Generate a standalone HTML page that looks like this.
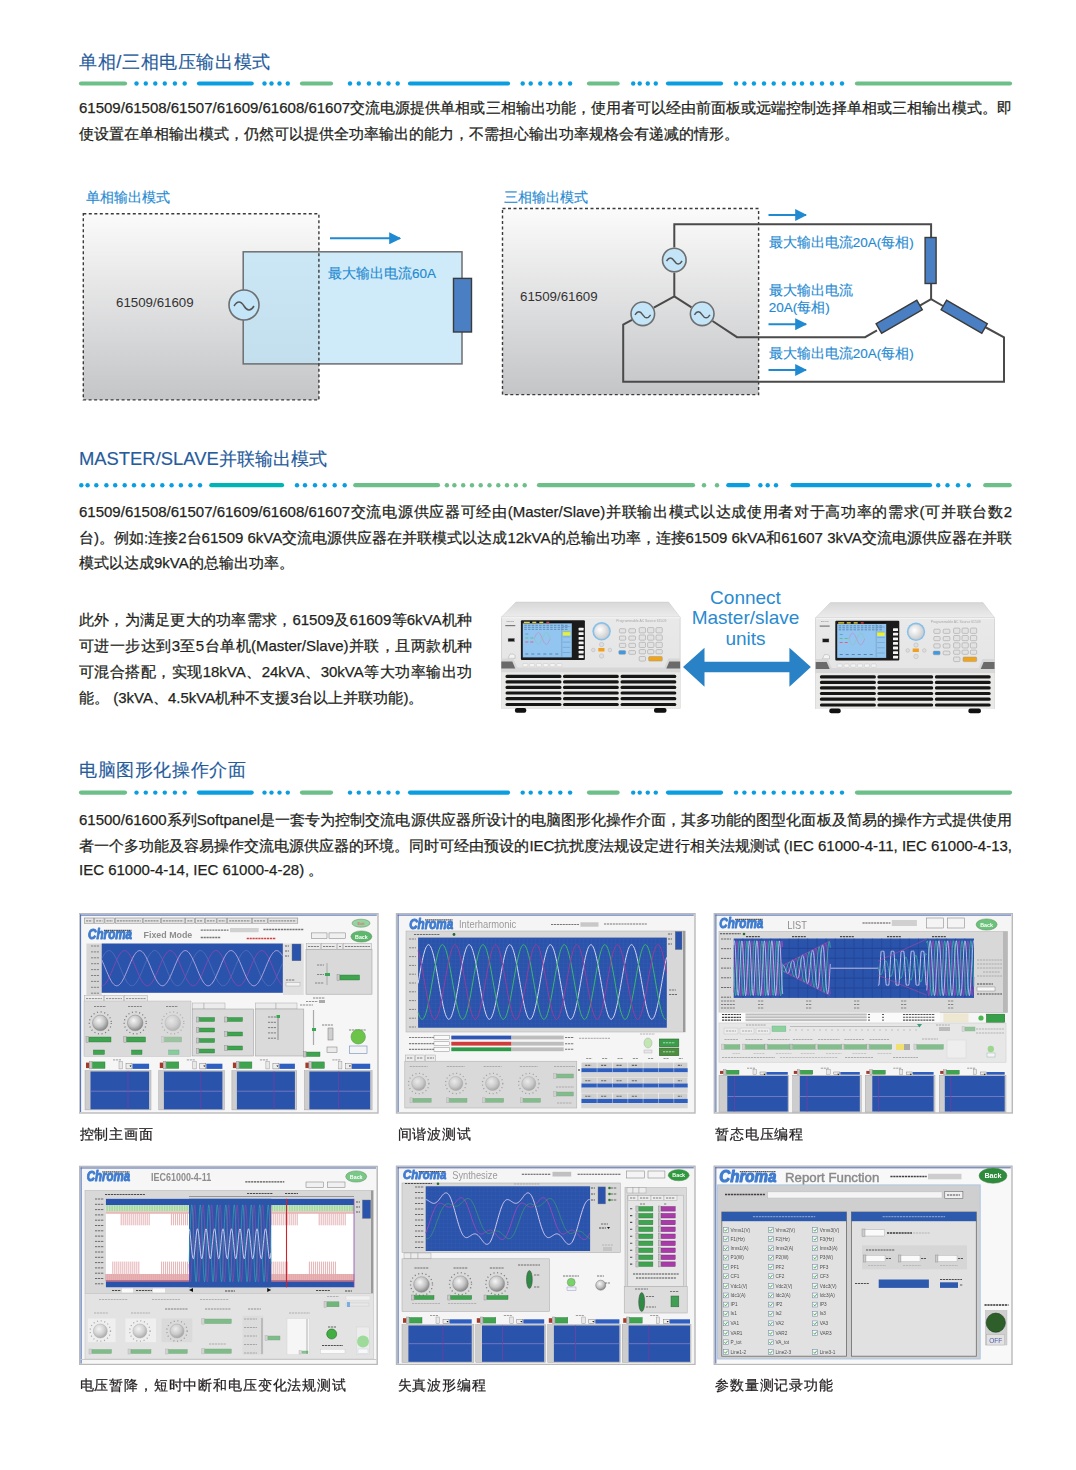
<!DOCTYPE html>
<html><head><meta charset="utf-8">
<style>
*{margin:0;padding:0;box-sizing:border-box}
html,body{width:1076px;height:1470px;background:#fff;overflow:hidden}
body{position:relative;font-family:"Liberation Sans",sans-serif;color:#231f20;font-weight:500}
.a{position:absolute;white-space:nowrap}
.h{font-size:18.4px;letter-spacing:0.6px;color:#265b9c;line-height:24px;-webkit-text-stroke:0.15px #265b9c}
.p{font-size:15px;line-height:26px;-webkit-text-stroke:0.25px #231f20;left:79px;width:933px;text-align:justify;text-align-last:justify}
.pl{text-align-last:left}
.lb{font-size:13.5px;color:#1f8ad2;line-height:16px;-webkit-text-stroke:0.15px #1f8ad2}
.cap{font-size:14px;letter-spacing:0.85px;line-height:20px;color:#231f20;-webkit-text-stroke:0.25px #231f20}
svg.full{position:absolute;left:0;top:0}
</style></head><body>
<svg class="full" width="1076" height="1470" viewBox="0 0 1076 1470">
<defs>
<linearGradient id="gg" x1="0" y1="0" x2="0" y2="1"><stop offset="0" stop-color="#fbfbfb"/><stop offset="1" stop-color="#c4c5c7"/></linearGradient>
<marker id="ah" viewBox="0 0 10 10" refX="9" refY="5" markerWidth="6" markerHeight="6" orient="auto"><path d="M0,0 L10,5 L0,10 z" fill="#1f8ad2"/></marker>
</defs>
<!--L1-->
<line x1="81.0" y1="83.5" x2="125.0" y2="83.5" stroke="#6cbf88" stroke-width="4.2" stroke-linecap="round"/>
<circle cx="136.5" cy="83.5" r="2.2" fill="#0a9ee0"/>
<circle cx="145.8" cy="83.5" r="2.2" fill="#0a9ee0"/>
<circle cx="155.3" cy="83.5" r="2.2" fill="#0a9ee0"/>
<circle cx="164.8" cy="83.5" r="2.2" fill="#0a9ee0"/>
<circle cx="174.9" cy="83.5" r="2.2" fill="#0a9ee0"/>
<circle cx="184.7" cy="83.5" r="2.2" fill="#0a9ee0"/>
<line x1="199.0" y1="83.5" x2="251.7" y2="83.5" stroke="#0a9ee0" stroke-width="4.2" stroke-linecap="round"/>
<circle cx="264.5" cy="83.5" r="2.2" fill="#0a9ee0"/>
<circle cx="271.5" cy="83.5" r="2.2" fill="#0a9ee0"/>
<circle cx="279.5" cy="83.5" r="2.2" fill="#0a9ee0"/>
<circle cx="287.8" cy="83.5" r="2.2" fill="#0a9ee0"/>
<line x1="302.0" y1="83.5" x2="331.0" y2="83.5" stroke="#6cbf88" stroke-width="4.2" stroke-linecap="round"/>
<circle cx="350.0" cy="83.5" r="2.2" fill="#0a9ee0"/>
<circle cx="358.8" cy="83.5" r="2.2" fill="#0a9ee0"/>
<circle cx="368.9" cy="83.5" r="2.2" fill="#0a9ee0"/>
<circle cx="378.9" cy="83.5" r="2.2" fill="#0a9ee0"/>
<circle cx="388.5" cy="83.5" r="2.2" fill="#0a9ee0"/>
<circle cx="397.7" cy="83.5" r="2.2" fill="#0a9ee0"/>
<line x1="410.0" y1="83.5" x2="508.0" y2="83.5" stroke="#0a9ee0" stroke-width="4.2" stroke-linecap="round"/>
<circle cx="522.7" cy="83.5" r="2.2" fill="#0a9ee0"/>
<circle cx="530.7" cy="83.5" r="2.2" fill="#0a9ee0"/>
<circle cx="540.3" cy="83.5" r="2.2" fill="#0a9ee0"/>
<circle cx="550.3" cy="83.5" r="2.2" fill="#0a9ee0"/>
<circle cx="560.3" cy="83.5" r="2.2" fill="#0a9ee0"/>
<circle cx="570.1" cy="83.5" r="2.2" fill="#0a9ee0"/>
<line x1="589.0" y1="83.5" x2="617.6" y2="83.5" stroke="#6cbf88" stroke-width="4.2" stroke-linecap="round"/>
<circle cx="633.2" cy="83.5" r="2.2" fill="#0a9ee0"/>
<circle cx="639.7" cy="83.5" r="2.2" fill="#0a9ee0"/>
<circle cx="647.8" cy="83.5" r="2.2" fill="#0a9ee0"/>
<circle cx="655.8" cy="83.5" r="2.2" fill="#0a9ee0"/>
<line x1="668.0" y1="83.5" x2="721.0" y2="83.5" stroke="#0a9ee0" stroke-width="4.2" stroke-linecap="round"/>
<circle cx="736.0" cy="83.5" r="2.2" fill="#0a9ee0"/>
<circle cx="744.4" cy="83.5" r="2.2" fill="#0a9ee0"/>
<circle cx="753.9" cy="83.5" r="2.2" fill="#0a9ee0"/>
<circle cx="764.0" cy="83.5" r="2.2" fill="#0a9ee0"/>
<circle cx="773.7" cy="83.5" r="2.2" fill="#0a9ee0"/>
<circle cx="783.8" cy="83.5" r="2.2" fill="#0a9ee0"/>
<circle cx="794.0" cy="83.5" r="2.2" fill="#0a9ee0"/>
<circle cx="802.0" cy="83.5" r="2.2" fill="#0a9ee0"/>
<circle cx="812.0" cy="83.5" r="2.2" fill="#0a9ee0"/>
<circle cx="822.0" cy="83.5" r="2.2" fill="#0a9ee0"/>
<circle cx="832.0" cy="83.5" r="2.2" fill="#0a9ee0"/>
<circle cx="842.0" cy="83.5" r="2.2" fill="#0a9ee0"/>
<line x1="857.0" y1="83.5" x2="1010.0" y2="83.5" stroke="#6cbf88" stroke-width="4.2" stroke-linecap="round"/>
<!--L2-->
<circle cx="81.3" cy="485.2" r="2.2" fill="#0a9ee0"/>
<circle cx="87.6" cy="485.2" r="2.2" fill="#0a9ee0"/>
<circle cx="96.3" cy="485.2" r="2.2" fill="#0a9ee0"/>
<circle cx="106.4" cy="485.2" r="2.2" fill="#0a9ee0"/>
<circle cx="115.2" cy="485.2" r="2.2" fill="#0a9ee0"/>
<circle cx="124.7" cy="485.2" r="2.2" fill="#0a9ee0"/>
<circle cx="134.0" cy="485.2" r="2.2" fill="#0a9ee0"/>
<circle cx="143.3" cy="485.2" r="2.2" fill="#0a9ee0"/>
<circle cx="152.8" cy="485.2" r="2.2" fill="#0a9ee0"/>
<circle cx="162.3" cy="485.2" r="2.2" fill="#0a9ee0"/>
<circle cx="171.6" cy="485.2" r="2.2" fill="#0a9ee0"/>
<circle cx="180.9" cy="485.2" r="2.2" fill="#0a9ee0"/>
<circle cx="190.5" cy="485.2" r="2.2" fill="#0a9ee0"/>
<circle cx="200.0" cy="485.2" r="2.2" fill="#0a9ee0"/>
<line x1="211.3" y1="485.2" x2="282.0" y2="485.2" stroke="#00b3b5" stroke-width="4.2" stroke-linecap="round"/>
<circle cx="297.0" cy="485.2" r="2.2" fill="#0a9ee0"/>
<circle cx="305.0" cy="485.2" r="2.2" fill="#0a9ee0"/>
<circle cx="315.0" cy="485.2" r="2.2" fill="#0a9ee0"/>
<circle cx="324.7" cy="485.2" r="2.2" fill="#0a9ee0"/>
<circle cx="334.7" cy="485.2" r="2.2" fill="#0a9ee0"/>
<circle cx="344.7" cy="485.2" r="2.2" fill="#0a9ee0"/>
<line x1="355.3" y1="485.2" x2="438.0" y2="485.2" stroke="#6cbf88" stroke-width="4.2" stroke-linecap="round"/>
<circle cx="446.9" cy="485.2" r="2.2" fill="#6cbf88"/>
<circle cx="454.4" cy="485.2" r="2.2" fill="#6cbf88"/>
<circle cx="463.2" cy="485.2" r="2.2" fill="#6cbf88"/>
<circle cx="472.0" cy="485.2" r="2.2" fill="#6cbf88"/>
<circle cx="480.7" cy="485.2" r="2.2" fill="#6cbf88"/>
<circle cx="489.5" cy="485.2" r="2.2" fill="#6cbf88"/>
<circle cx="498.3" cy="485.2" r="2.2" fill="#6cbf88"/>
<circle cx="507.0" cy="485.2" r="2.2" fill="#6cbf88"/>
<circle cx="515.9" cy="485.2" r="2.2" fill="#6cbf88"/>
<circle cx="524.7" cy="485.2" r="2.2" fill="#6cbf88"/>
<line x1="539.0" y1="485.2" x2="693.0" y2="485.2" stroke="#6cbf88" stroke-width="4.2" stroke-linecap="round"/>
<circle cx="704.0" cy="485.2" r="2.2" fill="#6cbf88"/>
<circle cx="717.0" cy="485.2" r="2.2" fill="#6cbf88"/>
<line x1="728.3" y1="485.2" x2="748.0" y2="485.2" stroke="#0a9ee0" stroke-width="4.2" stroke-linecap="round"/>
<circle cx="760.4" cy="485.2" r="2.2" fill="#0a9ee0"/>
<circle cx="767.7" cy="485.2" r="2.2" fill="#0a9ee0"/>
<circle cx="776.0" cy="485.2" r="2.2" fill="#0a9ee0"/>
<line x1="792.6" y1="485.2" x2="930.0" y2="485.2" stroke="#0a9ee0" stroke-width="4.2" stroke-linecap="round"/>
<circle cx="938.2" cy="485.2" r="2.2" fill="#0a9ee0"/>
<circle cx="947.5" cy="485.2" r="2.2" fill="#0a9ee0"/>
<circle cx="958.0" cy="485.2" r="2.2" fill="#0a9ee0"/>
<circle cx="968.8" cy="485.2" r="2.2" fill="#0a9ee0"/>
<line x1="985.3" y1="485.2" x2="1009.7" y2="485.2" stroke="#6cbf88" stroke-width="4.2" stroke-linecap="round"/>
<!--L3-->
<line x1="81.0" y1="792.6" x2="125.0" y2="792.6" stroke="#6cbf88" stroke-width="4.2" stroke-linecap="round"/>
<circle cx="136.5" cy="792.6" r="2.2" fill="#0a9ee0"/>
<circle cx="145.8" cy="792.6" r="2.2" fill="#0a9ee0"/>
<circle cx="155.3" cy="792.6" r="2.2" fill="#0a9ee0"/>
<circle cx="164.8" cy="792.6" r="2.2" fill="#0a9ee0"/>
<circle cx="174.9" cy="792.6" r="2.2" fill="#0a9ee0"/>
<circle cx="184.7" cy="792.6" r="2.2" fill="#0a9ee0"/>
<line x1="199.0" y1="792.6" x2="251.7" y2="792.6" stroke="#0a9ee0" stroke-width="4.2" stroke-linecap="round"/>
<circle cx="264.5" cy="792.6" r="2.2" fill="#0a9ee0"/>
<circle cx="271.5" cy="792.6" r="2.2" fill="#0a9ee0"/>
<circle cx="279.5" cy="792.6" r="2.2" fill="#0a9ee0"/>
<circle cx="287.8" cy="792.6" r="2.2" fill="#0a9ee0"/>
<line x1="302.0" y1="792.6" x2="331.0" y2="792.6" stroke="#6cbf88" stroke-width="4.2" stroke-linecap="round"/>
<circle cx="350.0" cy="792.6" r="2.2" fill="#0a9ee0"/>
<circle cx="358.8" cy="792.6" r="2.2" fill="#0a9ee0"/>
<circle cx="368.9" cy="792.6" r="2.2" fill="#0a9ee0"/>
<circle cx="378.9" cy="792.6" r="2.2" fill="#0a9ee0"/>
<circle cx="388.5" cy="792.6" r="2.2" fill="#0a9ee0"/>
<circle cx="397.7" cy="792.6" r="2.2" fill="#0a9ee0"/>
<line x1="410.0" y1="792.6" x2="508.0" y2="792.6" stroke="#0a9ee0" stroke-width="4.2" stroke-linecap="round"/>
<circle cx="522.7" cy="792.6" r="2.2" fill="#0a9ee0"/>
<circle cx="530.7" cy="792.6" r="2.2" fill="#0a9ee0"/>
<circle cx="540.3" cy="792.6" r="2.2" fill="#0a9ee0"/>
<circle cx="550.3" cy="792.6" r="2.2" fill="#0a9ee0"/>
<circle cx="560.3" cy="792.6" r="2.2" fill="#0a9ee0"/>
<circle cx="570.1" cy="792.6" r="2.2" fill="#0a9ee0"/>
<line x1="589.0" y1="792.6" x2="617.6" y2="792.6" stroke="#6cbf88" stroke-width="4.2" stroke-linecap="round"/>
<circle cx="633.2" cy="792.6" r="2.2" fill="#0a9ee0"/>
<circle cx="639.7" cy="792.6" r="2.2" fill="#0a9ee0"/>
<circle cx="647.8" cy="792.6" r="2.2" fill="#0a9ee0"/>
<circle cx="655.8" cy="792.6" r="2.2" fill="#0a9ee0"/>
<line x1="668.0" y1="792.6" x2="721.0" y2="792.6" stroke="#0a9ee0" stroke-width="4.2" stroke-linecap="round"/>
<circle cx="736.0" cy="792.6" r="2.2" fill="#0a9ee0"/>
<circle cx="744.4" cy="792.6" r="2.2" fill="#0a9ee0"/>
<circle cx="753.9" cy="792.6" r="2.2" fill="#0a9ee0"/>
<circle cx="764.0" cy="792.6" r="2.2" fill="#0a9ee0"/>
<circle cx="773.7" cy="792.6" r="2.2" fill="#0a9ee0"/>
<circle cx="783.8" cy="792.6" r="2.2" fill="#0a9ee0"/>
<circle cx="794.0" cy="792.6" r="2.2" fill="#0a9ee0"/>
<circle cx="802.0" cy="792.6" r="2.2" fill="#0a9ee0"/>
<circle cx="812.0" cy="792.6" r="2.2" fill="#0a9ee0"/>
<circle cx="822.0" cy="792.6" r="2.2" fill="#0a9ee0"/>
<circle cx="832.0" cy="792.6" r="2.2" fill="#0a9ee0"/>
<circle cx="842.0" cy="792.6" r="2.2" fill="#0a9ee0"/>
<line x1="857.0" y1="792.6" x2="1010.0" y2="792.6" stroke="#6cbf88" stroke-width="4.2" stroke-linecap="round"/>
<!-- diagram 1 -->
<rect x="83.3" y="213.8" width="235.6" height="186.1" fill="url(#gg)"/>
<rect x="243.2" y="251.8" width="218.8" height="112.1" fill="#bfe3f6" fill-opacity="0.75" stroke="#6d6e70" stroke-width="1.5"/>
<rect x="83.3" y="213.8" width="235.6" height="186.1" fill="none" stroke="#3a3a3a" stroke-width="1.4" stroke-dasharray="3 2.5"/>
<rect x="453.5" y="278.4" width="18" height="53.6" fill="#4a80c3" stroke="#3b3b3b" stroke-width="1.4"/>
<circle cx="244" cy="305" r="15" fill="#c3e5f7" stroke="#6d6e70" stroke-width="1.6"/>
<path d="M234,306 q5,-8 10,0 q5,8 10,0" fill="none" stroke="#555" stroke-width="1.5"/>
<line x1="330" y1="238.3" x2="400" y2="238.3" stroke="#1f8ad2" stroke-width="2" marker-end="url(#ah)"/>
<!-- diagram 2 -->
<rect x="502.5" y="208.5" width="256.1" height="186.1" fill="url(#gg)"/>
<rect x="502.5" y="208.5" width="256.1" height="186.1" fill="none" stroke="#3a3a3a" stroke-width="1.4" stroke-dasharray="3 2.5"/>
<g fill="none" stroke="#4a4a4a" stroke-width="2">
<path d="M674.3,247.4 V224.3 H931.1 V237.5"/>
<path d="M931.1,283.4 V299.1"/>
<path d="M674.3,272.6 V296.3 L653.8,307.6"/>
<path d="M674.3,296.3 L691.5,307.3"/>
<path d="M632,319.8 L623.2,324.6 V381.8 H1004 V337.3 L985,327"/>
<path d="M712.5,321 L737,337.2 H865.1 L877,330.4"/>
<path d="M931.1,299.1 L918.5,306.4"/>
<path d="M931.1,299.1 L943,306"/>
</g>
<rect x="925.1" y="237.5" width="11" height="46" fill="#4a80c3" stroke="#3b3b3b" stroke-width="1.4"/>
<rect x="-23.5" y="-5.5" width="47" height="11" fill="#4a80c3" stroke="#3b3b3b" stroke-width="1.4" transform="translate(899.2,316.7) rotate(-30)"/>
<rect x="-23.5" y="-5.5" width="47" height="11" fill="#4a80c3" stroke="#3b3b3b" stroke-width="1.4" transform="translate(964.2,316.7) rotate(30)"/>
<g fill="#c3e5f7" stroke="#6d6e70" stroke-width="1.6">
<circle cx="674.3" cy="260" r="11.8"/><circle cx="642.8" cy="313.8" r="11.8"/><circle cx="702.2" cy="313.8" r="11.8"/>
</g>
<g fill="none" stroke="#555" stroke-width="1.4">
<path d="M666.5,261 q3.9,-6 7.8,0 q3.9,6 7.8,0"/>
<path d="M635,314.8 q3.9,-6 7.8,0 q3.9,6 7.8,0"/>
<path d="M694.4,314.8 q3.9,-6 7.8,0 q3.9,6 7.8,0"/>
</g>
<g stroke="#1f8ad2" stroke-width="2" marker-end="url(#ah)">
<line x1="768.5" y1="215" x2="806" y2="215"/>
<line x1="768.5" y1="324.2" x2="806" y2="324.2"/>
<line x1="768.5" y1="370" x2="806" y2="370"/>
</g>
<!-- connect arrow -->
<path d="M683,667 L704.5,647.7 V661.8 H789.4 V647.7 L810.9,667 L789.4,686.8 V672.2 H704.5 V686.8 Z" fill="#2a82c6"/>
</svg>

<div class="a h" style="left:79px;top:49.5px">单相/三相电压输出模式</div>
<div class="a p" style="top:95px">61509/61508/61507/61609/61608/61607交流电源提供单相或三相输出功能，使用者可以经由前面板或远端控制选择单相或三相输出模式。即</div>
<div class="a p pl" style="top:120.5px">使设置在单相输出模式，仍然可以提供全功率输出的能力，不需担心输出功率规格会有递减的情形。</div>

<div class="a lb" style="left:86px;top:190px">单相输出模式</div>
<div class="a lb" style="left:328px;top:265.5px">最大输出电流60A</div>
<div class="a" style="left:116px;top:295px;font-size:13.3px;color:#333;line-height:16px">61509/61609</div>
<div class="a lb" style="left:504px;top:190px">三相输出模式</div>
<div class="a" style="left:520px;top:289px;font-size:13.3px;color:#333;line-height:16px">61509/61609</div>
<div class="a lb" style="left:768.8px;top:235px">最大输出电流20A(每相)</div>
<div class="a lb" style="left:768.8px;top:283px">最大输出电流</div>
<div class="a lb" style="left:768.8px;top:299.5px">20A(每相)</div>
<div class="a lb" style="left:768.8px;top:346px">最大输出电流20A(每相)</div>

<div class="a h" style="left:79px;top:447px;letter-spacing:0">MASTER/SLAVE并联输出模式</div>
<div class="a p" style="top:499px">61509/61508/61507/61609/61608/61607交流电源供应器可经由(Master/Slave)并联输出模式以达成使用者对于高功率的需求(可并联台数2</div>
<div class="a p" style="top:524.5px">台)。例如:连接2台61509 6kVA交流电源供应器在并联模式以达成12kVA的总输出功率，连接61509 6kVA和61607 3kVA交流电源供应器在并联</div>
<div class="a p pl" style="top:550px">模式以达成9kVA的总输出功率。</div>

<div class="a p" style="top:607px;width:393px">此外，为满足更大的功率需求，61509及61609等6kVA机种</div>
<div class="a p" style="top:633px;width:393px">可进一步达到3至5台单机(Master/Slave)并联，且两款机种</div>
<div class="a p" style="top:659px;width:393px">可混合搭配，实现18kVA、24kVA、30kVA等大功率输出功</div>
<div class="a p pl" style="top:685px;width:393px">能。 (3kVA、4.5kVA机种不支援3台以上并联功能)。</div>

<div class="a" style="left:665px;top:587.5px;width:161px;text-align:center;font-size:19px;line-height:20.8px;color:#2a8ad0;white-space:normal">Connect<br>Master/slave<br>units</div>

<div class="a h" style="left:79px;top:758px">电脑图形化操作介面</div>
<div class="a p" style="top:807px">61500/61600系列Softpanel是一套专为控制交流电源供应器所设计的电脑图形化操作介面，其多功能的图型化面板及简易的操作方式提供使用</div>
<div class="a p" style="top:832.5px">者一个多功能及容易操作交流电源供应器的环境。同时可经由预设的IEC抗扰度法规设定进行相关法规测试 (IEC 61000-4-11, IEC 61000-4-13,</div>
<div class="a p pl" style="top:856.5px">IEC 61000-4-14, IEC 61000-4-28) 。</div>

<svg class="full" width="1076" height="1470" viewBox="0 0 1076 1470" font-family="Liberation Sans">
<defs><radialGradient id="knob" cx="0.4" cy="0.35" r="0.7"><stop offset="0" stop-color="#f6f6f6"/><stop offset="0.55" stop-color="#c4c4c4"/><stop offset="1" stop-color="#7d7d7d"/></radialGradient><pattern id="grid" width="4" height="4" patternUnits="userSpaceOnUse"><path d="M4,0 V4 M0,4 H4" stroke="#3f68b8" stroke-width="0.35" fill="none"/></pattern></defs><filter id="soft" x="0" y="0" width="1" height="1"><feGaussianBlur stdDeviation="0.3"/></filter><g filter="url(#soft)">
<rect x="79.0" y="913.5" width="299.0" height="199.5" fill="#f6f6f6" stroke="#b9b9b9" stroke-width="1.4"/>
<line x1="80.0" y1="915.1" x2="376.8" y2="915.1" stroke="#4667b3" stroke-width="1"/>
<line x1="80.6" y1="914.5" x2="80.6" y2="1112.0" stroke="#4667b3" stroke-width="1"/>
<rect x="84.5" y="918.0" width="9.3" height="5.2" fill="#e6e6e6" stroke="#7a7a7a" stroke-width="0.5"/>
<line x1="86.1" y1="920.8" x2="92.2" y2="920.8" stroke="#333" stroke-width="1.2" opacity="0.5" stroke-dasharray="2.2 0.7"/>
<rect x="94.6" y="918.0" width="9.5" height="5.2" fill="#e6e6e6" stroke="#7a7a7a" stroke-width="0.5"/>
<line x1="96.2" y1="920.8" x2="102.5" y2="920.8" stroke="#333" stroke-width="1.2" opacity="0.5" stroke-dasharray="2.2 0.7"/>
<rect x="104.9" y="918.0" width="9.5" height="5.2" fill="#e6e6e6" stroke="#7a7a7a" stroke-width="0.5"/>
<line x1="106.5" y1="920.8" x2="112.8" y2="920.8" stroke="#333" stroke-width="1.2" opacity="0.5" stroke-dasharray="2.2 0.7"/>
<rect x="115.2" y="918.0" width="27.1" height="5.2" fill="#e6e6e6" stroke="#7a7a7a" stroke-width="0.5"/>
<line x1="116.8" y1="920.8" x2="140.7" y2="920.8" stroke="#333" stroke-width="1.2" opacity="0.5" stroke-dasharray="2.2 0.7"/>
<rect x="143.1" y="918.0" width="17.3" height="5.2" fill="#e6e6e6" stroke="#7a7a7a" stroke-width="0.5"/>
<line x1="144.7" y1="920.8" x2="158.8" y2="920.8" stroke="#333" stroke-width="1.2" opacity="0.5" stroke-dasharray="2.2 0.7"/>
<rect x="161.2" y="918.0" width="23.7" height="5.2" fill="#e6e6e6" stroke="#7a7a7a" stroke-width="0.5"/>
<line x1="162.8" y1="920.8" x2="183.3" y2="920.8" stroke="#333" stroke-width="1.2" opacity="0.5" stroke-dasharray="2.2 0.7"/>
<rect x="185.7" y="918.0" width="9.0" height="5.2" fill="#e6e6e6" stroke="#7a7a7a" stroke-width="0.5"/>
<line x1="187.3" y1="920.8" x2="193.1" y2="920.8" stroke="#333" stroke-width="1.2" opacity="0.5" stroke-dasharray="2.2 0.7"/>
<rect x="195.5" y="918.0" width="8.9" height="5.2" fill="#e6e6e6" stroke="#7a7a7a" stroke-width="0.5"/>
<line x1="197.1" y1="920.8" x2="202.8" y2="920.8" stroke="#333" stroke-width="1.2" opacity="0.5" stroke-dasharray="2.2 0.7"/>
<rect x="205.2" y="918.0" width="11.0" height="5.2" fill="#e6e6e6" stroke="#7a7a7a" stroke-width="0.5"/>
<line x1="206.8" y1="920.8" x2="214.6" y2="920.8" stroke="#333" stroke-width="1.2" opacity="0.5" stroke-dasharray="2.2 0.7"/>
<rect x="217.0" y="918.0" width="9.8" height="5.2" fill="#e6e6e6" stroke="#7a7a7a" stroke-width="0.5"/>
<line x1="218.6" y1="920.8" x2="225.2" y2="920.8" stroke="#333" stroke-width="1.2" opacity="0.5" stroke-dasharray="2.2 0.7"/>
<rect x="227.6" y="918.0" width="24.2" height="5.2" fill="#e6e6e6" stroke="#7a7a7a" stroke-width="0.5"/>
<line x1="229.2" y1="920.8" x2="250.2" y2="920.8" stroke="#333" stroke-width="1.2" opacity="0.5" stroke-dasharray="2.2 0.7"/>
<rect x="252.6" y="918.0" width="14.6" height="5.2" fill="#e6e6e6" stroke="#7a7a7a" stroke-width="0.5"/>
<line x1="254.2" y1="920.8" x2="265.6" y2="920.8" stroke="#333" stroke-width="1.2" opacity="0.5" stroke-dasharray="2.2 0.7"/>
<rect x="268.0" y="918.0" width="29.8" height="5.2" fill="#e6e6e6" stroke="#7a7a7a" stroke-width="0.5"/>
<line x1="269.6" y1="920.8" x2="296.2" y2="920.8" stroke="#333" stroke-width="1.2" opacity="0.5" stroke-dasharray="2.2 0.7"/>
<text x="88.1" y="938.9" font-size="13.8" fill="#3f7bcf" text-anchor="start" font-weight="bold" font-style="italic" textLength="44.0" lengthAdjust="spacingAndGlyphs" stroke="#3f7bcf" stroke-width="0.95" stroke-linejoin="round" font-family="Liberation Sans">Chroma</text>
<line x1="103.9" y1="930.4" x2="131.5" y2="930.4" stroke="#222" stroke-width="1.17" opacity="0.75" stroke-dasharray="1.5 0.4"/>
<text x="143.5" y="938.2" font-size="9.6" fill="#8d8d8d" text-anchor="start" font-weight="bold" font-style="normal" textLength="48.8" lengthAdjust="spacingAndGlyphs">Fixed Mode</text>
<line x1="200.7" y1="930.2" x2="228.5" y2="930.2" stroke="#222" stroke-width="1.3" opacity="0.6" stroke-dasharray="2.2 0.7"/>
<rect x="230.0" y="928.0" width="28.7" height="4.2" fill="#d0d0d0"/>
<line x1="263.4" y1="929.5" x2="303.8" y2="929.5" stroke="#222" stroke-width="1.3" opacity="0.6" stroke-dasharray="2.2 0.7"/>
<line x1="200.7" y1="937.5" x2="220.2" y2="937.5" stroke="#222" stroke-width="1.3" opacity="0.6" stroke-dasharray="2.2 0.7"/>
<line x1="246.7" y1="938.5" x2="276.0" y2="938.5" stroke="#d02020" stroke-width="1.6" opacity="0.85" stroke-dasharray="2.2 0.7"/>
<rect x="311.6" y="932.9" width="15.4" height="5.6" fill="#f0f0f0" stroke="#7a7a7a" stroke-width="0.5"/>
<rect x="329.0" y="932.9" width="16.6" height="5.6" fill="#f0f0f0" stroke="#7a7a7a" stroke-width="0.5"/>
<ellipse cx="361.0" cy="923.2" rx="9.0" ry="4.0" fill="#95d3a0" stroke="#5a8a5a" stroke-width="0.5"/>
<text x="361.0" y="924.6" font-size="3.8" fill="#e07070" text-anchor="middle" font-weight="bold" font-style="normal">Exit</text>
<ellipse cx="361.4" cy="936.5" rx="10.5" ry="5.6" fill="#5db76c" stroke="#5a8a5a" stroke-width="0.5"/>
<text x="361.4" y="938.5" font-size="5.3" fill="#fff" text-anchor="middle" font-weight="bold" font-style="normal">Back</text>
<rect x="86.4" y="943.5" width="15.3" height="51.5" fill="#d6d6d6"/>
<line x1="91.0" y1="946.0" x2="99.0" y2="946.0" stroke="#333" stroke-width="1" opacity="0.5" stroke-dasharray="2.2 0.7"/>
<line x1="91.0" y1="951.9" x2="99.0" y2="951.9" stroke="#333" stroke-width="1" opacity="0.5" stroke-dasharray="2.2 0.7"/>
<line x1="91.0" y1="957.8" x2="99.0" y2="957.8" stroke="#333" stroke-width="1" opacity="0.5" stroke-dasharray="2.2 0.7"/>
<line x1="91.0" y1="963.7" x2="99.0" y2="963.7" stroke="#333" stroke-width="1" opacity="0.5" stroke-dasharray="2.2 0.7"/>
<line x1="91.0" y1="969.6" x2="99.0" y2="969.6" stroke="#333" stroke-width="1" opacity="0.5" stroke-dasharray="2.2 0.7"/>
<line x1="91.0" y1="975.5" x2="99.0" y2="975.5" stroke="#333" stroke-width="1" opacity="0.5" stroke-dasharray="2.2 0.7"/>
<line x1="91.0" y1="981.4" x2="99.0" y2="981.4" stroke="#333" stroke-width="1" opacity="0.5" stroke-dasharray="2.2 0.7"/>
<line x1="91.0" y1="987.3" x2="99.0" y2="987.3" stroke="#333" stroke-width="1" opacity="0.5" stroke-dasharray="2.2 0.7"/>
<line x1="91.0" y1="993.2" x2="99.0" y2="993.2" stroke="#333" stroke-width="1" opacity="0.5" stroke-dasharray="2.2 0.7"/>
<rect x="101.7" y="943.5" width="181.2" height="49.3" fill="#2b52ab"/>
<polyline points="101.7,958.7 102.4,957.4 103.1,956.1 103.8,954.9 104.5,953.9 105.2,952.9 105.9,952.2 106.6,951.5 107.3,951.1 108.0,950.8 108.7,950.6 109.4,950.6 110.1,950.8 110.8,951.1 111.5,951.6 112.2,952.3 112.9,953.1 113.6,954.0 114.3,955.1 115.0,956.3 115.7,957.6 116.4,958.9 117.1,960.4 117.8,962.0 118.5,963.6 119.2,965.2 119.9,966.9 120.6,968.6 121.3,970.3 122.0,972.0 122.7,973.6 123.4,975.2 124.1,976.7 124.8,978.2 125.5,979.5 126.2,980.8 126.9,981.9 127.6,982.9 128.3,983.7 129.0,984.5 129.7,985.0 130.4,985.5 131.1,985.7 131.8,985.8 132.5,985.7 133.2,985.5 133.9,985.1 134.6,984.6 135.3,983.9 136.0,983.0 136.7,982.0 137.4,980.9 138.1,979.7 138.8,978.4 139.5,976.9 140.2,975.4 140.9,973.8 141.6,972.2 142.3,970.6 143.0,968.9 143.7,967.2 144.4,965.5 145.1,963.8 145.8,962.2 146.5,960.6 147.2,959.2 147.9,957.7 148.6,956.4 149.3,955.2 150.0,954.1 150.7,953.2 151.4,952.4 152.1,951.7 152.8,951.2 153.5,950.8 154.2,950.6 154.9,950.6 155.6,950.7 156.3,951.0 157.0,951.5 157.7,952.1 158.4,952.8 159.1,953.7 159.8,954.8 160.5,955.9 161.2,957.2 161.9,958.5 162.6,960.0 163.3,961.5 164.0,963.1 164.7,964.8 165.4,966.4 166.1,968.1 166.8,969.8 167.5,971.5 168.2,973.2 168.9,974.8 169.6,976.3 170.3,977.8 171.0,979.1 171.7,980.4 172.4,981.6 173.1,982.6 173.8,983.5 174.5,984.3 175.2,984.9 175.9,985.3 176.6,985.7 177.3,985.8 178.0,985.8 178.7,985.6 179.4,985.2 180.1,984.7 180.8,984.1 181.5,983.3 182.2,982.3 182.9,981.2 183.6,980.1 184.3,978.7 185.0,977.3 185.7,975.9 186.4,974.3 187.1,972.7 187.8,971.0 188.5,969.3 189.2,967.7 189.9,966.0 190.6,964.3 191.3,962.7 192.0,961.1 192.7,959.6 193.4,958.1 194.1,956.8 194.8,955.6 195.5,954.4 196.2,953.5 196.9,952.6 197.6,951.9 198.3,951.3 199.0,950.9 199.7,950.7 200.4,950.6 201.1,950.7 201.8,950.9 202.5,951.3 203.2,951.9 203.9,952.6 204.6,953.5 205.3,954.4 206.0,955.6 206.7,956.8 207.4,958.1 208.1,959.6 208.8,961.1 209.5,962.7 210.2,964.3 210.9,966.0 211.6,967.7 212.3,969.3 213.0,971.0 213.7,972.7 214.4,974.3 215.1,975.9 215.8,977.3 216.5,978.7 217.2,980.1 217.9,981.2 218.6,982.3 219.3,983.3 220.0,984.1 220.7,984.7 221.4,985.2 222.1,985.6 222.8,985.8 223.5,985.8 224.2,985.7 224.9,985.3 225.6,984.9 226.3,984.3 227.0,983.5 227.7,982.6 228.4,981.6 229.1,980.4 229.8,979.1 230.5,977.8 231.2,976.3 231.9,974.8 232.6,973.2 233.3,971.5 234.0,969.8 234.7,968.1 235.4,966.4 236.1,964.8 236.8,963.1 237.5,961.5 238.2,960.0 238.9,958.5 239.6,957.2 240.3,955.9 241.0,954.8 241.7,953.7 242.4,952.8 243.1,952.1 243.8,951.5 244.5,951.0 245.2,950.7 245.9,950.6 246.6,950.6 247.3,950.8 248.0,951.2 248.7,951.7 249.4,952.4 250.1,953.2 250.8,954.1 251.5,955.2 252.2,956.4 252.9,957.7 253.6,959.2 254.3,960.6 255.0,962.2 255.7,963.8 256.4,965.5 257.1,967.2 257.8,968.9 258.5,970.6 259.2,972.2 259.9,973.8 260.6,975.4 261.3,976.9 262.0,978.4 262.7,979.7 263.4,980.9 264.1,982.0 264.8,983.0 265.5,983.9 266.2,984.6 266.9,985.1 267.6,985.5 268.3,985.7 269.0,985.8 269.7,985.7 270.4,985.5 271.1,985.0 271.8,984.5 272.5,983.7 273.2,982.9 273.9,981.9 274.6,980.8 275.3,979.5 276.0,978.2 276.7,976.7 277.4,975.2 278.1,973.6 278.8,972.0 279.5,970.3 280.2,968.6 280.9,966.9 281.6,965.2 282.3,963.6" fill="none" stroke="#8294c8" stroke-width="0.7" opacity="0.55"/>
<polyline points="101.7,985.8 102.4,985.7 103.1,985.5 103.8,985.1 104.5,984.6 105.2,983.9 105.9,983.0 106.6,982.0 107.3,980.9 108.0,979.7 108.7,978.4 109.4,976.9 110.1,975.4 110.8,973.8 111.5,972.2 112.2,970.6 112.9,968.9 113.6,967.2 114.3,965.5 115.0,963.8 115.7,962.2 116.4,960.6 117.1,959.2 117.8,957.7 118.5,956.4 119.2,955.2 119.9,954.1 120.6,953.2 121.3,952.4 122.0,951.7 122.7,951.2 123.4,950.8 124.1,950.6 124.8,950.6 125.5,950.7 126.2,951.0 126.9,951.5 127.6,952.1 128.3,952.8 129.0,953.7 129.7,954.8 130.4,955.9 131.1,957.2 131.8,958.5 132.5,960.0 133.2,961.5 133.9,963.1 134.6,964.8 135.3,966.4 136.0,968.1 136.7,969.8 137.4,971.5 138.1,973.2 138.8,974.8 139.5,976.3 140.2,977.8 140.9,979.1 141.6,980.4 142.3,981.6 143.0,982.6 143.7,983.5 144.4,984.3 145.1,984.9 145.8,985.3 146.5,985.7 147.2,985.8 147.9,985.8 148.6,985.6 149.3,985.2 150.0,984.7 150.7,984.1 151.4,983.3 152.1,982.3 152.8,981.2 153.5,980.1 154.2,978.7 154.9,977.3 155.6,975.9 156.3,974.3 157.0,972.7 157.7,971.0 158.4,969.3 159.1,967.7 159.8,966.0 160.5,964.3 161.2,962.7 161.9,961.1 162.6,959.6 163.3,958.1 164.0,956.8 164.7,955.6 165.4,954.4 166.1,953.5 166.8,952.6 167.5,951.9 168.2,951.3 168.9,950.9 169.6,950.7 170.3,950.6 171.0,950.7 171.7,950.9 172.4,951.3 173.1,951.9 173.8,952.6 174.5,953.5 175.2,954.4 175.9,955.6 176.6,956.8 177.3,958.1 178.0,959.6 178.7,961.1 179.4,962.7 180.1,964.3 180.8,966.0 181.5,967.7 182.2,969.3 182.9,971.0 183.6,972.7 184.3,974.3 185.0,975.9 185.7,977.3 186.4,978.7 187.1,980.1 187.8,981.2 188.5,982.3 189.2,983.3 189.9,984.1 190.6,984.7 191.3,985.2 192.0,985.6 192.7,985.8 193.4,985.8 194.1,985.7 194.8,985.3 195.5,984.9 196.2,984.3 196.9,983.5 197.6,982.6 198.3,981.6 199.0,980.4 199.7,979.1 200.4,977.8 201.1,976.3 201.8,974.8 202.5,973.2 203.2,971.5 203.9,969.8 204.6,968.1 205.3,966.4 206.0,964.8 206.7,963.1 207.4,961.5 208.1,960.0 208.8,958.5 209.5,957.2 210.2,955.9 210.9,954.8 211.6,953.7 212.3,952.8 213.0,952.1 213.7,951.5 214.4,951.0 215.1,950.7 215.8,950.6 216.5,950.6 217.2,950.8 217.9,951.2 218.6,951.7 219.3,952.4 220.0,953.2 220.7,954.1 221.4,955.2 222.1,956.4 222.8,957.7 223.5,959.2 224.2,960.6 224.9,962.2 225.6,963.8 226.3,965.5 227.0,967.2 227.7,968.9 228.4,970.6 229.1,972.2 229.8,973.8 230.5,975.4 231.2,976.9 231.9,978.4 232.6,979.7 233.3,980.9 234.0,982.0 234.7,983.0 235.4,983.9 236.1,984.6 236.8,985.1 237.5,985.5 238.2,985.7 238.9,985.8 239.6,985.7 240.3,985.5 241.0,985.0 241.7,984.5 242.4,983.7 243.1,982.9 243.8,981.9 244.5,980.8 245.2,979.5 245.9,978.2 246.6,976.7 247.3,975.2 248.0,973.6 248.7,972.0 249.4,970.3 250.1,968.6 250.8,966.9 251.5,965.2 252.2,963.6 252.9,962.0 253.6,960.4 254.3,958.9 255.0,957.6 255.7,956.3 256.4,955.1 257.1,954.0 257.8,953.1 258.5,952.3 259.2,951.6 259.9,951.1 260.6,950.8 261.3,950.6 262.0,950.6 262.7,950.8 263.4,951.1 264.1,951.5 264.8,952.2 265.5,952.9 266.2,953.9 266.9,954.9 267.6,956.1 268.3,957.4 269.0,958.7 269.7,960.2 270.4,961.8 271.1,963.4 271.8,965.0 272.5,966.7 273.2,968.4 273.9,970.1 274.6,971.7 275.3,973.4 276.0,975.0 276.7,976.5 277.4,978.0 278.1,979.3 278.8,980.6 279.5,981.7 280.2,982.7 280.9,983.6 281.6,984.4 282.3,985.0" fill="none" stroke="#8a48b0" stroke-width="0.9" opacity="1"/>
<polyline points="101.7,959.8 102.4,961.3 103.1,962.9 103.8,964.5 104.5,966.2 105.2,967.9 105.9,969.6 106.6,971.3 107.3,972.9 108.0,974.5 108.7,976.1 109.4,977.6 110.1,978.9 110.8,980.2 111.5,981.4 112.2,982.5 112.9,983.4 113.6,984.2 114.3,984.8 115.0,985.3 115.7,985.6 116.4,985.8 117.1,985.8 117.8,985.6 118.5,985.3 119.2,984.8 119.9,984.2 120.6,983.4 121.3,982.5 122.0,981.4 122.7,980.2 123.4,978.9 124.1,977.6 124.8,976.1 125.5,974.5 126.2,972.9 126.9,971.3 127.6,969.6 128.3,967.9 129.0,966.2 129.7,964.5 130.4,962.9 131.1,961.3 131.8,959.8 132.5,958.3 133.2,957.0 133.9,955.7 134.6,954.6 135.3,953.6 136.0,952.7 136.7,952.0 137.4,951.4 138.1,951.0 138.8,950.7 139.5,950.6 140.2,950.7 140.9,950.9 141.6,951.3 142.3,951.8 143.0,952.5 143.7,953.3 144.4,954.3 145.1,955.4 145.8,956.6 146.5,957.9 147.2,959.4 147.9,960.9 148.6,962.4 149.3,964.1 150.0,965.7 150.7,967.4 151.4,969.1 152.1,970.8 152.8,972.5 153.5,974.1 154.2,975.6 154.9,977.1 155.6,978.6 156.3,979.9 157.0,981.1 157.7,982.2 158.4,983.1 159.1,984.0 159.8,984.6 160.5,985.2 161.2,985.5 161.9,985.7 162.6,985.8 163.3,985.7 164.0,985.4 164.7,985.0 165.4,984.4 166.1,983.6 166.8,982.7 167.5,981.7 168.2,980.6 168.9,979.3 169.6,978.0 170.3,976.5 171.0,975.0 171.7,973.4 172.4,971.7 173.1,970.1 173.8,968.4 174.5,966.7 175.2,965.0 175.9,963.4 176.6,961.8 177.3,960.2 178.0,958.7 178.7,957.4 179.4,956.1 180.1,954.9 180.8,953.9 181.5,952.9 182.2,952.2 182.9,951.5 183.6,951.1 184.3,950.8 185.0,950.6 185.7,950.6 186.4,950.8 187.1,951.1 187.8,951.6 188.5,952.3 189.2,953.1 189.9,954.0 190.6,955.1 191.3,956.3 192.0,957.6 192.7,958.9 193.4,960.4 194.1,962.0 194.8,963.6 195.5,965.2 196.2,966.9 196.9,968.6 197.6,970.3 198.3,972.0 199.0,973.6 199.7,975.2 200.4,976.7 201.1,978.2 201.8,979.5 202.5,980.8 203.2,981.9 203.9,982.9 204.6,983.7 205.3,984.5 206.0,985.0 206.7,985.5 207.4,985.7 208.1,985.8 208.8,985.7 209.5,985.5 210.2,985.1 210.9,984.6 211.6,983.9 212.3,983.0 213.0,982.0 213.7,980.9 214.4,979.7 215.1,978.4 215.8,976.9 216.5,975.4 217.2,973.8 217.9,972.2 218.6,970.6 219.3,968.9 220.0,967.2 220.7,965.5 221.4,963.8 222.1,962.2 222.8,960.6 223.5,959.2 224.2,957.7 224.9,956.4 225.6,955.2 226.3,954.1 227.0,953.2 227.7,952.4 228.4,951.7 229.1,951.2 229.8,950.8 230.5,950.6 231.2,950.6 231.9,950.7 232.6,951.0 233.3,951.5 234.0,952.1 234.7,952.8 235.4,953.7 236.1,954.8 236.8,955.9 237.5,957.2 238.2,958.5 238.9,960.0 239.6,961.5 240.3,963.1 241.0,964.8 241.7,966.4 242.4,968.1 243.1,969.8 243.8,971.5 244.5,973.2 245.2,974.8 245.9,976.3 246.6,977.8 247.3,979.1 248.0,980.4 248.7,981.6 249.4,982.6 250.1,983.5 250.8,984.3 251.5,984.9 252.2,985.3 252.9,985.7 253.6,985.8 254.3,985.8 255.0,985.6 255.7,985.2 256.4,984.7 257.1,984.1 257.8,983.3 258.5,982.3 259.2,981.2 259.9,980.1 260.6,978.7 261.3,977.3 262.0,975.9 262.7,974.3 263.4,972.7 264.1,971.0 264.8,969.3 265.5,967.7 266.2,966.0 266.9,964.3 267.6,962.7 268.3,961.1 269.0,959.6 269.7,958.1 270.4,956.8 271.1,955.6 271.8,954.4 272.5,953.5 273.2,952.6 273.9,951.9 274.6,951.3 275.3,950.9 276.0,950.7 276.7,950.6 277.4,950.7 278.1,950.9 278.8,951.3 279.5,951.9 280.2,952.6 280.9,953.5 281.6,954.4 282.3,955.6" fill="none" stroke="#bcaee2" stroke-width="0.9" opacity="1"/>
<rect x="282.9" y="943.5" width="20.9" height="51.5" fill="#e0e0e0"/>
<rect x="292.0" y="944.0" width="9.0" height="16.8" fill="#2b52ab" stroke="#777" stroke-width="0.4"/>
<line x1="285.0" y1="946.0" x2="289.0" y2="946.0" stroke="#333" stroke-width="1.2" opacity="0.7" stroke-dasharray="2.2 0.7"/>
<line x1="285.0" y1="951.0" x2="289.0" y2="951.0" stroke="#333" stroke-width="1.2" opacity="0.7" stroke-dasharray="2.2 0.7"/>
<line x1="285.0" y1="956.0" x2="289.0" y2="956.0" stroke="#333" stroke-width="1.2" opacity="0.7" stroke-dasharray="2.2 0.7"/>
<line x1="286.0" y1="980.0" x2="295.0" y2="980.0" stroke="#333" stroke-width="1.2" opacity="0.6" stroke-dasharray="2.2 0.7"/>
<rect x="286.0" y="982.5" width="14.0" height="3.5" fill="#f2f2f2" stroke="#999" stroke-width="0.4"/>
<rect x="306.3" y="943.2" width="14.4" height="6.4" fill="#e9e9e9" stroke="#9a9a9a" stroke-width="0.4"/>
<line x1="308.0" y1="946.5" x2="319.0" y2="946.5" stroke="#333" stroke-width="1.1" opacity="0.6" stroke-dasharray="2.2 0.7"/>
<rect x="321.3" y="943.2" width="15.4" height="6.4" fill="#e9e9e9" stroke="#9a9a9a" stroke-width="0.4"/>
<line x1="323.0" y1="946.5" x2="335.0" y2="946.5" stroke="#333" stroke-width="1.1" opacity="0.6" stroke-dasharray="2.2 0.7"/>
<rect x="337.3" y="943.2" width="5.4" height="6.4" fill="#e9e9e9" stroke="#9a9a9a" stroke-width="0.4"/>
<line x1="339.0" y1="946.5" x2="341.0" y2="946.5" stroke="#333" stroke-width="1.1" opacity="0.6" stroke-dasharray="2.2 0.7"/>
<rect x="343.3" y="943.2" width="28.4" height="6.4" fill="#e9e9e9" stroke="#9a9a9a" stroke-width="0.4"/>
<line x1="345.0" y1="946.5" x2="370.0" y2="946.5" stroke="#333" stroke-width="1.1" opacity="0.6" stroke-dasharray="2.2 0.7"/>
<rect x="306.0" y="949.6" width="66.0" height="44.6" fill="#d9d9d9" stroke="#9a9a9a" stroke-width="0.5"/>
<line x1="327" y1="963" x2="327" y2="985" stroke="#aaa" stroke-width="1"/>
<rect x="325.0" y="973.0" width="5.0" height="3.0" fill="#3aa655"/>
<line x1="317.0" y1="974.5" x2="324.0" y2="974.5" stroke="#333" stroke-width="1" opacity="0.5" stroke-dasharray="2.2 0.7"/>
<line x1="317.0" y1="965.0" x2="324.0" y2="965.0" stroke="#333" stroke-width="1" opacity="0.5" stroke-dasharray="2.2 0.7"/>
<line x1="315.0" y1="983.0" x2="324.0" y2="983.0" stroke="#333" stroke-width="1" opacity="0.5" stroke-dasharray="2.2 0.7"/>
<g opacity="1">
<rect x="337.0" y="974.5" width="2.5" height="6.0" fill="#c8c8c8" stroke="#888" stroke-width="0.4"/>
<rect x="340.0" y="975.0" width="19.6" height="5.0" fill="#3fa34f" stroke="#2d7a3a" stroke-width="0.4"/>
</g>
<rect x="84.3" y="995.6" width="19.4" height="5.6" fill="#ececec" stroke="#9a9a9a" stroke-width="0.4"/>
<line x1="86.0" y1="998.6" x2="102.0" y2="998.6" stroke="#333" stroke-width="1" opacity="0.5" stroke-dasharray="2.2 0.7"/>
<rect x="104.3" y="995.6" width="19.4" height="5.6" fill="#ececec" stroke="#9a9a9a" stroke-width="0.4"/>
<line x1="106.0" y1="998.6" x2="122.0" y2="998.6" stroke="#333" stroke-width="1" opacity="0.5" stroke-dasharray="2.2 0.7"/>
<rect x="124.3" y="995.6" width="23.4" height="5.6" fill="#ececec" stroke="#9a9a9a" stroke-width="0.4"/>
<line x1="126.0" y1="998.6" x2="146.0" y2="998.6" stroke="#333" stroke-width="1" opacity="0.5" stroke-dasharray="2.2 0.7"/>
<rect x="84.0" y="1001.0" width="107.0" height="55.3" fill="#dadada" stroke="#b0b0b0" stroke-width="0.4"/>
<g opacity="1"><circle cx="100.3" cy="1022.9" r="11.0" fill="none" stroke="#333" stroke-width="1.3" stroke-dasharray="1.1 2.6" opacity="0.55"/><circle cx="100.3" cy="1022.9" r="7.8" fill="url(#knob)" stroke="#8a8a8a" stroke-width="0.5"/></g>
<g opacity="1"><circle cx="135.2" cy="1022.9" r="11.0" fill="none" stroke="#333" stroke-width="1.3" stroke-dasharray="1.1 2.6" opacity="0.55"/><circle cx="135.2" cy="1022.9" r="7.8" fill="url(#knob)" stroke="#8a8a8a" stroke-width="0.5"/></g>
<g opacity="0.45"><circle cx="172.8" cy="1022.9" r="11.0" fill="none" stroke="#333" stroke-width="1.3" stroke-dasharray="1.1 2.6" opacity="0.55"/><circle cx="172.8" cy="1022.9" r="7.8" fill="url(#knob)" stroke="#8a8a8a" stroke-width="0.5"/></g>
<line x1="94.0" y1="1006.5" x2="106.0" y2="1006.5" stroke="#333" stroke-width="1" opacity="0.5" stroke-dasharray="2.2 0.7"/>
<line x1="128.0" y1="1006.5" x2="142.0" y2="1006.5" stroke="#333" stroke-width="1" opacity="0.5" stroke-dasharray="2.2 0.7"/>
<line x1="166.0" y1="1006.5" x2="178.0" y2="1006.5" stroke="#333" stroke-width="1" opacity="0.5" stroke-dasharray="2.2 0.7"/>
<g opacity="1">
<rect x="86.0" y="1036.5" width="2.5" height="6.0" fill="#c8c8c8" stroke="#888" stroke-width="0.4"/>
<rect x="89.0" y="1037.0" width="22.0" height="5.0" fill="#3fa34f" stroke="#2d7a3a" stroke-width="0.4"/>
</g>
<g opacity="1">
<rect x="123.8" y="1036.5" width="2.5" height="6.0" fill="#c8c8c8" stroke="#888" stroke-width="0.4"/>
<rect x="126.8" y="1037.0" width="18.7" height="5.0" fill="#3fa34f" stroke="#2d7a3a" stroke-width="0.4"/>
</g>
<g opacity="0.4">
<rect x="161.4" y="1036.5" width="2.5" height="6.0" fill="#c8c8c8" stroke="#888" stroke-width="0.4"/>
<rect x="164.4" y="1037.0" width="17.3" height="5.0" fill="#3fa34f" stroke="#2d7a3a" stroke-width="0.4"/>
</g>
<rect x="93.3" y="1050.0" width="11.2" height="4.5" fill="#3fa34f" stroke="#2d7a3a" stroke-width="0.4"/>
<rect x="131.5" y="1050.0" width="10.5" height="4.5" fill="#3fa34f" stroke="#2d7a3a" stroke-width="0.4"/>
<rect x="168.6" y="1050.0" width="10.4" height="4.5" fill="#88cc99" stroke="#6a9" stroke-width="0.4"/>
<rect x="192.5" y="1003.0" width="11.5" height="6.0" fill="#ececec" stroke="#9a9a9a" stroke-width="0.4"/>
<rect x="204.0" y="1003.0" width="21.0" height="6.0" fill="#ececec" stroke="#9a9a9a" stroke-width="0.4"/>
<rect x="192.3" y="1009.0" width="61.3" height="47.0" fill="#dadada" stroke="#9a9a9a" stroke-width="0.5"/>
<g opacity="1">
<rect x="196.3" y="1017.0" width="2.5" height="5.0" fill="#c8c8c8" stroke="#888" stroke-width="0.4"/>
<rect x="199.3" y="1017.5" width="15.3" height="4.0" fill="#3fa34f" stroke="#2d7a3a" stroke-width="0.4"/>
</g>
<g opacity="1">
<rect x="196.3" y="1027.5" width="2.5" height="5.0" fill="#c8c8c8" stroke="#888" stroke-width="0.4"/>
<rect x="199.3" y="1028.0" width="15.3" height="4.0" fill="#3fa34f" stroke="#2d7a3a" stroke-width="0.4"/>
</g>
<g opacity="1">
<rect x="196.3" y="1038.0" width="2.5" height="5.0" fill="#c8c8c8" stroke="#888" stroke-width="0.4"/>
<rect x="199.3" y="1038.5" width="15.3" height="4.0" fill="#3fa34f" stroke="#2d7a3a" stroke-width="0.4"/>
</g>
<g opacity="1">
<rect x="196.3" y="1048.5" width="2.5" height="5.0" fill="#c8c8c8" stroke="#888" stroke-width="0.4"/>
<rect x="199.3" y="1049.0" width="15.3" height="4.0" fill="#3fa34f" stroke="#2d7a3a" stroke-width="0.4"/>
</g>
<g opacity="1">
<rect x="224.7" y="1017.0" width="2.5" height="5.0" fill="#c8c8c8" stroke="#888" stroke-width="0.4"/>
<rect x="227.7" y="1017.5" width="14.8" height="4.0" fill="#3fa34f" stroke="#2d7a3a" stroke-width="0.4"/>
</g>
<g opacity="1">
<rect x="224.7" y="1031.5" width="2.5" height="5.0" fill="#c8c8c8" stroke="#888" stroke-width="0.4"/>
<rect x="227.7" y="1032.0" width="14.8" height="4.0" fill="#3fa34f" stroke="#2d7a3a" stroke-width="0.4"/>
</g>
<g opacity="1">
<rect x="224.7" y="1045.5" width="2.5" height="5.0" fill="#c8c8c8" stroke="#888" stroke-width="0.4"/>
<rect x="227.7" y="1046.0" width="14.8" height="4.0" fill="#3fa34f" stroke="#2d7a3a" stroke-width="0.4"/>
</g>
<rect x="255.6" y="1003.0" width="20.4" height="6.0" fill="#ececec" stroke="#9a9a9a" stroke-width="0.4"/>
<rect x="276.0" y="1003.0" width="21.0" height="6.0" fill="#ececec" stroke="#9a9a9a" stroke-width="0.4"/>
<rect x="255.6" y="1009.0" width="48.2" height="47.0" fill="#dadada" stroke="#9a9a9a" stroke-width="0.5"/>
<line x1="278" y1="1016" x2="278" y2="1040" stroke="#999" stroke-width="1.2"/>
<rect x="276.5" y="1015.0" width="3.5" height="3.0" fill="#3aa655"/>
<line x1="268.0" y1="1017.0" x2="276.0" y2="1017.0" stroke="#333" stroke-width="1" opacity="0.55" stroke-dasharray="2.2 0.7"/>
<line x1="268.0" y1="1022.3" x2="276.0" y2="1022.3" stroke="#333" stroke-width="1" opacity="0.55" stroke-dasharray="2.2 0.7"/>
<line x1="268.0" y1="1027.6" x2="276.0" y2="1027.6" stroke="#333" stroke-width="1" opacity="0.55" stroke-dasharray="2.2 0.7"/>
<line x1="268.0" y1="1032.9" x2="276.0" y2="1032.9" stroke="#333" stroke-width="1" opacity="0.55" stroke-dasharray="2.2 0.7"/>
<line x1="268.0" y1="1038.2" x2="276.0" y2="1038.2" stroke="#333" stroke-width="1" opacity="0.55" stroke-dasharray="2.2 0.7"/>
<line x1="313.0" y1="998.0" x2="325.0" y2="998.0" stroke="#222" stroke-width="1.1" opacity="0.55" stroke-dasharray="2.2 0.7"/>
<line x1="306.0" y1="1001.5" x2="318.0" y2="1001.5" stroke="#333" stroke-width="1" opacity="0.5" stroke-dasharray="2.2 0.7"/>
<rect x="319.0" y="1000.0" width="6.0" height="3.0" fill="#aaa"/>
<line x1="300.0" y1="1005.0" x2="313.0" y2="1005.0" stroke="#222" stroke-width="1" opacity="0.5" stroke-dasharray="2.2 0.7"/>
<line x1="313.5" y1="1010" x2="313.5" y2="1045" stroke="#aaa" stroke-width="1.2"/>
<rect x="312.0" y="1028.0" width="4.0" height="3.0" fill="#3aa655"/>
<g opacity="1">
<rect x="303.5" y="1051.5" width="2.5" height="5.5" fill="#c8c8c8" stroke="#888" stroke-width="0.4"/>
<rect x="306.5" y="1052.0" width="13.5" height="4.5" fill="#3fa34f" stroke="#2d7a3a" stroke-width="0.4"/>
</g>
<rect x="328.0" y="1028.0" width="5.0" height="12.0" fill="#d0d0d0" stroke="#777" stroke-width="0.5"/>
<line x1="322.0" y1="1025.0" x2="333.0" y2="1025.0" stroke="#222" stroke-width="1.1" opacity="0.55" stroke-dasharray="2.2 0.7"/>
<rect x="327.0" y="1047.0" width="10.0" height="5.5" fill="#eaeaea" stroke="#7a7a7a" stroke-width="0.5"/>
<line x1="349.0" y1="1030.0" x2="366.0" y2="1030.0" stroke="#222" stroke-width="1.1" opacity="0.55" stroke-dasharray="2.2 0.7"/>
<circle cx="358.2" cy="1036.8" r="7.2" fill="#6cc44a" stroke="#5a9a4a" stroke-width="0.6"/>
<rect x="349.5" y="1046.0" width="17.5" height="7.5" fill="#f4f4f4" stroke="#6a8ac0" stroke-width="0.6"/>
<rect x="85.0" y="1070.7" width="66.0" height="39.2" fill="#cdcdcd" stroke="#9a9a9a" stroke-width="0.4"/>
<rect x="90.5" y="1071.5" width="58.6" height="37.8" fill="#2b52ab"/>
<line x1="90.5" y1="1091.2" x2="149.1" y2="1091.2" stroke="#8e86c8" stroke-width="0.7"/>
<line x1="128.0" y1="1071.5" x2="128.0" y2="1109.3" stroke="#7a3fa0" stroke-width="0.7"/>
<rect x="86.0" y="1062.6" width="3.5" height="5.5" fill="#a23a2a"/>
<g opacity="1">
<rect x="89.5" y="1061.4" width="2.5" height="7.5" fill="#c8c8c8" stroke="#888" stroke-width="0.4"/>
<rect x="92.5" y="1061.9" width="12.5" height="6.5" fill="#3fa34f" stroke="#2d7a3a" stroke-width="0.4"/>
</g>
<rect x="119.0" y="1061.4" width="3.5" height="7.5" fill="#e8e8e8" stroke="#888" stroke-width="0.4"/>
<rect x="126.0" y="1063.7" width="6.0" height="5.2" fill="#eeeeee" stroke="#666" stroke-width="0.4"/>
<path d="M129.5,1065.4 l2,0 l-1,1.5z" fill="#111"/>
<rect x="132.5" y="1063.7" width="16.6" height="5.2" fill="#2f5ec0"/>
<line x1="113.0" y1="1059.9" x2="121.0" y2="1059.9" stroke="#333" stroke-width="0.9" opacity="0.5" stroke-dasharray="2.2 0.7"/>
<rect x="158.8" y="1070.7" width="65.6" height="39.2" fill="#cdcdcd" stroke="#9a9a9a" stroke-width="0.4"/>
<rect x="163.9" y="1071.5" width="58.5" height="37.8" fill="#2b52ab"/>
<line x1="163.9" y1="1091.2" x2="222.4" y2="1091.2" stroke="#8e86c8" stroke-width="0.7"/>
<line x1="200.8" y1="1071.5" x2="200.8" y2="1109.3" stroke="#7a3fa0" stroke-width="0.7"/>
<rect x="159.8" y="1062.6" width="3.5" height="5.5" fill="#a23a2a"/>
<g opacity="1">
<rect x="163.3" y="1061.4" width="2.5" height="7.5" fill="#c8c8c8" stroke="#888" stroke-width="0.4"/>
<rect x="166.3" y="1061.9" width="12.5" height="6.5" fill="#3fa34f" stroke="#2d7a3a" stroke-width="0.4"/>
</g>
<rect x="192.8" y="1061.4" width="3.5" height="7.5" fill="#e8e8e8" stroke="#888" stroke-width="0.4"/>
<rect x="199.8" y="1063.7" width="6.0" height="5.2" fill="#eeeeee" stroke="#666" stroke-width="0.4"/>
<path d="M203.3,1065.4 l2,0 l-1,1.5z" fill="#111"/>
<rect x="206.3" y="1063.7" width="16.1" height="5.2" fill="#2f5ec0"/>
<line x1="186.8" y1="1059.9" x2="194.8" y2="1059.9" stroke="#333" stroke-width="0.9" opacity="0.5" stroke-dasharray="2.2 0.7"/>
<rect x="231.9" y="1070.7" width="64.9" height="39.2" fill="#cdcdcd" stroke="#9a9a9a" stroke-width="0.4"/>
<rect x="236.9" y="1071.5" width="58.0" height="37.8" fill="#2b52ab"/>
<line x1="236.9" y1="1091.2" x2="294.9" y2="1091.2" stroke="#8e86c8" stroke-width="0.7"/>
<line x1="274.0" y1="1071.5" x2="274.0" y2="1109.3" stroke="#7a3fa0" stroke-width="0.7"/>
<rect x="232.9" y="1062.6" width="3.5" height="5.5" fill="#a23a2a"/>
<g opacity="1">
<rect x="236.4" y="1061.4" width="2.5" height="7.5" fill="#c8c8c8" stroke="#888" stroke-width="0.4"/>
<rect x="239.4" y="1061.9" width="12.5" height="6.5" fill="#3fa34f" stroke="#2d7a3a" stroke-width="0.4"/>
</g>
<rect x="265.9" y="1061.4" width="3.5" height="7.5" fill="#e8e8e8" stroke="#888" stroke-width="0.4"/>
<rect x="272.9" y="1063.7" width="6.0" height="5.2" fill="#eeeeee" stroke="#666" stroke-width="0.4"/>
<path d="M276.4,1065.4 l2,0 l-1,1.5z" fill="#111"/>
<rect x="279.4" y="1063.7" width="15.5" height="5.2" fill="#2f5ec0"/>
<line x1="259.9" y1="1059.9" x2="267.9" y2="1059.9" stroke="#333" stroke-width="0.9" opacity="0.5" stroke-dasharray="2.2 0.7"/>
<rect x="304.4" y="1070.7" width="67.7" height="39.2" fill="#cdcdcd" stroke="#9a9a9a" stroke-width="0.4"/>
<rect x="309.4" y="1071.5" width="60.8" height="37.8" fill="#2b52ab"/>
<line x1="309.4" y1="1091.2" x2="370.2" y2="1091.2" stroke="#8e86c8" stroke-width="0.7"/>
<line x1="338.6" y1="1071.5" x2="338.6" y2="1109.3" stroke="#7a3fa0" stroke-width="0.7"/>
<rect x="305.4" y="1062.6" width="3.5" height="5.5" fill="#a23a2a"/>
<g opacity="1">
<rect x="308.9" y="1061.4" width="2.5" height="7.5" fill="#c8c8c8" stroke="#888" stroke-width="0.4"/>
<rect x="311.9" y="1061.9" width="12.5" height="6.5" fill="#3fa34f" stroke="#2d7a3a" stroke-width="0.4"/>
</g>
<rect x="338.4" y="1061.4" width="3.5" height="7.5" fill="#e8e8e8" stroke="#888" stroke-width="0.4"/>
<rect x="345.4" y="1063.7" width="6.0" height="5.2" fill="#eeeeee" stroke="#666" stroke-width="0.4"/>
<path d="M348.9,1065.4 l2,0 l-1,1.5z" fill="#111"/>
<rect x="351.9" y="1063.7" width="18.3" height="5.2" fill="#2f5ec0"/>
<line x1="332.4" y1="1059.9" x2="340.4" y2="1059.9" stroke="#333" stroke-width="0.9" opacity="0.5" stroke-dasharray="2.2 0.7"/>
<rect x="396.5" y="913.5" width="298.5" height="199.5" fill="#f5f5f5" stroke="#b9b9b9" stroke-width="1.4"/>
<line x1="397.5" y1="915.1" x2="693.8" y2="915.1" stroke="#4667b3" stroke-width="1"/>
<line x1="398.1" y1="914.5" x2="398.1" y2="1112.0" stroke="#4667b3" stroke-width="1"/>
<text x="409.2" y="928.9" font-size="14.7" fill="#3f7bcf" text-anchor="start" font-weight="bold" font-style="italic" textLength="44.0" lengthAdjust="spacingAndGlyphs" stroke="#3f7bcf" stroke-width="1.02" stroke-linejoin="round" font-family="Liberation Sans">Chroma</text>
<line x1="425.0" y1="919.8" x2="452.6" y2="919.8" stroke="#222" stroke-width="1.24" opacity="0.75" stroke-dasharray="1.5 0.4"/>
<text x="459.0" y="928.4" font-size="11.5" fill="#9a9a9a" text-anchor="start" font-weight="normal" font-style="normal" textLength="57.3" lengthAdjust="spacingAndGlyphs">Interharmonic</text>
<line x1="551.0" y1="924.5" x2="579.0" y2="924.5" stroke="#222" stroke-width="1.2" opacity="0.6" stroke-dasharray="2.2 0.7"/>
<rect x="580.4" y="922.3" width="18.1" height="4.4" fill="#c8c8c8"/>
<line x1="604.0" y1="924.0" x2="647.0" y2="924.0" stroke="#222" stroke-width="1.2" opacity="0.6" stroke-dasharray="2.2 0.7"/>
<rect x="406.0" y="931.0" width="279.5" height="101.0" fill="#d8d8d8" stroke="#b0b0b0" stroke-width="0.5"/>
<line x1="684" y1="931" x2="684" y2="1032" stroke="#9a9a9a" stroke-width="2"/>
<line x1="414.0" y1="934.5" x2="440.0" y2="934.5" stroke="#222" stroke-width="1.2" opacity="0.6" stroke-dasharray="2.2 0.7"/>
<circle cx="454" cy="934.5" r="1.4" fill="#2a6a2a"/>
<line x1="409.0" y1="939.0" x2="416.0" y2="939.0" stroke="#333" stroke-width="1" opacity="0.5" stroke-dasharray="2.2 0.7"/>
<line x1="409.0" y1="947.8" x2="416.0" y2="947.8" stroke="#333" stroke-width="1" opacity="0.5" stroke-dasharray="2.2 0.7"/>
<line x1="409.0" y1="956.6" x2="416.0" y2="956.6" stroke="#333" stroke-width="1" opacity="0.5" stroke-dasharray="2.2 0.7"/>
<line x1="409.0" y1="965.4" x2="416.0" y2="965.4" stroke="#333" stroke-width="1" opacity="0.5" stroke-dasharray="2.2 0.7"/>
<line x1="409.0" y1="974.2" x2="416.0" y2="974.2" stroke="#333" stroke-width="1" opacity="0.5" stroke-dasharray="2.2 0.7"/>
<line x1="409.0" y1="983.0" x2="416.0" y2="983.0" stroke="#333" stroke-width="1" opacity="0.5" stroke-dasharray="2.2 0.7"/>
<line x1="409.0" y1="991.8" x2="416.0" y2="991.8" stroke="#333" stroke-width="1" opacity="0.5" stroke-dasharray="2.2 0.7"/>
<line x1="409.0" y1="1000.6" x2="416.0" y2="1000.6" stroke="#333" stroke-width="1" opacity="0.5" stroke-dasharray="2.2 0.7"/>
<line x1="409.0" y1="1009.4" x2="416.0" y2="1009.4" stroke="#333" stroke-width="1" opacity="0.5" stroke-dasharray="2.2 0.7"/>
<line x1="409.0" y1="1018.2" x2="416.0" y2="1018.2" stroke="#333" stroke-width="1" opacity="0.5" stroke-dasharray="2.2 0.7"/>
<line x1="409.0" y1="1027.0" x2="416.0" y2="1027.0" stroke="#333" stroke-width="1" opacity="0.5" stroke-dasharray="2.2 0.7"/>
<rect x="418.1" y="937.6" width="248.7" height="90.1" fill="#2b52ab"/>
<rect x="418.1" y="937.6" width="248.7" height="90.1" fill="url(#grid)"/>
<polyline points="418.1,983.4 418.8,979.4 419.5,975.4 420.2,971.5 420.9,967.7 421.6,964.0 422.3,960.6 423.0,957.4 423.7,954.5 424.4,952.0 425.1,949.7 425.8,947.9 426.5,946.5 427.2,945.5 427.9,944.9 428.6,944.7 429.3,945.0 430.0,945.7 430.7,946.8 431.4,948.4 432.1,950.3 432.8,952.7 433.5,955.3 434.2,958.3 434.9,961.5 435.6,965.0 436.3,968.7 437.0,972.6 437.7,976.5 438.4,980.6 439.1,984.6 439.8,988.6 440.5,992.5 441.2,996.3 441.9,1000.0 442.6,1003.4 443.3,1006.6 444.0,1009.5 444.7,1012.0 445.4,1014.3 446.1,1016.1 446.8,1017.5 447.5,1018.5 448.2,1019.1 448.9,1019.3 449.6,1019.0 450.3,1018.3 451.0,1017.2 451.7,1015.6 452.4,1013.7 453.1,1011.3 453.8,1008.7 454.5,1005.7 455.2,1002.5 455.9,999.0 456.6,995.3 457.3,991.4 458.0,987.5 458.7,983.4 459.4,979.4 460.1,975.4 460.8,971.5 461.5,967.7 462.2,964.0 462.9,960.6 463.6,957.4 464.3,954.5 465.0,952.0 465.7,949.7 466.4,947.9 467.1,946.5 467.8,945.5 468.5,944.9 469.2,944.7 469.9,945.0 470.6,945.7 471.3,946.8 472.0,948.4 472.7,950.3 473.4,952.7 474.1,955.3 474.8,958.3 475.5,961.5 476.2,965.0 476.9,968.7 477.6,972.6 478.3,976.5 479.0,980.6 479.7,984.6 480.4,988.6 481.1,992.5 481.8,996.3 482.5,1000.0 483.2,1003.4 483.9,1006.6 484.6,1009.5 485.3,1012.0 486.0,1014.3 486.7,1016.1 487.4,1017.5 488.1,1018.5 488.8,1019.1 489.5,1019.3 490.2,1019.0 490.9,1018.3 491.6,1017.2 492.3,1015.6 493.0,1013.7 493.7,1011.3 494.4,1008.7 495.1,1005.7 495.8,1002.5 496.5,999.0 497.2,995.3 497.9,991.4 498.6,987.5 499.3,983.4 500.0,979.4 500.7,975.4 501.4,971.5 502.1,967.7 502.8,964.0 503.5,960.6 504.2,957.4 504.9,954.5 505.6,952.0 506.3,949.7 507.0,947.9 507.7,946.5 508.4,945.5 509.1,944.9 509.8,944.7 510.5,945.0 511.2,945.7 511.9,946.8 512.6,948.4 513.3,950.3 514.0,952.7 514.7,955.3 515.4,958.3 516.1,961.5 516.8,965.0 517.5,968.7 518.2,972.6 518.9,976.5 519.6,980.6 520.3,984.6 521.0,988.6 521.7,992.5 522.4,996.3 523.1,1000.0 523.8,1003.4 524.5,1006.6 525.2,1009.5 525.9,1012.0 526.6,1014.3 527.3,1016.1 528.0,1017.5 528.7,1018.5 529.4,1019.1 530.1,1019.3 530.8,1019.0 531.5,1018.3 532.2,1017.2 532.9,1015.6 533.6,1013.7 534.3,1011.3 535.0,1008.7 535.7,1005.7 536.4,1002.5 537.1,999.0 537.8,995.3 538.5,991.4 539.2,987.5 539.9,983.4 540.6,979.4 541.3,975.4 542.0,971.5 542.7,967.7 543.4,964.0 544.1,960.6 544.8,957.4 545.5,954.5 546.2,952.0 546.9,949.7 547.6,947.9 548.3,946.5 549.0,945.5 549.7,944.9 550.4,944.7 551.1,945.0 551.8,945.7 552.5,946.8 553.2,948.4 553.9,950.3 554.6,952.7 555.3,955.3 556.0,958.3 556.7,961.5 557.4,965.0 558.1,968.7 558.8,972.6 559.5,976.5 560.2,980.6 560.9,984.6 561.6,988.6 562.3,992.5 563.0,996.3 563.7,1000.0 564.4,1003.4 565.1,1006.6 565.8,1009.5 566.5,1012.0 567.2,1014.3 567.9,1016.1 568.6,1017.5 569.3,1018.5 570.0,1019.1 570.7,1019.3 571.4,1019.0 572.1,1018.3 572.8,1017.2 573.5,1015.6 574.2,1013.7 574.9,1011.3 575.6,1008.7 576.3,1005.7 577.0,1002.5 577.7,999.0 578.4,995.3 579.1,991.4 579.8,987.5 580.5,983.4 581.2,979.4 581.9,975.4 582.6,971.5 583.3,967.7 584.0,964.0 584.7,960.6 585.4,957.4 586.1,954.5 586.8,952.0 587.5,949.7 588.2,947.9 588.9,946.5 589.6,945.5 590.3,944.9 591.0,944.7 591.7,945.0 592.4,945.7 593.1,946.8 593.8,948.4 594.5,950.3 595.2,952.7 595.9,955.3 596.6,958.3 597.3,961.5 598.0,965.0 598.7,968.7 599.4,972.6 600.1,976.5 600.8,980.6 601.5,984.6 602.2,988.6 602.9,992.5 603.6,996.3 604.3,1000.0 605.0,1003.4 605.7,1006.6 606.4,1009.5 607.1,1012.0 607.8,1014.3 608.5,1016.1 609.2,1017.5 609.9,1018.5 610.6,1019.1 611.3,1019.3 612.0,1019.0 612.7,1018.3 613.4,1017.2 614.1,1015.6 614.8,1013.7 615.5,1011.3 616.2,1008.7 616.9,1005.7 617.6,1002.5 618.3,999.0 619.0,995.3 619.7,991.4 620.4,987.5 621.1,983.4 621.8,979.4 622.5,975.4 623.2,971.5 623.9,967.7 624.6,964.0 625.3,960.6 626.0,957.4 626.7,954.5 627.4,952.0 628.1,949.7 628.8,947.9 629.5,946.5 630.2,945.5 630.9,944.9 631.6,944.7 632.3,945.0 633.0,945.7 633.7,946.8 634.4,948.4 635.1,950.3 635.8,952.7 636.5,955.3 637.2,958.3 637.9,961.5 638.6,965.0 639.3,968.7 640.0,972.6 640.7,976.5 641.4,980.6 642.1,984.6 642.8,988.6 643.5,992.5 644.2,996.3 644.9,1000.0 645.6,1003.4 646.3,1006.6 647.0,1009.5 647.7,1012.0 648.4,1014.3 649.1,1016.1 649.8,1017.5 650.5,1018.5 651.2,1019.1 651.9,1019.3 652.6,1019.0 653.3,1018.3 654.0,1017.2 654.7,1015.6 655.4,1013.7 656.1,1011.3 656.8,1008.7 657.5,1005.7 658.2,1002.5 658.9,999.0 659.6,995.3 660.3,991.4 661.0,987.5 661.7,983.4 662.4,979.4 663.1,975.4 663.8,971.5 664.5,967.7 665.2,964.0 665.9,960.6 666.6,957.4" fill="none" stroke="#d8d8f0" stroke-width="1.0" opacity="1"/>
<polyline points="418.1,1012.4 418.8,1014.5 419.5,1016.3 420.2,1017.7 420.9,1018.7 421.6,1019.2 422.3,1019.3 423.0,1018.9 423.7,1018.2 424.4,1017.0 425.1,1015.4 425.8,1013.4 426.5,1011.0 427.2,1008.3 427.9,1005.3 428.6,1002.0 429.3,998.4 430.0,994.7 430.7,990.9 431.4,986.9 432.1,982.9 432.8,978.8 433.5,974.8 434.2,970.9 434.9,967.1 435.6,963.5 436.3,960.1 437.0,957.0 437.7,954.1 438.4,951.6 439.1,949.5 439.8,947.7 440.5,946.3 441.2,945.3 441.9,944.8 442.6,944.7 443.3,945.1 444.0,945.8 444.7,947.0 445.4,948.6 446.1,950.6 446.8,953.0 447.5,955.7 448.2,958.7 448.9,962.0 449.6,965.6 450.3,969.3 451.0,973.1 451.7,977.1 452.4,981.1 453.1,985.2 453.8,989.2 454.5,993.1 455.2,996.9 455.9,1000.5 456.6,1003.9 457.3,1007.0 458.0,1009.9 458.7,1012.4 459.4,1014.5 460.1,1016.3 460.8,1017.7 461.5,1018.7 462.2,1019.2 462.9,1019.3 463.6,1018.9 464.3,1018.2 465.0,1017.0 465.7,1015.4 466.4,1013.4 467.1,1011.0 467.8,1008.3 468.5,1005.3 469.2,1002.0 469.9,998.4 470.6,994.7 471.3,990.9 472.0,986.9 472.7,982.9 473.4,978.8 474.1,974.8 474.8,970.9 475.5,967.1 476.2,963.5 476.9,960.1 477.6,957.0 478.3,954.1 479.0,951.6 479.7,949.5 480.4,947.7 481.1,946.3 481.8,945.3 482.5,944.8 483.2,944.7 483.9,945.1 484.6,945.8 485.3,947.0 486.0,948.6 486.7,950.6 487.4,953.0 488.1,955.7 488.8,958.7 489.5,962.0 490.2,965.6 490.9,969.3 491.6,973.1 492.3,977.1 493.0,981.1 493.7,985.2 494.4,989.2 495.1,993.1 495.8,996.9 496.5,1000.5 497.2,1003.9 497.9,1007.0 498.6,1009.9 499.3,1012.4 500.0,1014.5 500.7,1016.3 501.4,1017.7 502.1,1018.7 502.8,1019.2 503.5,1019.3 504.2,1018.9 504.9,1018.2 505.6,1017.0 506.3,1015.4 507.0,1013.4 507.7,1011.0 508.4,1008.3 509.1,1005.3 509.8,1002.0 510.5,998.4 511.2,994.7 511.9,990.9 512.6,986.9 513.3,982.9 514.0,978.8 514.7,974.8 515.4,970.9 516.1,967.1 516.8,963.5 517.5,960.1 518.2,957.0 518.9,954.1 519.6,951.6 520.3,949.5 521.0,947.7 521.7,946.3 522.4,945.3 523.1,944.8 523.8,944.7 524.5,945.1 525.2,945.8 525.9,947.0 526.6,948.6 527.3,950.6 528.0,953.0 528.7,955.7 529.4,958.7 530.1,962.0 530.8,965.6 531.5,969.3 532.2,973.1 532.9,977.1 533.6,981.1 534.3,985.2 535.0,989.2 535.7,993.1 536.4,996.9 537.1,1000.5 537.8,1003.9 538.5,1007.0 539.2,1009.9 539.9,1012.4 540.6,1014.5 541.3,1016.3 542.0,1017.7 542.7,1018.7 543.4,1019.2 544.1,1019.3 544.8,1018.9 545.5,1018.2 546.2,1017.0 546.9,1015.4 547.6,1013.4 548.3,1011.0 549.0,1008.3 549.7,1005.3 550.4,1002.0 551.1,998.4 551.8,994.7 552.5,990.9 553.2,986.9 553.9,982.9 554.6,978.8 555.3,974.8 556.0,970.9 556.7,967.1 557.4,963.5 558.1,960.1 558.8,957.0 559.5,954.1 560.2,951.6 560.9,949.5 561.6,947.7 562.3,946.3 563.0,945.3 563.7,944.8 564.4,944.7 565.1,945.1 565.8,945.8 566.5,947.0 567.2,948.6 567.9,950.6 568.6,953.0 569.3,955.7 570.0,958.7 570.7,962.0 571.4,965.6 572.1,969.3 572.8,973.1 573.5,977.1 574.2,981.1 574.9,985.2 575.6,989.2 576.3,993.1 577.0,996.9 577.7,1000.5 578.4,1003.9 579.1,1007.0 579.8,1009.9 580.5,1012.4 581.2,1014.5 581.9,1016.3 582.6,1017.7 583.3,1018.7 584.0,1019.2 584.7,1019.3 585.4,1018.9 586.1,1018.2 586.8,1017.0 587.5,1015.4 588.2,1013.4 588.9,1011.0 589.6,1008.3 590.3,1005.3 591.0,1002.0 591.7,998.4 592.4,994.7 593.1,990.9 593.8,986.9 594.5,982.9 595.2,978.8 595.9,974.8 596.6,970.9 597.3,967.1 598.0,963.5 598.7,960.1 599.4,957.0 600.1,954.1 600.8,951.6 601.5,949.5 602.2,947.7 602.9,946.3 603.6,945.3 604.3,944.8 605.0,944.7 605.7,945.1 606.4,945.8 607.1,947.0 607.8,948.6 608.5,950.6 609.2,953.0 609.9,955.7 610.6,958.7 611.3,962.0 612.0,965.6 612.7,969.3 613.4,973.1 614.1,977.1 614.8,981.1 615.5,985.2 616.2,989.2 616.9,993.1 617.6,996.9 618.3,1000.5 619.0,1003.9 619.7,1007.0 620.4,1009.9 621.1,1012.4 621.8,1014.5 622.5,1016.3 623.2,1017.7 623.9,1018.7 624.6,1019.2 625.3,1019.3 626.0,1018.9 626.7,1018.2 627.4,1017.0 628.1,1015.4 628.8,1013.4 629.5,1011.0 630.2,1008.3 630.9,1005.3 631.6,1002.0 632.3,998.4 633.0,994.7 633.7,990.9 634.4,986.9 635.1,982.9 635.8,978.8 636.5,974.8 637.2,970.9 637.9,967.1 638.6,963.5 639.3,960.1 640.0,957.0 640.7,954.1 641.4,951.6 642.1,949.5 642.8,947.7 643.5,946.3 644.2,945.3 644.9,944.8 645.6,944.7 646.3,945.1 647.0,945.8 647.7,947.0 648.4,948.6 649.1,950.6 649.8,953.0 650.5,955.7 651.2,958.7 651.9,962.0 652.6,965.6 653.3,969.3 654.0,973.1 654.7,977.1 655.4,981.1 656.1,985.2 656.8,989.2 657.5,993.1 658.2,996.9 658.9,1000.5 659.6,1003.9 660.3,1007.0 661.0,1009.9 661.7,1012.4 662.4,1014.5 663.1,1016.3 663.8,1017.7 664.5,1018.7 665.2,1019.2 665.9,1019.3 666.6,1018.9" fill="none" stroke="#3cb868" stroke-width="1.0" opacity="1"/>
<polyline points="418.1,950.6 418.8,953.0 419.5,955.7 420.2,958.7 420.9,962.0 421.6,965.6 422.3,969.3 423.0,973.1 423.7,977.1 424.4,981.1 425.1,985.2 425.8,989.2 426.5,993.1 427.2,996.9 427.9,1000.5 428.6,1003.9 429.3,1007.0 430.0,1009.9 430.7,1012.4 431.4,1014.5 432.1,1016.3 432.8,1017.7 433.5,1018.7 434.2,1019.2 434.9,1019.3 435.6,1018.9 436.3,1018.2 437.0,1017.0 437.7,1015.4 438.4,1013.4 439.1,1011.0 439.8,1008.3 440.5,1005.3 441.2,1002.0 441.9,998.4 442.6,994.7 443.3,990.9 444.0,986.9 444.7,982.9 445.4,978.8 446.1,974.8 446.8,970.9 447.5,967.1 448.2,963.5 448.9,960.1 449.6,957.0 450.3,954.1 451.0,951.6 451.7,949.5 452.4,947.7 453.1,946.3 453.8,945.3 454.5,944.8 455.2,944.7 455.9,945.1 456.6,945.8 457.3,947.0 458.0,948.6 458.7,950.6 459.4,953.0 460.1,955.7 460.8,958.7 461.5,962.0 462.2,965.6 462.9,969.3 463.6,973.1 464.3,977.1 465.0,981.1 465.7,985.2 466.4,989.2 467.1,993.1 467.8,996.9 468.5,1000.5 469.2,1003.9 469.9,1007.0 470.6,1009.9 471.3,1012.4 472.0,1014.5 472.7,1016.3 473.4,1017.7 474.1,1018.7 474.8,1019.2 475.5,1019.3 476.2,1018.9 476.9,1018.2 477.6,1017.0 478.3,1015.4 479.0,1013.4 479.7,1011.0 480.4,1008.3 481.1,1005.3 481.8,1002.0 482.5,998.4 483.2,994.7 483.9,990.9 484.6,986.9 485.3,982.9 486.0,978.8 486.7,974.8 487.4,970.9 488.1,967.1 488.8,963.5 489.5,960.1 490.2,957.0 490.9,954.1 491.6,951.6 492.3,949.5 493.0,947.7 493.7,946.3 494.4,945.3 495.1,944.8 495.8,944.7 496.5,945.1 497.2,945.8 497.9,947.0 498.6,948.6 499.3,950.6 500.0,953.0 500.7,955.7 501.4,958.7 502.1,962.0 502.8,965.6 503.5,969.3 504.2,973.1 504.9,977.1 505.6,981.1 506.3,985.2 507.0,989.2 507.7,993.1 508.4,996.9 509.1,1000.5 509.8,1003.9 510.5,1007.0 511.2,1009.9 511.9,1012.4 512.6,1014.5 513.3,1016.3 514.0,1017.7 514.7,1018.7 515.4,1019.2 516.1,1019.3 516.8,1018.9 517.5,1018.2 518.2,1017.0 518.9,1015.4 519.6,1013.4 520.3,1011.0 521.0,1008.3 521.7,1005.3 522.4,1002.0 523.1,998.4 523.8,994.7 524.5,990.9 525.2,986.9 525.9,982.9 526.6,978.8 527.3,974.8 528.0,970.9 528.7,967.1 529.4,963.5 530.1,960.1 530.8,957.0 531.5,954.1 532.2,951.6 532.9,949.5 533.6,947.7 534.3,946.3 535.0,945.3 535.7,944.8 536.4,944.7 537.1,945.1 537.8,945.8 538.5,947.0 539.2,948.6 539.9,950.6 540.6,953.0 541.3,955.7 542.0,958.7 542.7,962.0 543.4,965.6 544.1,969.3 544.8,973.1 545.5,977.1 546.2,981.1 546.9,985.2 547.6,989.2 548.3,993.1 549.0,996.9 549.7,1000.5 550.4,1003.9 551.1,1007.0 551.8,1009.9 552.5,1012.4 553.2,1014.5 553.9,1016.3 554.6,1017.7 555.3,1018.7 556.0,1019.2 556.7,1019.3 557.4,1018.9 558.1,1018.2 558.8,1017.0 559.5,1015.4 560.2,1013.4 560.9,1011.0 561.6,1008.3 562.3,1005.3 563.0,1002.0 563.7,998.4 564.4,994.7 565.1,990.9 565.8,986.9 566.5,982.9 567.2,978.8 567.9,974.8 568.6,970.9 569.3,967.1 570.0,963.5 570.7,960.1 571.4,957.0 572.1,954.1 572.8,951.6 573.5,949.5 574.2,947.7 574.9,946.3 575.6,945.3 576.3,944.8 577.0,944.7 577.7,945.1 578.4,945.8 579.1,947.0 579.8,948.6 580.5,950.6 581.2,953.0 581.9,955.7 582.6,958.7 583.3,962.0 584.0,965.6 584.7,969.3 585.4,973.1 586.1,977.1 586.8,981.1 587.5,985.2 588.2,989.2 588.9,993.1 589.6,996.9 590.3,1000.5 591.0,1003.9 591.7,1007.0 592.4,1009.9 593.1,1012.4 593.8,1014.5 594.5,1016.3 595.2,1017.7 595.9,1018.7 596.6,1019.2 597.3,1019.3 598.0,1018.9 598.7,1018.2 599.4,1017.0 600.1,1015.4 600.8,1013.4 601.5,1011.0 602.2,1008.3 602.9,1005.3 603.6,1002.0 604.3,998.4 605.0,994.7 605.7,990.9 606.4,986.9 607.1,982.9 607.8,978.8 608.5,974.8 609.2,970.9 609.9,967.1 610.6,963.5 611.3,960.1 612.0,957.0 612.7,954.1 613.4,951.6 614.1,949.5 614.8,947.7 615.5,946.3 616.2,945.3 616.9,944.8 617.6,944.7 618.3,945.1 619.0,945.8 619.7,947.0 620.4,948.6 621.1,950.6 621.8,953.0 622.5,955.7 623.2,958.7 623.9,962.0 624.6,965.6 625.3,969.3 626.0,973.1 626.7,977.1 627.4,981.1 628.1,985.2 628.8,989.2 629.5,993.1 630.2,996.9 630.9,1000.5 631.6,1003.9 632.3,1007.0 633.0,1009.9 633.7,1012.4 634.4,1014.5 635.1,1016.3 635.8,1017.7 636.5,1018.7 637.2,1019.2 637.9,1019.3 638.6,1018.9 639.3,1018.2 640.0,1017.0 640.7,1015.4 641.4,1013.4 642.1,1011.0 642.8,1008.3 643.5,1005.3 644.2,1002.0 644.9,998.4 645.6,994.7 646.3,990.9 647.0,986.9 647.7,982.9 648.4,978.8 649.1,974.8 649.8,970.9 650.5,967.1 651.2,963.5 651.9,960.1 652.6,957.0 653.3,954.1 654.0,951.6 654.7,949.5 655.4,947.7 656.1,946.3 656.8,945.3 657.5,944.8 658.2,944.7 658.9,945.1 659.6,945.8 660.3,947.0 661.0,948.6 661.7,950.6 662.4,953.0 663.1,955.7 663.8,958.7 664.5,962.0 665.2,965.6 665.9,969.3 666.6,973.1" fill="none" stroke="#9a3c9c" stroke-width="1.0" opacity="1"/>
<rect x="675.2" y="931.5" width="6.8" height="18.1" fill="#2b52ab" stroke="#777" stroke-width="0.4"/>
<line x1="668.0" y1="934.0" x2="672.0" y2="934.0" stroke="#333" stroke-width="1.1" opacity="0.7" stroke-dasharray="2.2 0.7"/>
<line x1="668.0" y1="939.0" x2="672.0" y2="939.0" stroke="#333" stroke-width="1.1" opacity="0.7" stroke-dasharray="2.2 0.7"/>
<line x1="668.0" y1="944.0" x2="672.0" y2="944.0" stroke="#333" stroke-width="1.1" opacity="0.7" stroke-dasharray="2.2 0.7"/>
<line x1="669.0" y1="990.0" x2="676.0" y2="990.0" stroke="#333" stroke-width="1.1" opacity="0.6" stroke-dasharray="2.2 0.7"/>
<line x1="669.0" y1="994.5" x2="677.0" y2="994.5" stroke="#222" stroke-width="1.1" opacity="0.6" stroke-dasharray="2.2 0.7"/>
<line x1="409.0" y1="1037.5" x2="434.0" y2="1037.5" stroke="#222" stroke-width="1.2" opacity="0.55" stroke-dasharray="2.2 0.7"/>
<rect x="434.0" y="1035.6" width="15.4" height="3.8" fill="#fafafa" stroke="#777" stroke-width="0.4"/>
<rect x="451.3" y="1035.6" width="60.2" height="3.8" fill="#2f55b5"/>
<rect x="511.5" y="1035.6" width="52.2" height="3.8" fill="#bdbdbd"/>
<line x1="565.0" y1="1037.5" x2="574.0" y2="1037.5" stroke="#222" stroke-width="1.1" opacity="0.6" stroke-dasharray="2.2 0.7"/>
<line x1="409.0" y1="1043.7" x2="434.0" y2="1043.7" stroke="#222" stroke-width="1.2" opacity="0.55" stroke-dasharray="2.2 0.7"/>
<rect x="434.0" y="1041.8" width="15.4" height="3.8" fill="#fafafa" stroke="#777" stroke-width="0.4"/>
<rect x="451.3" y="1041.8" width="60.2" height="3.8" fill="#d03a3a"/>
<rect x="511.5" y="1041.8" width="52.2" height="3.8" fill="#bdbdbd"/>
<line x1="565.0" y1="1043.7" x2="574.0" y2="1043.7" stroke="#222" stroke-width="1.1" opacity="0.6" stroke-dasharray="2.2 0.7"/>
<line x1="409.0" y1="1049.3" x2="434.0" y2="1049.3" stroke="#222" stroke-width="1.2" opacity="0.55" stroke-dasharray="2.2 0.7"/>
<rect x="434.0" y="1047.4" width="15.4" height="3.8" fill="#fafafa" stroke="#777" stroke-width="0.4"/>
<rect x="451.3" y="1047.4" width="60.2" height="3.8" fill="#2f9a4a"/>
<rect x="511.5" y="1047.4" width="52.2" height="3.8" fill="#bdbdbd"/>
<line x1="565.0" y1="1049.3" x2="574.0" y2="1049.3" stroke="#222" stroke-width="1.1" opacity="0.6" stroke-dasharray="2.2 0.7"/>
<line x1="579.0" y1="1038.4" x2="610.0" y2="1038.4" stroke="#444" stroke-width="1.1" opacity="0.35" stroke-dasharray="2.2 0.7"/>
<line x1="640.0" y1="1034.0" x2="655.0" y2="1034.0" stroke="#444" stroke-width="1.1" opacity="0.35" stroke-dasharray="2.2 0.7"/>
<ellipse cx="648" cy="1043" rx="4" ry="5" fill="#c2e6b2" stroke="#aaa" stroke-width="0.5"/>
<rect x="644.0" y="1050.0" width="8.0" height="3.0" fill="#e6e6e6" stroke="#aaa" stroke-width="0.4"/>
<rect x="659.3" y="1039.0" width="19.5" height="7.7" fill="#3d9c48" stroke="#2a6a30" stroke-width="0.6"/>
<line x1="663.0" y1="1042.8" x2="675.0" y2="1042.8" stroke="#cfe" stroke-width="1" opacity="0.7" stroke-dasharray="2.2 0.7"/>
<rect x="659.3" y="1048.0" width="19.5" height="7.7" fill="#4e8d3e" stroke="#2a6a30" stroke-width="0.6"/>
<line x1="663.0" y1="1051.8" x2="675.0" y2="1051.8" stroke="#cfe" stroke-width="1" opacity="0.7" stroke-dasharray="2.2 0.7"/>
<rect x="405.3" y="1055.0" width="9.4" height="6.2" fill="#ececec" stroke="#9a9a9a" stroke-width="0.4"/>
<line x1="407.0" y1="1058.0" x2="413.0" y2="1058.0" stroke="#333" stroke-width="1" opacity="0.6" stroke-dasharray="2.2 0.7"/>
<rect x="415.3" y="1055.0" width="9.4" height="6.2" fill="#ececec" stroke="#9a9a9a" stroke-width="0.4"/>
<line x1="417.0" y1="1058.0" x2="423.0" y2="1058.0" stroke="#333" stroke-width="1" opacity="0.6" stroke-dasharray="2.2 0.7"/>
<rect x="425.3" y="1055.0" width="10.4" height="6.2" fill="#ececec" stroke="#9a9a9a" stroke-width="0.4"/>
<line x1="427.0" y1="1058.0" x2="434.0" y2="1058.0" stroke="#333" stroke-width="1" opacity="0.6" stroke-dasharray="2.2 0.7"/>
<rect x="404.8" y="1061.2" width="172.0" height="46.8" fill="#d9d9d9" stroke="#a9a9a9" stroke-width="0.5"/>
<g opacity="0.6"><circle cx="418.7" cy="1083.5" r="10.2" fill="none" stroke="#333" stroke-width="1.3" stroke-dasharray="1.1 2.6" opacity="0.55"/><circle cx="418.7" cy="1083.5" r="7.0" fill="url(#knob)" stroke="#8a8a8a" stroke-width="0.5"/></g>
<line x1="409.7" y1="1066.5" x2="427.7" y2="1066.5" stroke="#444" stroke-width="1.1" opacity="0.3" stroke-dasharray="2.2 0.7"/>
<g opacity="0.6"><circle cx="455.8" cy="1083.5" r="10.2" fill="none" stroke="#333" stroke-width="1.3" stroke-dasharray="1.1 2.6" opacity="0.55"/><circle cx="455.8" cy="1083.5" r="7.0" fill="url(#knob)" stroke="#8a8a8a" stroke-width="0.5"/></g>
<line x1="446.8" y1="1066.5" x2="464.8" y2="1066.5" stroke="#444" stroke-width="1.1" opacity="0.3" stroke-dasharray="2.2 0.7"/>
<g opacity="0.6"><circle cx="492.6" cy="1083.5" r="10.2" fill="none" stroke="#333" stroke-width="1.3" stroke-dasharray="1.1 2.6" opacity="0.55"/><circle cx="492.6" cy="1083.5" r="7.0" fill="url(#knob)" stroke="#8a8a8a" stroke-width="0.5"/></g>
<line x1="483.6" y1="1066.5" x2="501.6" y2="1066.5" stroke="#444" stroke-width="1.1" opacity="0.3" stroke-dasharray="2.2 0.7"/>
<g opacity="0.6"><circle cx="528.8" cy="1083.5" r="10.2" fill="none" stroke="#333" stroke-width="1.3" stroke-dasharray="1.1 2.6" opacity="0.55"/><circle cx="528.8" cy="1083.5" r="7.0" fill="url(#knob)" stroke="#8a8a8a" stroke-width="0.5"/></g>
<line x1="519.8" y1="1066.5" x2="537.8" y2="1066.5" stroke="#444" stroke-width="1.1" opacity="0.3" stroke-dasharray="2.2 0.7"/>
<g opacity="0.55">
<rect x="410.0" y="1097.8" width="2.5" height="5.0" fill="#c8c8c8" stroke="#888" stroke-width="0.4"/>
<rect x="413.0" y="1098.3" width="18.2" height="4.0" fill="#3fa34f" stroke="#2d7a3a" stroke-width="0.4"/>
</g>
<g opacity="0.55">
<rect x="446.4" y="1097.8" width="2.5" height="5.0" fill="#c8c8c8" stroke="#888" stroke-width="0.4"/>
<rect x="449.4" y="1098.3" width="17.6" height="4.0" fill="#3fa34f" stroke="#2d7a3a" stroke-width="0.4"/>
</g>
<g opacity="0.55">
<rect x="482.6" y="1097.8" width="2.5" height="5.0" fill="#c8c8c8" stroke="#888" stroke-width="0.4"/>
<rect x="485.6" y="1098.3" width="18.1" height="4.0" fill="#3fa34f" stroke="#2d7a3a" stroke-width="0.4"/>
</g>
<g opacity="0.55">
<rect x="520.2" y="1097.8" width="2.5" height="5.0" fill="#c8c8c8" stroke="#888" stroke-width="0.4"/>
<rect x="523.2" y="1098.3" width="17.3" height="4.0" fill="#3fa34f" stroke="#2d7a3a" stroke-width="0.4"/>
</g>
<g opacity="0.55">
<rect x="553.7" y="1073.5" width="2.5" height="5.0" fill="#c8c8c8" stroke="#888" stroke-width="0.4"/>
<rect x="556.7" y="1074.0" width="16.7" height="4.0" fill="#3fa34f" stroke="#2d7a3a" stroke-width="0.4"/>
</g>
<g opacity="0.55">
<rect x="553.7" y="1091.5" width="2.5" height="5.0" fill="#c8c8c8" stroke="#888" stroke-width="0.4"/>
<rect x="556.7" y="1092.0" width="16.7" height="4.0" fill="#3fa34f" stroke="#2d7a3a" stroke-width="0.4"/>
</g>
<line x1="554.0" y1="1066.5" x2="575.0" y2="1066.5" stroke="#444" stroke-width="1.1" opacity="0.3" stroke-dasharray="2.2 0.7"/>
<line x1="556.0" y1="1087.0" x2="574.0" y2="1087.0" stroke="#444" stroke-width="1.1" opacity="0.3" stroke-dasharray="2.2 0.7"/>
<line x1="557.0" y1="1103.0" x2="572.0" y2="1103.0" stroke="#444" stroke-width="1.1" opacity="0.3" stroke-dasharray="2.2 0.7"/>
<line x1="586.2" y1="1058.5" x2="592.1" y2="1058.5" stroke="#333" stroke-width="1" opacity="0.5" stroke-dasharray="2.2 0.7"/>
<line x1="602.1" y1="1058.5" x2="607.5" y2="1058.5" stroke="#333" stroke-width="1" opacity="0.5" stroke-dasharray="2.2 0.7"/>
<line x1="617.5" y1="1058.5" x2="622.8" y2="1058.5" stroke="#333" stroke-width="1" opacity="0.5" stroke-dasharray="2.2 0.7"/>
<line x1="632.8" y1="1058.5" x2="638.1" y2="1058.5" stroke="#333" stroke-width="1" opacity="0.5" stroke-dasharray="2.2 0.7"/>
<line x1="648.1" y1="1058.5" x2="653.5" y2="1058.5" stroke="#333" stroke-width="1" opacity="0.5" stroke-dasharray="2.2 0.7"/>
<line x1="663.5" y1="1058.5" x2="668.8" y2="1058.5" stroke="#333" stroke-width="1" opacity="0.5" stroke-dasharray="2.2 0.7"/>
<line x1="678.8" y1="1058.5" x2="682.7" y2="1058.5" stroke="#333" stroke-width="1" opacity="0.5" stroke-dasharray="2.2 0.7"/>
<rect x="581.5" y="1062.6" width="15.3" height="5.6" fill="#cfcfcf"/>
<line x1="585.2" y1="1065.4" x2="591.1" y2="1065.4" stroke="#222" stroke-width="1.1" opacity="0.6" stroke-dasharray="2.2 0.7"/>
<rect x="597.4" y="1062.6" width="14.8" height="5.6" fill="#cfcfcf"/>
<line x1="601.1" y1="1065.4" x2="606.5" y2="1065.4" stroke="#222" stroke-width="1.1" opacity="0.6" stroke-dasharray="2.2 0.7"/>
<rect x="612.8" y="1062.6" width="14.7" height="5.6" fill="#cfcfcf"/>
<line x1="616.5" y1="1065.4" x2="621.8" y2="1065.4" stroke="#222" stroke-width="1.1" opacity="0.6" stroke-dasharray="2.2 0.7"/>
<rect x="628.1" y="1062.6" width="14.7" height="5.6" fill="#cfcfcf"/>
<line x1="631.8" y1="1065.4" x2="637.1" y2="1065.4" stroke="#222" stroke-width="1.1" opacity="0.6" stroke-dasharray="2.2 0.7"/>
<rect x="643.4" y="1062.6" width="14.8" height="5.6" fill="#cfcfcf"/>
<line x1="647.1" y1="1065.4" x2="652.5" y2="1065.4" stroke="#222" stroke-width="1.1" opacity="0" stroke-dasharray="2.2 0.7"/>
<rect x="658.8" y="1062.6" width="14.7" height="5.6" fill="#cfcfcf"/>
<line x1="662.5" y1="1065.4" x2="667.8" y2="1065.4" stroke="#222" stroke-width="1.1" opacity="0" stroke-dasharray="2.2 0.7"/>
<rect x="674.1" y="1062.6" width="13.3" height="5.6" fill="#cfcfcf"/>
<line x1="677.8" y1="1065.4" x2="681.7" y2="1065.4" stroke="#222" stroke-width="1.1" opacity="0.6" stroke-dasharray="2.2 0.7"/>
<rect x="581.2" y="1068.2" width="106.5" height="4.2" fill="#2f5fbf"/>
<line x1="581.2" y1="1068.2" x2="581.2" y2="1072.4" stroke="#ddd" stroke-width="0.5"/>
<line x1="597.1" y1="1068.2" x2="597.1" y2="1072.4" stroke="#ddd" stroke-width="0.5"/>
<line x1="612.5" y1="1068.2" x2="612.5" y2="1072.4" stroke="#ddd" stroke-width="0.5"/>
<line x1="627.8" y1="1068.2" x2="627.8" y2="1072.4" stroke="#ddd" stroke-width="0.5"/>
<line x1="643.1" y1="1068.2" x2="643.1" y2="1072.4" stroke="#ddd" stroke-width="0.5"/>
<line x1="658.5" y1="1068.2" x2="658.5" y2="1072.4" stroke="#ddd" stroke-width="0.5"/>
<line x1="673.8" y1="1068.2" x2="673.8" y2="1072.4" stroke="#ddd" stroke-width="0.5"/>
<rect x="581.2" y="1072.4" width="106.5" height="5.2" fill="#d6d6d6"/>
<rect x="581.5" y="1078.0" width="15.3" height="5.5" fill="#cfcfcf"/>
<line x1="585.2" y1="1080.8" x2="591.1" y2="1080.8" stroke="#222" stroke-width="1.1" opacity="0.6" stroke-dasharray="2.2 0.7"/>
<rect x="597.4" y="1078.0" width="14.8" height="5.5" fill="#cfcfcf"/>
<line x1="601.1" y1="1080.8" x2="606.5" y2="1080.8" stroke="#222" stroke-width="1.1" opacity="0.6" stroke-dasharray="2.2 0.7"/>
<rect x="612.8" y="1078.0" width="14.7" height="5.5" fill="#cfcfcf"/>
<line x1="616.5" y1="1080.8" x2="621.8" y2="1080.8" stroke="#222" stroke-width="1.1" opacity="0.6" stroke-dasharray="2.2 0.7"/>
<rect x="628.1" y="1078.0" width="14.7" height="5.5" fill="#cfcfcf"/>
<line x1="631.8" y1="1080.8" x2="637.1" y2="1080.8" stroke="#222" stroke-width="1.1" opacity="0.6" stroke-dasharray="2.2 0.7"/>
<rect x="643.4" y="1078.0" width="14.8" height="5.5" fill="#cfcfcf"/>
<line x1="647.1" y1="1080.8" x2="652.5" y2="1080.8" stroke="#222" stroke-width="1.1" opacity="0" stroke-dasharray="2.2 0.7"/>
<rect x="658.8" y="1078.0" width="14.7" height="5.5" fill="#cfcfcf"/>
<line x1="662.5" y1="1080.8" x2="667.8" y2="1080.8" stroke="#222" stroke-width="1.1" opacity="0" stroke-dasharray="2.2 0.7"/>
<rect x="674.1" y="1078.0" width="13.3" height="5.5" fill="#cfcfcf"/>
<line x1="677.8" y1="1080.8" x2="681.7" y2="1080.8" stroke="#222" stroke-width="1.1" opacity="0.6" stroke-dasharray="2.2 0.7"/>
<rect x="581.2" y="1083.5" width="106.5" height="4.2" fill="#2f5fbf"/>
<line x1="581.2" y1="1083.5" x2="581.2" y2="1087.7" stroke="#ddd" stroke-width="0.5"/>
<line x1="597.1" y1="1083.5" x2="597.1" y2="1087.7" stroke="#ddd" stroke-width="0.5"/>
<line x1="612.5" y1="1083.5" x2="612.5" y2="1087.7" stroke="#ddd" stroke-width="0.5"/>
<line x1="627.8" y1="1083.5" x2="627.8" y2="1087.7" stroke="#ddd" stroke-width="0.5"/>
<line x1="643.1" y1="1083.5" x2="643.1" y2="1087.7" stroke="#ddd" stroke-width="0.5"/>
<line x1="658.5" y1="1083.5" x2="658.5" y2="1087.7" stroke="#ddd" stroke-width="0.5"/>
<line x1="673.8" y1="1083.5" x2="673.8" y2="1087.7" stroke="#ddd" stroke-width="0.5"/>
<rect x="581.2" y="1087.7" width="106.5" height="5.2" fill="#d6d6d6"/>
<rect x="581.5" y="1093.4" width="15.3" height="5.5" fill="#cfcfcf"/>
<line x1="585.2" y1="1096.2" x2="591.1" y2="1096.2" stroke="#222" stroke-width="1.1" opacity="0.6" stroke-dasharray="2.2 0.7"/>
<rect x="597.4" y="1093.4" width="14.8" height="5.5" fill="#cfcfcf"/>
<line x1="601.1" y1="1096.2" x2="606.5" y2="1096.2" stroke="#222" stroke-width="1.1" opacity="0.6" stroke-dasharray="2.2 0.7"/>
<rect x="612.8" y="1093.4" width="14.7" height="5.5" fill="#cfcfcf"/>
<line x1="616.5" y1="1096.2" x2="621.8" y2="1096.2" stroke="#222" stroke-width="1.1" opacity="0.6" stroke-dasharray="2.2 0.7"/>
<rect x="628.1" y="1093.4" width="14.7" height="5.5" fill="#cfcfcf"/>
<line x1="631.8" y1="1096.2" x2="637.1" y2="1096.2" stroke="#222" stroke-width="1.1" opacity="0.6" stroke-dasharray="2.2 0.7"/>
<rect x="643.4" y="1093.4" width="14.8" height="5.5" fill="#cfcfcf"/>
<line x1="647.1" y1="1096.2" x2="652.5" y2="1096.2" stroke="#222" stroke-width="1.1" opacity="0" stroke-dasharray="2.2 0.7"/>
<rect x="658.8" y="1093.4" width="14.7" height="5.5" fill="#cfcfcf"/>
<line x1="662.5" y1="1096.2" x2="667.8" y2="1096.2" stroke="#222" stroke-width="1.1" opacity="0" stroke-dasharray="2.2 0.7"/>
<rect x="674.1" y="1093.4" width="13.3" height="5.5" fill="#cfcfcf"/>
<line x1="677.8" y1="1096.2" x2="681.7" y2="1096.2" stroke="#222" stroke-width="1.1" opacity="0.6" stroke-dasharray="2.2 0.7"/>
<rect x="581.2" y="1098.9" width="106.5" height="4.2" fill="#2f5fbf"/>
<line x1="581.2" y1="1098.9" x2="581.2" y2="1103.1" stroke="#ddd" stroke-width="0.5"/>
<line x1="597.1" y1="1098.9" x2="597.1" y2="1103.1" stroke="#ddd" stroke-width="0.5"/>
<line x1="612.5" y1="1098.9" x2="612.5" y2="1103.1" stroke="#ddd" stroke-width="0.5"/>
<line x1="627.8" y1="1098.9" x2="627.8" y2="1103.1" stroke="#ddd" stroke-width="0.5"/>
<line x1="643.1" y1="1098.9" x2="643.1" y2="1103.1" stroke="#ddd" stroke-width="0.5"/>
<line x1="658.5" y1="1098.9" x2="658.5" y2="1103.1" stroke="#ddd" stroke-width="0.5"/>
<line x1="673.8" y1="1098.9" x2="673.8" y2="1103.1" stroke="#ddd" stroke-width="0.5"/>
<rect x="581.2" y="1103.1" width="106.5" height="5.2" fill="#d6d6d6"/>
<line x1="578" y1="1070" x2="580" y2="1070" stroke="#222" stroke-width="1"/>
<rect x="714.3" y="913.5" width="298.0" height="199.5" fill="#f5f5f5" stroke="#b9b9b9" stroke-width="1.4"/>
<line x1="715.3" y1="915.1" x2="1011.1" y2="915.1" stroke="#4667b3" stroke-width="1"/>
<line x1="715.9" y1="914.5" x2="715.9" y2="1112.0" stroke="#4667b3" stroke-width="1"/>
<text x="719.3" y="927.8" font-size="13.8" fill="#3f7bcf" text-anchor="start" font-weight="bold" font-style="italic" textLength="44.0" lengthAdjust="spacingAndGlyphs" stroke="#3f7bcf" stroke-width="0.95" stroke-linejoin="round" font-family="Liberation Sans">Chroma</text>
<line x1="735.1" y1="919.3" x2="762.7" y2="919.3" stroke="#222" stroke-width="1.17" opacity="0.75" stroke-dasharray="1.5 0.4"/>
<text x="787.3" y="929.0" font-size="11.5" fill="#8d8d8d" text-anchor="start" font-weight="normal" font-style="normal" textLength="19.5" lengthAdjust="spacingAndGlyphs">LIST</text>
<line x1="862.5" y1="923.0" x2="890.4" y2="923.0" stroke="#111" stroke-width="1.2" opacity="0.7" stroke-dasharray="2.2 0.7"/>
<rect x="891.8" y="920.0" width="25.1" height="6.0" fill="#d0d0d0"/>
<rect x="926.7" y="918.0" width="16.7" height="10.0" fill="#f4f4f4" stroke="#7a7a7a" stroke-width="0.5"/>
<rect x="947.6" y="918.0" width="16.7" height="10.0" fill="#f4f4f4" stroke="#7a7a7a" stroke-width="0.5"/>
<ellipse cx="986.6" cy="924.5" rx="10.5" ry="5.6" fill="#6cc27a" stroke="#5a8a5a" stroke-width="0.5"/>
<text x="986.6" y="926.5" font-size="5.3" fill="#fff" text-anchor="middle" font-weight="bold" font-style="normal">Back</text>
<rect x="719.0" y="931.5" width="288.5" height="81.0" fill="#d8d8d8" stroke="#b0b0b0" stroke-width="0.5"/>
<rect x="1003.0" y="931.5" width="4.5" height="81.0" fill="#b8b8b8"/>
<line x1="720.0" y1="933.8" x2="741.0" y2="933.8" stroke="#111" stroke-width="1.1" opacity="0.7" stroke-dasharray="2.2 0.7"/>
<circle cx="744" cy="934" r="1.3" fill="#2a6a2a"/>
<line x1="746.0" y1="936.6" x2="760.0" y2="936.6" stroke="#111" stroke-width="1.1" opacity="0.7" stroke-dasharray="2.2 0.7"/>
<line x1="792.0" y1="936.6" x2="806.0" y2="936.6" stroke="#111" stroke-width="1.1" opacity="0.7" stroke-dasharray="2.2 0.7"/>
<line x1="840.0" y1="936.6" x2="854.0" y2="936.6" stroke="#111" stroke-width="1.1" opacity="0.7" stroke-dasharray="2.2 0.7"/>
<line x1="887.0" y1="936.6" x2="901.0" y2="936.6" stroke="#111" stroke-width="1.1" opacity="0.7" stroke-dasharray="2.2 0.7"/>
<line x1="932.0" y1="936.6" x2="946.0" y2="936.6" stroke="#111" stroke-width="1.1" opacity="0.7" stroke-dasharray="2.2 0.7"/>
<rect x="733.7" y="938.5" width="240.3" height="59.4" fill="#2b52ab"/>
<line x1="742.9" y1="938.5" x2="742.9" y2="997.9" stroke="#22448e" stroke-width="0.5"/>
<line x1="752.2" y1="938.5" x2="752.2" y2="997.9" stroke="#22448e" stroke-width="0.5"/>
<line x1="761.4" y1="938.5" x2="761.4" y2="997.9" stroke="#22448e" stroke-width="0.5"/>
<line x1="770.7" y1="938.5" x2="770.7" y2="997.9" stroke="#22448e" stroke-width="0.5"/>
<line x1="779.9" y1="938.5" x2="779.9" y2="997.9" stroke="#22448e" stroke-width="0.5"/>
<line x1="789.2" y1="938.5" x2="789.2" y2="997.9" stroke="#22448e" stroke-width="0.5"/>
<line x1="798.4" y1="938.5" x2="798.4" y2="997.9" stroke="#22448e" stroke-width="0.5"/>
<line x1="807.6" y1="938.5" x2="807.6" y2="997.9" stroke="#22448e" stroke-width="0.5"/>
<line x1="816.9" y1="938.5" x2="816.9" y2="997.9" stroke="#22448e" stroke-width="0.5"/>
<line x1="826.1" y1="938.5" x2="826.1" y2="997.9" stroke="#22448e" stroke-width="0.5"/>
<line x1="835.4" y1="938.5" x2="835.4" y2="997.9" stroke="#22448e" stroke-width="0.5"/>
<line x1="844.6" y1="938.5" x2="844.6" y2="997.9" stroke="#22448e" stroke-width="0.5"/>
<line x1="853.9" y1="938.5" x2="853.9" y2="997.9" stroke="#22448e" stroke-width="0.5"/>
<line x1="863.1" y1="938.5" x2="863.1" y2="997.9" stroke="#22448e" stroke-width="0.5"/>
<line x1="872.3" y1="938.5" x2="872.3" y2="997.9" stroke="#22448e" stroke-width="0.5"/>
<line x1="881.6" y1="938.5" x2="881.6" y2="997.9" stroke="#22448e" stroke-width="0.5"/>
<line x1="890.8" y1="938.5" x2="890.8" y2="997.9" stroke="#22448e" stroke-width="0.5"/>
<line x1="900.1" y1="938.5" x2="900.1" y2="997.9" stroke="#22448e" stroke-width="0.5"/>
<line x1="909.3" y1="938.5" x2="909.3" y2="997.9" stroke="#22448e" stroke-width="0.5"/>
<line x1="918.5" y1="938.5" x2="918.5" y2="997.9" stroke="#22448e" stroke-width="0.5"/>
<line x1="927.8" y1="938.5" x2="927.8" y2="997.9" stroke="#22448e" stroke-width="0.5"/>
<line x1="937.0" y1="938.5" x2="937.0" y2="997.9" stroke="#22448e" stroke-width="0.5"/>
<line x1="946.3" y1="938.5" x2="946.3" y2="997.9" stroke="#22448e" stroke-width="0.5"/>
<line x1="955.5" y1="938.5" x2="955.5" y2="997.9" stroke="#22448e" stroke-width="0.5"/>
<line x1="964.8" y1="938.5" x2="964.8" y2="997.9" stroke="#22448e" stroke-width="0.5"/>
<line x1="733.7" y1="948.4" x2="974" y2="948.4" stroke="#1e3f88" stroke-width="0.6"/>
<line x1="733.7" y1="958.3" x2="974" y2="958.3" stroke="#1e3f88" stroke-width="0.6"/>
<line x1="733.7" y1="968.2" x2="974" y2="968.2" stroke="#1e3f88" stroke-width="0.6"/>
<line x1="733.7" y1="978.1" x2="974" y2="978.1" stroke="#1e3f88" stroke-width="0.6"/>
<line x1="733.7" y1="988.0" x2="974" y2="988.0" stroke="#1e3f88" stroke-width="0.6"/>
<line x1="721.0" y1="939.0" x2="731.0" y2="939.0" stroke="#222" stroke-width="1" opacity="0.6" stroke-dasharray="2.2 0.7"/>
<line x1="721.0" y1="948.7" x2="731.0" y2="948.7" stroke="#222" stroke-width="1" opacity="0.6" stroke-dasharray="2.2 0.7"/>
<line x1="721.0" y1="958.4" x2="731.0" y2="958.4" stroke="#222" stroke-width="1" opacity="0.6" stroke-dasharray="2.2 0.7"/>
<line x1="721.0" y1="968.1" x2="731.0" y2="968.1" stroke="#222" stroke-width="1" opacity="0.6" stroke-dasharray="2.2 0.7"/>
<line x1="721.0" y1="977.8" x2="731.0" y2="977.8" stroke="#222" stroke-width="1" opacity="0.6" stroke-dasharray="2.2 0.7"/>
<line x1="721.0" y1="987.5" x2="731.0" y2="987.5" stroke="#222" stroke-width="1" opacity="0.6" stroke-dasharray="2.2 0.7"/>
<line x1="721.0" y1="997.2" x2="731.0" y2="997.2" stroke="#222" stroke-width="1" opacity="0.6" stroke-dasharray="2.2 0.7"/>
<polyline points="733.7,992.6 734.1,987.8 734.4,981.4 734.8,973.9 735.1,965.9 735.5,958.1 735.8,951.1 736.2,945.6 736.5,942.0 736.9,940.7 737.2,941.7 737.6,945.0 737.9,950.2 738.3,957.0 738.6,964.8 739.0,972.8 739.3,980.4 739.7,987.0 740.0,992.0 740.4,995.0 740.7,995.6 741.1,994.0 741.4,990.1 741.8,984.4 742.1,977.2 742.5,969.4 742.8,961.4 743.2,954.0 743.5,947.8 743.9,943.3 744.2,941.0 744.6,941.0 744.9,943.3 745.3,947.8 745.6,954.0 746.0,961.4 746.3,969.4 746.7,977.2 747.0,984.4 747.4,990.1 747.7,994.0 748.1,995.6 748.4,995.0 748.8,992.0 749.1,987.0 749.5,980.4 749.8,972.8 750.2,964.8 750.5,957.0 750.9,950.2 751.2,945.0 751.6,941.7 751.9,940.7 752.3,942.0 752.6,945.6 753.0,951.1 753.3,958.1 753.7,965.9 754.0,973.9 754.4,981.4 754.7,987.8 755.1,992.6 755.4,995.2 755.8,995.5 756.1,993.6 756.5,989.4 756.8,983.4 757.2,976.1 757.5,968.2 757.9,960.3 758.2,953.0 758.6,947.0 758.9,942.8 759.3,940.9 759.6,941.2 760.0,943.8 760.3,948.6 760.7,955.0 761.0,962.5 761.4,970.5 761.7,978.3 762.1,985.3 762.4,990.8 762.8,994.4 763.1,995.7 763.5,994.7 763.8,991.4 764.2,986.2 764.5,979.4 764.9,971.6 765.2,963.6 765.6,956.0 765.9,949.4 766.3,944.4 766.6,941.4 767.0,940.8 767.3,942.4 767.7,946.3 768.0,952.0 768.4,959.2 768.7,967.0 769.1,975.0 769.4,982.4 769.8,988.6 770.1,993.1 770.5,995.4 770.8,995.4 771.2,993.1 771.5,988.6 771.9,982.4 772.2,975.0 772.6,967.0 772.9,959.2 773.3,952.0 773.6,946.3 774.0,942.4 774.3,940.8 774.7,941.4 775.0,944.4 775.4,949.4 775.7,956.0 776.1,963.6 776.4,971.6 776.8,979.4 777.1,986.2 777.5,991.4 777.8,994.7 778.2,995.7 778.5,994.4 778.9,990.8 779.2,985.3 779.6,978.3 779.9,970.5 780.3,962.5 780.6,955.0 781.0,948.6 781.3,943.8 781.7,941.2 782.0,940.9 782.4,942.8 782.7,947.0" fill="none" stroke="#a848b8" stroke-width="0.75" opacity="1"/>
<polyline points="733.7,967.0 734.1,975.0 734.4,982.4 734.8,988.6 735.1,993.1 735.5,995.4 735.8,995.4 736.2,993.1 736.5,988.6 736.9,982.4 737.2,975.0 737.6,967.0 737.9,959.2 738.3,952.0 738.6,946.3 739.0,942.4 739.3,940.8 739.7,941.4 740.0,944.4 740.4,949.4 740.7,956.0 741.1,963.6 741.4,971.6 741.8,979.4 742.1,986.2 742.5,991.4 742.8,994.7 743.2,995.7 743.5,994.4 743.9,990.8 744.2,985.3 744.6,978.3 744.9,970.5 745.3,962.5 745.6,955.0 746.0,948.6 746.3,943.8 746.7,941.2 747.0,940.9 747.4,942.8 747.7,947.0 748.1,953.0 748.4,960.3 748.8,968.2 749.1,976.1 749.5,983.4 749.8,989.4 750.2,993.6 750.5,995.5 750.9,995.2 751.2,992.6 751.6,987.8 751.9,981.4 752.3,973.9 752.6,965.9 753.0,958.1 753.3,951.1 753.7,945.6 754.0,942.0 754.4,940.7 754.7,941.7 755.1,945.0 755.4,950.2 755.8,957.0 756.1,964.8 756.5,972.8 756.8,980.4 757.2,987.0 757.5,992.0 757.9,995.0 758.2,995.6 758.6,994.0 758.9,990.1 759.3,984.4 759.6,977.2 760.0,969.4 760.3,961.4 760.7,954.0 761.0,947.8 761.4,943.3 761.7,941.0 762.1,941.0 762.4,943.3 762.8,947.8 763.1,954.0 763.5,961.4 763.8,969.4 764.2,977.2 764.5,984.4 764.9,990.1 765.2,994.0 765.6,995.6 765.9,995.0 766.3,992.0 766.6,987.0 767.0,980.4 767.3,972.8 767.7,964.8 768.0,957.0 768.4,950.2 768.7,945.0 769.1,941.7 769.4,940.7 769.8,942.0 770.1,945.6 770.5,951.1 770.8,958.1 771.2,965.9 771.5,973.9 771.9,981.4 772.2,987.8 772.6,992.6 772.9,995.2 773.3,995.5 773.6,993.6 774.0,989.4 774.3,983.4 774.7,976.1 775.0,968.2 775.4,960.3 775.7,953.0 776.1,947.0 776.4,942.8 776.8,940.9 777.1,941.2 777.5,943.8 777.8,948.6 778.2,955.0 778.5,962.5 778.9,970.5 779.2,978.3 779.6,985.3 779.9,990.8 780.3,994.4 780.6,995.7 781.0,994.7 781.3,991.4 781.7,986.2 782.0,979.4 782.4,971.6 782.7,963.6" fill="none" stroke="#3fc0a0" stroke-width="0.75" opacity="1"/>
<polyline points="733.7,945.0 734.1,941.7 734.4,940.7 734.8,942.0 735.1,945.6 735.5,951.1 735.8,958.1 736.2,965.9 736.5,973.9 736.9,981.4 737.2,987.8 737.6,992.6 737.9,995.2 738.3,995.5 738.6,993.6 739.0,989.4 739.3,983.4 739.7,976.1 740.0,968.2 740.4,960.3 740.7,953.0 741.1,947.0 741.4,942.8 741.8,940.9 742.1,941.2 742.5,943.8 742.8,948.6 743.2,955.0 743.5,962.5 743.9,970.5 744.2,978.3 744.6,985.3 744.9,990.8 745.3,994.4 745.6,995.7 746.0,994.7 746.3,991.4 746.7,986.2 747.0,979.4 747.4,971.6 747.7,963.6 748.1,956.0 748.4,949.4 748.8,944.4 749.1,941.4 749.5,940.8 749.8,942.4 750.2,946.3 750.5,952.0 750.9,959.2 751.2,967.0 751.6,975.0 751.9,982.4 752.3,988.6 752.6,993.1 753.0,995.4 753.3,995.4 753.7,993.1 754.0,988.6 754.4,982.4 754.7,975.0 755.1,967.0 755.4,959.2 755.8,952.0 756.1,946.3 756.5,942.4 756.8,940.8 757.2,941.4 757.5,944.4 757.9,949.4 758.2,956.0 758.6,963.6 758.9,971.6 759.3,979.4 759.6,986.2 760.0,991.4 760.3,994.7 760.7,995.7 761.0,994.4 761.4,990.8 761.7,985.3 762.1,978.3 762.4,970.5 762.8,962.5 763.1,955.0 763.5,948.6 763.8,943.8 764.2,941.2 764.5,940.9 764.9,942.8 765.2,947.0 765.6,953.0 765.9,960.3 766.3,968.2 766.6,976.1 767.0,983.4 767.3,989.4 767.7,993.6 768.0,995.5 768.4,995.2 768.7,992.6 769.1,987.8 769.4,981.4 769.8,973.9 770.1,965.9 770.5,958.1 770.8,951.1 771.2,945.6 771.5,942.0 771.9,940.7 772.2,941.7 772.6,945.0 772.9,950.2 773.3,957.0 773.6,964.8 774.0,972.8 774.3,980.4 774.7,987.0 775.0,992.0 775.4,995.0 775.7,995.6 776.1,994.0 776.4,990.1 776.8,984.4 777.1,977.2 777.5,969.4 777.8,961.4 778.2,954.0 778.5,947.8 778.9,943.3 779.2,941.0 779.6,941.0 779.9,943.3 780.3,947.8 780.6,954.0 781.0,961.4 781.3,969.4 781.7,977.2 782.0,984.4 782.4,990.1 782.7,994.0" fill="none" stroke="#d4d0f4" stroke-width="0.75" opacity="1"/>
<polyline points="783.0,968.8 783.4,968.1 783.7,967.4 784.1,966.6 784.4,965.8 784.8,965.1 785.1,964.5 785.5,964.0 785.8,963.8 786.2,963.7 786.5,963.9 786.9,964.3 787.2,964.9 787.6,965.8 787.9,966.8 788.3,968.0 788.6,969.3 789.0,970.6 789.3,971.9 789.7,973.0 790.0,974.0 790.4,974.7 790.7,975.2 791.1,975.3 791.4,975.0 791.8,974.4 792.1,973.5 792.5,972.2 792.8,970.7 793.2,969.0 793.5,967.1 793.9,965.3 794.2,963.5 794.6,961.9 794.9,960.5 795.3,959.4 795.6,958.8 796.0,958.6 796.3,958.8 796.7,959.6 797.0,960.7 797.4,962.4 797.7,964.3 798.1,966.5 798.4,968.9 798.8,971.3 799.1,973.6 799.5,975.8 799.8,977.6 800.2,979.1 800.5,980.0 800.9,980.4 801.2,980.2 801.6,979.4 801.9,978.0 802.3,976.1 802.6,973.8 803.0,971.1 803.3,968.2 803.7,965.2 804.0,962.3 804.4,959.6 804.7,957.3 805.1,955.4 805.4,954.1 805.8,953.5 806.1,953.5 806.5,954.3 806.8,955.8 807.2,958.0 807.5,960.7 807.9,963.8 808.2,967.2 808.6,970.7 808.9,974.2 809.3,977.5 809.6,980.4 810.0,982.7 810.3,984.4 810.7,985.4 811.0,985.5 811.4,984.8 811.7,983.2 812.1,980.9 812.4,977.9 812.8,974.4 813.1,970.5 813.5,966.4 813.8,962.4 814.2,958.5 814.5,955.0 814.9,952.1 815.2,950.0 815.6,948.7 815.9,948.3 816.3,948.9 816.6,950.4 817.0,952.8 817.3,956.0 817.7,959.9 818.0,964.3 818.4,968.9 818.7,973.5 819.1,978.0 819.4,982.1 819.8,985.5 820.1,988.2 820.5,990.0 820.8,990.7 821.2,990.3 821.5,988.9 821.9,986.4 822.2,983.0 822.6,978.8 822.9,974.1 823.3,968.9 823.6,963.7 824.0,958.6 824.3,953.9 824.7,949.8 825.0,946.6 825.4,944.3 825.7,943.2 826.1,943.3 826.4,944.6 826.8,947.1 827.1,950.6 827.5,955.0 827.8,960.1 828.2,965.7 828.5,971.5 828.9,977.2 829.2,982.6 829.6,987.3 829.9,991.2 830.3,994.0" fill="none" stroke="#a848b8" stroke-width="0.75" opacity="1"/>
<polyline points="783.0,970.5 783.4,971.0 783.7,971.5 784.1,971.7 784.4,971.9 784.8,971.8 785.1,971.5 785.5,971.0 785.8,970.3 786.2,969.5 786.5,968.5 786.9,967.4 787.2,966.3 787.6,965.2 787.9,964.2 788.3,963.3 788.6,962.6 789.0,962.2 789.3,962.0 789.7,962.2 790.0,962.6 790.4,963.4 790.7,964.5 791.1,965.8 791.4,967.3 791.8,968.9 792.1,970.6 792.5,972.2 792.8,973.7 793.2,975.0 793.5,976.0 793.9,976.7 794.2,977.0 794.6,976.8 794.9,976.2 795.3,975.2 795.6,973.8 796.0,972.0 796.3,970.0 796.7,967.9 797.0,965.7 797.4,963.5 797.7,961.5 798.1,959.7 798.4,958.3 798.8,957.3 799.1,956.9 799.5,957.0 799.8,957.6 800.2,958.8 800.5,960.5 800.9,962.7 801.2,965.1 801.6,967.8 801.9,970.6 802.3,973.3 802.6,975.9 803.0,978.2 803.3,980.0 803.7,981.3 804.0,982.0 804.4,982.0 804.7,981.4 805.1,980.1 805.4,978.2 805.8,975.7 806.1,972.8 806.5,969.6 806.8,966.3 807.2,963.0 807.5,959.8 807.9,957.0 808.2,954.7 808.6,953.0 808.9,952.0 809.3,951.7 809.6,952.3 810.0,953.7 810.3,955.7 810.7,958.5 811.0,961.8 811.4,965.4 811.7,969.3 812.1,973.2 812.4,977.0 812.8,980.3 813.1,983.2 813.5,985.4 813.8,986.8 814.2,987.3 814.5,986.8 814.9,985.5 815.2,983.3 815.6,980.3 815.9,976.7 816.3,972.6 816.6,968.2 817.0,963.7 817.3,959.4 817.7,955.4 818.0,952.0 818.4,949.3 818.7,947.5 819.1,946.6 819.4,946.8 819.8,948.1 820.1,950.3 820.5,953.4 820.8,957.4 821.2,961.9 821.5,966.8 821.9,971.8 822.2,976.7 822.6,981.4 822.9,985.4 823.3,988.7 823.6,991.0 824.0,992.2 824.3,992.3 824.7,991.2 825.0,989.0 825.4,985.8 825.7,981.6 826.1,976.7 826.4,971.4 826.8,965.8 827.1,960.2 827.5,955.0 827.8,950.3 828.2,946.5 828.5,943.6 828.9,941.9 829.2,941.4 829.6,942.3 829.9,944.4 830.3,947.7" fill="none" stroke="#3fc0a0" stroke-width="0.75" opacity="1"/>
<polyline points="783.0,965.3 783.4,965.5 783.7,965.7 784.1,966.2 784.4,966.8 784.8,967.6 785.1,968.5 785.5,969.4 785.8,970.3 786.2,971.3 786.5,972.1 786.9,972.8 787.2,973.3 787.6,973.5 787.9,973.6 788.3,973.3 788.6,972.7 789.0,971.9 789.3,970.9 789.7,969.6 790.0,968.2 790.4,966.7 790.7,965.2 791.1,963.8 791.4,962.6 791.8,961.5 792.1,960.7 792.5,960.3 792.8,960.3 793.2,960.6 793.5,961.4 793.9,962.5 794.2,964.0 794.6,965.7 794.9,967.6 795.3,969.7 795.6,971.7 796.0,973.6 796.3,975.4 796.7,976.8 797.0,977.9 797.4,978.6 797.7,978.7 798.1,978.3 798.4,977.4 798.8,976.1 799.1,974.3 799.5,972.1 799.8,969.7 800.2,967.1 800.5,964.5 800.9,962.0 801.2,959.7 801.6,957.8 801.9,956.3 802.3,955.4 802.6,955.1 803.0,955.4 803.3,956.4 803.7,958.0 804.0,960.1 804.4,962.6 804.7,965.5 805.1,968.7 805.4,971.8 805.8,974.9 806.1,977.7 806.5,980.1 806.8,982.0 807.2,983.3 807.5,983.8 807.9,983.6 808.2,982.7 808.6,981.0 808.9,978.6 809.3,975.7 809.6,972.4 810.0,968.7 810.3,965.0 810.7,961.3 811.0,957.9 811.4,955.0 811.7,952.6 812.1,950.9 812.4,950.1 812.8,950.1 813.1,951.0 813.5,952.7 813.8,955.3 814.2,958.5 814.5,962.3 814.9,966.4 815.2,970.7 815.6,974.9 815.9,978.9 816.3,982.4 816.6,985.4 817.0,987.5 817.3,988.7 817.7,989.0 818.0,988.2 818.4,986.5 818.7,983.8 819.1,980.3 819.4,976.2 819.8,971.6 820.1,966.8 820.5,962.0 820.8,957.4 821.2,953.2 821.5,949.7 821.9,947.1 822.2,945.4 822.6,944.8 822.9,945.4 823.3,947.0 823.6,949.8 824.0,953.4 824.3,957.9 824.7,962.9 825.0,968.2 825.4,973.6 825.7,978.9 826.1,983.6 826.4,987.8 826.8,991.0 827.1,993.1 827.5,994.1 827.8,993.8 828.2,992.3 828.5,989.6 828.9,985.8 829.2,981.1 829.6,975.7 829.9,969.9 830.3,963.9" fill="none" stroke="#d4d0f4" stroke-width="0.75" opacity="1"/>
<line x1="783" y1="965.2" x2="830.5" y2="940.7" stroke="#b04aa8" stroke-width="0.6"/><line x1="783" y1="971.2" x2="830.5" y2="995.7" stroke="#b04aa8" stroke-width="0.6"/>
<line x1="830.5" y1="968.2" x2="877.9" y2="968.2" stroke="#d4d0f4" stroke-width="0.9"/>
<polyline points="877.9,966.7 878.2,968.0 878.6,969.3 879.0,970.7 879.3,971.9 879.7,972.9 880.0,973.8 880.4,974.4 880.7,974.7 881.1,974.7 881.4,974.4 881.8,973.7 882.1,972.8 882.5,971.7 882.8,970.3 883.2,968.9 883.5,967.3 883.9,965.8 884.2,964.4 884.6,963.1 884.9,962.0 885.3,961.3 885.6,960.8 886.0,960.7 886.3,961.0 886.7,961.6 887.0,962.6 887.4,963.8 887.7,965.3 888.1,967.0 888.4,968.7 888.8,970.4 889.1,972.1 889.5,973.6 889.8,974.8 890.2,975.8 890.5,976.4 890.9,976.6 891.2,976.4 891.6,975.8 891.9,974.8 892.3,973.5 892.6,971.9 893.0,970.1 893.3,968.2 893.7,966.3 894.0,964.4 894.4,962.7 894.7,961.2 895.1,960.0 895.4,959.3 895.8,958.9 896.1,959.0 896.5,959.6 896.8,960.5 897.2,961.9 897.5,963.6 897.9,965.5 898.2,967.6 898.6,969.7 898.9,971.8 899.3,973.8 899.6,975.5 900.0,976.9 900.3,977.8 900.7,978.4 901.0,978.4 901.4,977.9 901.7,977.0 902.1,975.6 902.4,973.8 902.8,971.8 903.1,969.5 903.5,967.2 903.8,964.9 904.2,962.7 904.5,960.7 904.9,959.1 905.2,957.9 905.6,957.2 905.9,957.1 906.3,957.4 906.6,958.3 907.0,959.7 907.3,961.5 907.7,963.6 908.0,966.0 908.4,968.6 908.7,971.1 909.1,973.5 909.4,975.7 909.8,977.6 910.1,979.0 910.5,979.9 910.8,980.3 911.2,980.0 911.5,979.2 911.9,977.9 912.2,976.1 912.6,973.8 912.9,971.3 913.3,968.6 913.6,965.8 914.0,963.2 914.3,960.7 914.7,958.6 915.0,956.9 915.4,955.8 915.7,955.3 916.1,955.3 916.4,956.0 916.8,957.3 917.1,959.1 917.5,961.4 917.8,964.1 918.2,966.9 918.5,969.9 918.9,972.8 919.2,975.5 919.6,977.9 919.9,979.8 920.3,981.2 920.6,982.0 921.0,982.1 921.3,981.5 921.7,980.3 922.0,978.5 922.4,976.2 922.7,973.5 923.1,970.4 923.4,967.3 923.8,964.2 924.1,961.2 924.5,958.6 924.8,956.3 925.2,954.7 925.5,953.7 925.9,953.4 926.2,953.8 926.6,954.9" fill="none" stroke="#3fc0a0" stroke-width="0.75" opacity="0.9"/>
<polyline points="877.9,985.2 878.2,985.2 878.6,985.2 879.0,984.9 879.3,979.8 879.7,974.1 880.0,968.2 880.4,962.3 880.7,956.6 881.1,951.5 881.4,951.2 881.8,951.2 882.1,951.2 882.5,951.2 882.8,951.2 883.2,951.2 883.5,951.2 883.9,951.2 884.2,955.1 884.6,960.6 884.9,966.5 885.3,972.5 885.6,978.2 886.0,983.5 886.3,985.2 886.7,985.2 887.0,985.2 887.4,985.2 887.7,985.2 888.1,985.2 888.4,985.2 888.8,985.2 889.1,982.8 889.5,977.4 889.8,971.6 890.2,965.6 890.5,959.8 890.9,954.4 891.2,951.2 891.6,951.2 891.9,951.2 892.3,951.2 892.6,951.2 893.0,951.2 893.3,951.2 893.7,951.2 894.0,952.2 894.4,957.4 894.7,963.1 895.1,969.1 895.4,975.0 895.8,980.5 896.1,985.2 896.5,985.2 896.8,985.2 897.2,985.2 897.5,985.2 897.9,985.2 898.2,985.2 898.6,985.2 898.9,985.2 899.3,980.5 899.6,975.0 900.0,969.1 900.3,963.1 900.7,957.4 901.0,952.2 901.4,951.2 901.7,951.2 902.1,951.2 902.4,951.2 902.8,951.2 903.1,951.2 903.5,951.2 903.8,951.2 904.2,954.4 904.5,959.8 904.9,965.6 905.2,971.6 905.6,977.4 905.9,982.8 906.3,985.2 906.6,985.2 907.0,985.2 907.3,985.2 907.7,985.2 908.0,985.2 908.4,985.2 908.7,985.2 909.1,983.5 909.4,978.2 909.8,972.5 910.1,966.5 910.5,960.6 910.8,955.1 911.2,951.2 911.5,951.2 911.9,951.2 912.2,951.2 912.6,951.2 912.9,951.2 913.3,951.2 913.6,951.2 914.0,951.5 914.3,956.6 914.7,962.3 915.0,968.2 915.4,974.1 915.7,979.8 916.1,984.9 916.4,985.2 916.8,985.2 917.1,985.2 917.5,985.2 917.8,985.2 918.2,985.2 918.5,985.2 918.9,985.2 919.2,981.3 919.6,975.8 919.9,969.9 920.3,963.9 920.6,958.2 921.0,952.9 921.3,951.2 921.7,951.2 922.0,951.2 922.4,951.2 922.7,951.2 923.1,951.2 923.4,951.2 923.8,951.2 924.1,953.6 924.5,959.0 924.8,964.8 925.2,970.8 925.5,976.6 925.9,982.0 926.2,985.2 926.6,985.2" fill="none" stroke="#d4d0f4" stroke-width="0.9" opacity="1"/>
<line x1="877.9" y1="961.2" x2="926.7" y2="939.2" stroke="#b04aa8" stroke-width="0.6"/><line x1="877.9" y1="975.2" x2="926.7" y2="995.2" stroke="#b04aa8" stroke-width="0.6"/>
<polyline points="926.7,971.2 927.1,977.9 927.4,984.0 927.8,989.2 928.1,992.9 928.5,995.2 928.8,995.7 929.2,994.4 929.5,991.5 929.9,987.1 930.2,981.5 930.6,975.1 930.9,968.2 931.3,961.3 931.6,954.9 932.0,949.3 932.3,944.9 932.7,942.0 933.0,940.7 933.4,941.2 933.7,943.5 934.1,947.2 934.4,952.4 934.8,958.5 935.1,965.2 935.5,972.2 935.8,978.8 936.2,984.8 936.5,989.8 936.9,993.4 937.2,995.3 937.6,995.6 937.9,994.1 938.3,991.0 938.6,986.4 939.0,980.6 939.3,974.1 939.7,967.2 940.0,960.4 940.4,954.0 940.7,948.6 941.1,944.4 941.4,941.7 941.8,940.7 942.1,941.5 942.5,943.9 942.8,947.9 943.2,953.2 943.5,959.4 943.9,966.2 944.2,973.1 944.6,979.7 944.9,985.6 945.3,990.4 945.6,993.7 946.0,995.5 946.3,995.5 946.7,993.7 947.0,990.4 947.4,985.6 947.7,979.7 948.1,973.1 948.4,966.2 948.8,959.4 949.1,953.2 949.5,947.9 949.8,943.9 950.2,941.5 950.5,940.7 950.9,941.7 951.2,944.4 951.6,948.6 951.9,954.0 952.3,960.4 952.6,967.2 953.0,974.1 953.3,980.6 953.7,986.4 954.0,991.0 954.4,994.1 954.7,995.6 955.1,995.3 955.4,993.4 955.8,989.8 956.1,984.8 956.5,978.8 956.8,972.2 957.2,965.2 957.5,958.5 957.9,952.4 958.2,947.2 958.6,943.5 958.9,941.2 959.3,940.7 959.6,942.0 960.0,944.9 960.3,949.3 960.7,954.9 961.0,961.3 961.4,968.2 961.7,975.1 962.1,981.5 962.4,987.1 962.8,991.5 963.1,994.4 963.5,995.7 963.8,995.2 964.2,992.9 964.5,989.2 964.9,984.0 965.2,977.9 965.6,971.2 965.9,964.2 966.3,957.6 966.6,951.6 967.0,946.6 967.3,943.0 967.7,941.1 968.0,940.8 968.4,942.3 968.7,945.4 969.1,950.0 969.4,955.8 969.8,962.3 970.1,969.2 970.5,976.0 970.8,982.4 971.2,987.8 971.5,992.0 971.9,994.7 972.2,995.7 972.6,994.9 972.9,992.5 973.3,988.5 973.6,983.2 974.0,977.0" fill="none" stroke="#a848b8" stroke-width="0.75" opacity="1"/>
<polyline points="926.7,943.0 927.1,941.1 927.4,940.8 927.8,942.3 928.1,945.4 928.5,950.0 928.8,955.8 929.2,962.3 929.5,969.2 929.9,976.0 930.2,982.4 930.6,987.8 930.9,992.0 931.3,994.7 931.6,995.7 932.0,994.9 932.3,992.5 932.7,988.5 933.0,983.2 933.4,977.0 933.7,970.2 934.1,963.3 934.4,956.7 934.8,950.8 935.1,946.0 935.5,942.7 935.8,940.9 936.2,940.9 936.5,942.7 936.9,946.0 937.2,950.8 937.6,956.7 937.9,963.3 938.3,970.2 938.6,977.0 939.0,983.2 939.3,988.5 939.7,992.5 940.0,994.9 940.4,995.7 940.7,994.7 941.1,992.0 941.4,987.8 941.8,982.4 942.1,976.0 942.5,969.2 942.8,962.3 943.2,955.8 943.5,950.0 943.9,945.4 944.2,942.3 944.6,940.8 944.9,941.1 945.3,943.0 945.6,946.6 946.0,951.6 946.3,957.6 946.7,964.2 947.0,971.2 947.4,977.9 947.7,984.0 948.1,989.2 948.4,992.9 948.8,995.2 949.1,995.7 949.5,994.4 949.8,991.5 950.2,987.1 950.5,981.5 950.9,975.1 951.2,968.2 951.6,961.3 951.9,954.9 952.3,949.3 952.6,944.9 953.0,942.0 953.3,940.7 953.7,941.2 954.0,943.5 954.4,947.2 954.7,952.4 955.1,958.5 955.4,965.2 955.8,972.2 956.1,978.8 956.5,984.8 956.8,989.8 957.2,993.4 957.5,995.3 957.9,995.6 958.2,994.1 958.6,991.0 958.9,986.4 959.3,980.6 959.6,974.1 960.0,967.2 960.3,960.4 960.7,954.0 961.0,948.6 961.4,944.4 961.7,941.7 962.1,940.7 962.4,941.5 962.8,943.9 963.1,947.9 963.5,953.2 963.8,959.4 964.2,966.2 964.5,973.1 964.9,979.7 965.2,985.6 965.6,990.4 965.9,993.7 966.3,995.5 966.6,995.5 967.0,993.7 967.3,990.4 967.7,985.6 968.0,979.7 968.4,973.1 968.7,966.2 969.1,959.4 969.4,953.2 969.8,947.9 970.1,943.9 970.5,941.5 970.8,940.7 971.2,941.7 971.5,944.4 971.9,948.6 972.2,954.0 972.6,960.4 972.9,967.2 973.3,974.1 973.6,980.6 974.0,986.4" fill="none" stroke="#3fc0a0" stroke-width="0.75" opacity="1"/>
<polyline points="926.7,990.4 927.1,985.6 927.4,979.7 927.8,973.1 928.1,966.2 928.5,959.4 928.8,953.2 929.2,947.9 929.5,943.9 929.9,941.5 930.2,940.7 930.6,941.7 930.9,944.4 931.3,948.6 931.6,954.0 932.0,960.4 932.3,967.2 932.7,974.1 933.0,980.6 933.4,986.4 933.7,991.0 934.1,994.1 934.4,995.6 934.8,995.3 935.1,993.4 935.5,989.8 935.8,984.8 936.2,978.8 936.5,972.2 936.9,965.2 937.2,958.5 937.6,952.4 937.9,947.2 938.3,943.5 938.6,941.2 939.0,940.7 939.3,942.0 939.7,944.9 940.0,949.3 940.4,954.9 940.7,961.3 941.1,968.2 941.4,975.1 941.8,981.5 942.1,987.1 942.5,991.5 942.8,994.4 943.2,995.7 943.5,995.2 943.9,992.9 944.2,989.2 944.6,984.0 944.9,977.9 945.3,971.2 945.6,964.2 946.0,957.6 946.3,951.6 946.7,946.6 947.0,943.0 947.4,941.1 947.7,940.8 948.1,942.3 948.4,945.4 948.8,950.0 949.1,955.8 949.5,962.3 949.8,969.2 950.2,976.0 950.5,982.4 950.9,987.8 951.2,992.0 951.6,994.7 951.9,995.7 952.3,994.9 952.6,992.5 953.0,988.5 953.3,983.2 953.7,977.0 954.0,970.2 954.4,963.3 954.7,956.7 955.1,950.8 955.4,946.0 955.8,942.7 956.1,940.9 956.5,940.9 956.8,942.7 957.2,946.0 957.5,950.8 957.9,956.7 958.2,963.3 958.6,970.2 958.9,977.0 959.3,983.2 959.6,988.5 960.0,992.5 960.3,994.9 960.7,995.7 961.0,994.7 961.4,992.0 961.7,987.8 962.1,982.4 962.4,976.0 962.8,969.2 963.1,962.3 963.5,955.8 963.8,950.0 964.2,945.4 964.5,942.3 964.9,940.8 965.2,941.1 965.6,943.0 965.9,946.6 966.3,951.6 966.6,957.6 967.0,964.2 967.3,971.2 967.7,977.9 968.0,984.0 968.4,989.2 968.7,992.9 969.1,995.2 969.4,995.7 969.8,994.4 970.1,991.5 970.5,987.1 970.8,981.5 971.2,975.1 971.5,968.2 971.9,961.3 972.2,954.9 972.6,949.3 972.9,944.9 973.3,942.0 973.6,940.7 974.0,941.2" fill="none" stroke="#d4d0f4" stroke-width="0.75" opacity="1"/>
<line x1="721.0" y1="1001.0" x2="735.0" y2="1001.0" stroke="#222" stroke-width="1" opacity="0.5" stroke-dasharray="2.2 0.7"/>
<line x1="758.0" y1="1001.0" x2="764.0" y2="1001.0" stroke="#333" stroke-width="1" opacity="0.5" stroke-dasharray="2.2 0.7"/>
<line x1="806.0" y1="1001.0" x2="812.0" y2="1001.0" stroke="#333" stroke-width="1" opacity="0.5" stroke-dasharray="2.2 0.7"/>
<line x1="854.0" y1="1001.0" x2="860.0" y2="1001.0" stroke="#333" stroke-width="1" opacity="0.5" stroke-dasharray="2.2 0.7"/>
<line x1="901.0" y1="1001.0" x2="907.0" y2="1001.0" stroke="#333" stroke-width="1" opacity="0.5" stroke-dasharray="2.2 0.7"/>
<line x1="948.0" y1="1001.0" x2="954.0" y2="1001.0" stroke="#333" stroke-width="1" opacity="0.5" stroke-dasharray="2.2 0.7"/>
<line x1="721.0" y1="1004.5" x2="735.0" y2="1004.5" stroke="#222" stroke-width="1" opacity="0.5" stroke-dasharray="2.2 0.7"/>
<line x1="758.0" y1="1004.5" x2="764.0" y2="1004.5" stroke="#333" stroke-width="1" opacity="0.5" stroke-dasharray="2.2 0.7"/>
<line x1="806.0" y1="1004.5" x2="812.0" y2="1004.5" stroke="#333" stroke-width="1" opacity="0.5" stroke-dasharray="2.2 0.7"/>
<line x1="854.0" y1="1004.5" x2="860.0" y2="1004.5" stroke="#333" stroke-width="1" opacity="0.5" stroke-dasharray="2.2 0.7"/>
<line x1="901.0" y1="1004.5" x2="907.0" y2="1004.5" stroke="#333" stroke-width="1" opacity="0.5" stroke-dasharray="2.2 0.7"/>
<line x1="948.0" y1="1004.5" x2="954.0" y2="1004.5" stroke="#333" stroke-width="1" opacity="0.5" stroke-dasharray="2.2 0.7"/>
<line x1="721.0" y1="1008.0" x2="735.0" y2="1008.0" stroke="#222" stroke-width="1" opacity="0.5" stroke-dasharray="2.2 0.7"/>
<line x1="758.0" y1="1008.0" x2="764.0" y2="1008.0" stroke="#333" stroke-width="1" opacity="0.5" stroke-dasharray="2.2 0.7"/>
<line x1="806.0" y1="1008.0" x2="812.0" y2="1008.0" stroke="#333" stroke-width="1" opacity="0.5" stroke-dasharray="2.2 0.7"/>
<line x1="854.0" y1="1008.0" x2="860.0" y2="1008.0" stroke="#333" stroke-width="1" opacity="0.5" stroke-dasharray="2.2 0.7"/>
<line x1="901.0" y1="1008.0" x2="907.0" y2="1008.0" stroke="#333" stroke-width="1" opacity="0.5" stroke-dasharray="2.2 0.7"/>
<line x1="948.0" y1="1008.0" x2="954.0" y2="1008.0" stroke="#333" stroke-width="1" opacity="0.5" stroke-dasharray="2.2 0.7"/>
<line x1="977.0" y1="960.0" x2="1002.0" y2="960.0" stroke="#444" stroke-width="1" opacity="0.3" stroke-dasharray="2.2 0.7"/>
<line x1="977.0" y1="964.0" x2="1002.0" y2="964.0" stroke="#444" stroke-width="1" opacity="0.3" stroke-dasharray="2.2 0.7"/>
<line x1="977.0" y1="968.0" x2="1002.0" y2="968.0" stroke="#444" stroke-width="1" opacity="0.3" stroke-dasharray="2.2 0.7"/>
<line x1="983.0" y1="972.0" x2="1000.0" y2="972.0" stroke="#444" stroke-width="1" opacity="0.3" stroke-dasharray="2.2 0.7"/>
<line x1="977.0" y1="976.0" x2="1002.0" y2="976.0" stroke="#444" stroke-width="1" opacity="0.3" stroke-dasharray="2.2 0.7"/>
<line x1="977.0" y1="984.0" x2="993.0" y2="984.0" stroke="#111" stroke-width="1.1" opacity="0.7" stroke-dasharray="2.2 0.7"/>
<rect x="977.0" y="987.0" width="18.0" height="4.0" fill="#f6f6f6" stroke="#777" stroke-width="0.4"/>
<line x1="977.0" y1="994.0" x2="1002.0" y2="994.0" stroke="#111" stroke-width="1.1" opacity="0.7" stroke-dasharray="2.2 0.7"/>
<rect x="719.0" y="1012.5" width="221.0" height="10.0" fill="#fafafa"/>
<line x1="722.0" y1="1014.5" x2="741.0" y2="1014.5" stroke="#111" stroke-width="1.2" opacity="0.8" stroke-dasharray="2.2 0.7"/>
<rect x="745.5" y="1013.5" width="121.2" height="2.0" fill="#bdbdbd"/>
<line x1="868.0" y1="1014.5" x2="870.0" y2="1014.5" stroke="#111" stroke-width="1" opacity="0.7" stroke-dasharray="2.2 0.7"/>
<line x1="882.0" y1="1014.5" x2="884.0" y2="1014.5" stroke="#111" stroke-width="1" opacity="0.7" stroke-dasharray="2.2 0.7"/>
<line x1="903.0" y1="1014.5" x2="935.0" y2="1014.5" stroke="#111" stroke-width="1.1" opacity="0.7" stroke-dasharray="2.2 0.7"/>
<line x1="722.0" y1="1017.3" x2="741.0" y2="1017.3" stroke="#111" stroke-width="1.2" opacity="0.8" stroke-dasharray="2.2 0.7"/>
<rect x="745.5" y="1016.3" width="121.2" height="2.0" fill="#bdbdbd"/>
<line x1="868.0" y1="1017.3" x2="870.0" y2="1017.3" stroke="#111" stroke-width="1" opacity="0.7" stroke-dasharray="2.2 0.7"/>
<line x1="882.0" y1="1017.3" x2="884.0" y2="1017.3" stroke="#111" stroke-width="1" opacity="0.7" stroke-dasharray="2.2 0.7"/>
<line x1="903.0" y1="1017.3" x2="935.0" y2="1017.3" stroke="#111" stroke-width="1.1" opacity="0.7" stroke-dasharray="2.2 0.7"/>
<line x1="722.0" y1="1020.1" x2="741.0" y2="1020.1" stroke="#111" stroke-width="1.2" opacity="0.8" stroke-dasharray="2.2 0.7"/>
<rect x="745.5" y="1019.1" width="121.2" height="2.0" fill="#bdbdbd"/>
<line x1="868.0" y1="1020.1" x2="870.0" y2="1020.1" stroke="#111" stroke-width="1" opacity="0.7" stroke-dasharray="2.2 0.7"/>
<line x1="882.0" y1="1020.1" x2="884.0" y2="1020.1" stroke="#111" stroke-width="1" opacity="0.7" stroke-dasharray="2.2 0.7"/>
<line x1="903.0" y1="1020.1" x2="935.0" y2="1020.1" stroke="#111" stroke-width="1.1" opacity="0.7" stroke-dasharray="2.2 0.7"/>
<rect x="943.4" y="1013.4" width="25.1" height="8.9" fill="#ede7d2"/>
<circle cx="981" cy="1018" r="2.6" fill="#4cb84c"/>
<rect x="986.6" y="1014.2" width="18.1" height="8.1" fill="#36a046" stroke="#2a6a30" stroke-width="0.6"/>
<rect x="719.0" y="1023.0" width="287.0" height="39.2" fill="#e7e7e7" stroke="#c8c8c8" stroke-width="0.5"/>
<line x1="790" y1="1026.5" x2="920" y2="1026.5" stroke="#bbb" stroke-width="1"/>
<path d="M917,1024 l5,0 l-2.5,3.5z" fill="#3aa07a"/>
<line x1="790.0" y1="1029" x2="790.0" y2="1031" stroke="#888" stroke-width="0.4"/>
<line x1="796.0" y1="1029" x2="796.0" y2="1031" stroke="#888" stroke-width="0.4"/>
<line x1="802.0" y1="1029" x2="802.0" y2="1031" stroke="#888" stroke-width="0.4"/>
<line x1="808.0" y1="1029" x2="808.0" y2="1031" stroke="#888" stroke-width="0.4"/>
<line x1="814.0" y1="1029" x2="814.0" y2="1031" stroke="#888" stroke-width="0.4"/>
<line x1="820.0" y1="1029" x2="820.0" y2="1031" stroke="#888" stroke-width="0.4"/>
<line x1="826.0" y1="1029" x2="826.0" y2="1031" stroke="#888" stroke-width="0.4"/>
<line x1="832.0" y1="1029" x2="832.0" y2="1031" stroke="#888" stroke-width="0.4"/>
<line x1="838.0" y1="1029" x2="838.0" y2="1031" stroke="#888" stroke-width="0.4"/>
<line x1="844.0" y1="1029" x2="844.0" y2="1031" stroke="#888" stroke-width="0.4"/>
<line x1="850.0" y1="1029" x2="850.0" y2="1031" stroke="#888" stroke-width="0.4"/>
<line x1="856.0" y1="1029" x2="856.0" y2="1031" stroke="#888" stroke-width="0.4"/>
<line x1="862.0" y1="1029" x2="862.0" y2="1031" stroke="#888" stroke-width="0.4"/>
<line x1="868.0" y1="1029" x2="868.0" y2="1031" stroke="#888" stroke-width="0.4"/>
<line x1="874.0" y1="1029" x2="874.0" y2="1031" stroke="#888" stroke-width="0.4"/>
<line x1="880.0" y1="1029" x2="880.0" y2="1031" stroke="#888" stroke-width="0.4"/>
<line x1="886.0" y1="1029" x2="886.0" y2="1031" stroke="#888" stroke-width="0.4"/>
<line x1="892.0" y1="1029" x2="892.0" y2="1031" stroke="#888" stroke-width="0.4"/>
<line x1="898.0" y1="1029" x2="898.0" y2="1031" stroke="#888" stroke-width="0.4"/>
<line x1="904.0" y1="1029" x2="904.0" y2="1031" stroke="#888" stroke-width="0.4"/>
<line x1="910.0" y1="1029" x2="910.0" y2="1031" stroke="#888" stroke-width="0.4"/>
<line x1="916.0" y1="1029" x2="916.0" y2="1031" stroke="#888" stroke-width="0.4"/>
<rect x="772.0" y="1026.0" width="13.9" height="5.5" fill="#8dd29a" stroke="#6a9" stroke-width="0.4"/>
<line x1="746.0" y1="1025.0" x2="766.0" y2="1025.0" stroke="#444" stroke-width="1" opacity="0.4" stroke-dasharray="2.2 0.7"/>
<rect x="724.0" y="1028.0" width="14.0" height="6.0" fill="#ededed" stroke="#b8b8b8" stroke-width="0.4"/>
<line x1="726.0" y1="1031.0" x2="736.0" y2="1031.0" stroke="#444" stroke-width="1" opacity="0.4" stroke-dasharray="2.2 0.7"/>
<rect x="740.0" y="1028.0" width="14.0" height="6.0" fill="#ededed" stroke="#b8b8b8" stroke-width="0.4"/>
<line x1="742.0" y1="1031.0" x2="752.0" y2="1031.0" stroke="#444" stroke-width="1" opacity="0.4" stroke-dasharray="2.2 0.7"/>
<rect x="756.0" y="1028.0" width="14.0" height="6.0" fill="#ededed" stroke="#b8b8b8" stroke-width="0.4"/>
<line x1="758.0" y1="1031.0" x2="768.0" y2="1031.0" stroke="#444" stroke-width="1" opacity="0.4" stroke-dasharray="2.2 0.7"/>
<line x1="936.0" y1="1025.0" x2="950.0" y2="1025.0" stroke="#555" stroke-width="1" opacity="0.4" stroke-dasharray="2.2 0.7"/>
<rect x="939.0" y="1027.0" width="11.0" height="4.0" fill="#bbb"/>
<g opacity="0.5">
<rect x="962.0" y="1026.5" width="2.5" height="5.0" fill="#c8c8c8" stroke="#888" stroke-width="0.4"/>
<rect x="965.0" y="1027.0" width="10.0" height="4.0" fill="#3fa34f" stroke="#2d7a3a" stroke-width="0.4"/>
</g>
<line x1="976.0" y1="1029.0" x2="1004.0" y2="1029.0" stroke="#666" stroke-width="1" opacity="0.4" stroke-dasharray="2.2 0.7"/>
<line x1="976.0" y1="1033.0" x2="1004.0" y2="1033.0" stroke="#666" stroke-width="1" opacity="0.4" stroke-dasharray="2.2 0.7"/>
<g opacity="0.6">
<rect x="721.5" y="1044.1" width="2.5" height="5.6" fill="#c8c8c8" stroke="#888" stroke-width="0.4"/>
<rect x="724.5" y="1044.6" width="15.4" height="4.6" fill="#3fa34f" stroke="#2d7a3a" stroke-width="0.4"/>
</g>
<line x1="724.5" y1="1039.5" x2="737.9" y2="1039.5" stroke="#444" stroke-width="1" opacity="0.35" stroke-dasharray="2.2 0.7"/>
<line x1="732.5" y1="1053.5" x2="739.9" y2="1053.5" stroke="#444" stroke-width="1" opacity="0.2" stroke-dasharray="2.2 0.7"/>
<g opacity="0.6">
<rect x="742.5" y="1044.1" width="2.5" height="5.6" fill="#c8c8c8" stroke="#888" stroke-width="0.4"/>
<rect x="745.5" y="1044.6" width="19.5" height="4.6" fill="#3fa34f" stroke="#2d7a3a" stroke-width="0.4"/>
</g>
<line x1="745.5" y1="1039.5" x2="763.0" y2="1039.5" stroke="#444" stroke-width="1" opacity="0.35" stroke-dasharray="2.2 0.7"/>
<line x1="753.5" y1="1053.5" x2="765.0" y2="1053.5" stroke="#444" stroke-width="1" opacity="0.2" stroke-dasharray="2.2 0.7"/>
<g opacity="0.6">
<rect x="764.8" y="1044.1" width="2.5" height="5.6" fill="#c8c8c8" stroke="#888" stroke-width="0.4"/>
<rect x="767.8" y="1044.6" width="23.7" height="4.6" fill="#3fa34f" stroke="#2d7a3a" stroke-width="0.4"/>
</g>
<line x1="767.8" y1="1039.5" x2="789.5" y2="1039.5" stroke="#444" stroke-width="1" opacity="0.35" stroke-dasharray="2.2 0.7"/>
<line x1="775.8" y1="1053.5" x2="791.5" y2="1053.5" stroke="#444" stroke-width="1" opacity="0.2" stroke-dasharray="2.2 0.7"/>
<g opacity="0.6">
<rect x="789.8" y="1044.1" width="2.5" height="5.6" fill="#c8c8c8" stroke="#888" stroke-width="0.4"/>
<rect x="792.8" y="1044.6" width="22.4" height="4.6" fill="#3fa34f" stroke="#2d7a3a" stroke-width="0.4"/>
</g>
<line x1="792.8" y1="1039.5" x2="813.2" y2="1039.5" stroke="#444" stroke-width="1" opacity="0.35" stroke-dasharray="2.2 0.7"/>
<line x1="800.8" y1="1053.5" x2="815.2" y2="1053.5" stroke="#444" stroke-width="1" opacity="0.2" stroke-dasharray="2.2 0.7"/>
<g opacity="0.6">
<rect x="815.0" y="1044.1" width="2.5" height="5.6" fill="#c8c8c8" stroke="#888" stroke-width="0.4"/>
<rect x="818.0" y="1044.6" width="23.6" height="4.6" fill="#3fa34f" stroke="#2d7a3a" stroke-width="0.4"/>
</g>
<line x1="818.0" y1="1039.5" x2="839.6" y2="1039.5" stroke="#444" stroke-width="1" opacity="0.35" stroke-dasharray="2.2 0.7"/>
<line x1="826.0" y1="1053.5" x2="841.6" y2="1053.5" stroke="#444" stroke-width="1" opacity="0.2" stroke-dasharray="2.2 0.7"/>
<g opacity="0.6">
<rect x="841.4" y="1044.1" width="2.5" height="5.6" fill="#c8c8c8" stroke="#888" stroke-width="0.4"/>
<rect x="844.4" y="1044.6" width="22.3" height="4.6" fill="#3fa34f" stroke="#2d7a3a" stroke-width="0.4"/>
</g>
<line x1="844.4" y1="1039.5" x2="864.7" y2="1039.5" stroke="#444" stroke-width="1" opacity="0.35" stroke-dasharray="2.2 0.7"/>
<line x1="852.4" y1="1053.5" x2="866.7" y2="1053.5" stroke="#444" stroke-width="1" opacity="0.2" stroke-dasharray="2.2 0.7"/>
<g opacity="0.6">
<rect x="866.5" y="1044.1" width="2.5" height="5.6" fill="#c8c8c8" stroke="#888" stroke-width="0.4"/>
<rect x="869.5" y="1044.6" width="22.3" height="4.6" fill="#3fa34f" stroke="#2d7a3a" stroke-width="0.4"/>
</g>
<line x1="869.5" y1="1039.5" x2="889.8" y2="1039.5" stroke="#444" stroke-width="1" opacity="0.35" stroke-dasharray="2.2 0.7"/>
<line x1="877.5" y1="1053.5" x2="891.8" y2="1053.5" stroke="#444" stroke-width="1" opacity="0.2" stroke-dasharray="2.2 0.7"/>
<rect x="896.0" y="1044.0" width="8.0" height="6.0" fill="#f0e070"/>
<rect x="904.0" y="1044.0" width="6.0" height="6.0" fill="#aaa"/>
<g opacity="0.6">
<rect x="913.9" y="1044.1" width="2.5" height="5.6" fill="#c8c8c8" stroke="#888" stroke-width="0.4"/>
<rect x="916.9" y="1044.6" width="26.5" height="4.6" fill="#3fa34f" stroke="#2d7a3a" stroke-width="0.4"/>
</g>
<line x1="922.0" y1="1039.0" x2="938.0" y2="1039.0" stroke="#444" stroke-width="1" opacity="0.35" stroke-dasharray="2.2 0.7"/>
<rect x="947.0" y="1040.0" width="19.0" height="18.0" fill="#eeeeee" stroke="#d0d0d0" stroke-width="0.4"/>
<line x1="722.0" y1="1057.5" x2="775.0" y2="1057.5" stroke="#444" stroke-width="1" opacity="0.35" stroke-dasharray="2.2 0.7"/>
<line x1="780.0" y1="1057.5" x2="838.0" y2="1057.5" stroke="#444" stroke-width="1" opacity="0.25" stroke-dasharray="2.2 0.7"/>
<line x1="845.0" y1="1057.5" x2="873.0" y2="1057.5" stroke="#444" stroke-width="1" opacity="0.35" stroke-dasharray="2.2 0.7"/>
<line x1="893.0" y1="1057.5" x2="918.0" y2="1057.5" stroke="#444" stroke-width="1" opacity="0.35" stroke-dasharray="2.2 0.7"/>
<circle cx="990.8" cy="1049" r="3.2" fill="#9ed68f"/>
<rect x="987.0" y="1053.0" width="8.0" height="4.0" fill="#f4f4f4" stroke="#8aa" stroke-width="0.4"/>
<rect x="719.0" y="1075.2" width="69.7" height="36.9" fill="#cdcdcd" stroke="#9a9a9a" stroke-width="0.4"/>
<rect x="727.3" y="1076.0" width="60.5" height="35.5" fill="#2b52ab"/>
<line x1="727.3" y1="1096.5" x2="787.8" y2="1096.5" stroke="#8e86c8" stroke-width="0.7"/>
<line x1="734.3" y1="1076.0" x2="734.3" y2="1111.5" stroke="#7a3fa0" stroke-width="0.7"/>
<rect x="720.0" y="1070.9" width="3.5" height="3.0" fill="#a23a2a"/>
<g opacity="1">
<rect x="723.5" y="1069.7" width="2.5" height="5.0" fill="#c8c8c8" stroke="#888" stroke-width="0.4"/>
<rect x="726.5" y="1070.2" width="12.5" height="4.0" fill="#3fa34f" stroke="#2d7a3a" stroke-width="0.4"/>
</g>
<rect x="753.0" y="1069.7" width="3.5" height="5.0" fill="#e8e8e8" stroke="#888" stroke-width="0.4"/>
<rect x="760.0" y="1072.0" width="6.0" height="2.7" fill="#eeeeee" stroke="#666" stroke-width="0.4"/>
<path d="M763.5,1073.7 l2,0 l-1,1.5z" fill="#111"/>
<rect x="766.5" y="1072.0" width="21.3" height="2.7" fill="#2f5ec0"/>
<line x1="747.0" y1="1068.2" x2="755.0" y2="1068.2" stroke="#333" stroke-width="0.9" opacity="0.5" stroke-dasharray="2.2 0.7"/>
<rect x="792.8" y="1075.2" width="68.4" height="36.9" fill="#cdcdcd" stroke="#9a9a9a" stroke-width="0.4"/>
<rect x="799.8" y="1076.0" width="60.0" height="35.5" fill="#2b52ab"/>
<line x1="799.8" y1="1096.5" x2="859.8" y2="1096.5" stroke="#8e86c8" stroke-width="0.7"/>
<line x1="807.0" y1="1076.0" x2="807.0" y2="1111.5" stroke="#7a3fa0" stroke-width="0.7"/>
<rect x="793.8" y="1070.9" width="3.5" height="3.0" fill="#a23a2a"/>
<g opacity="1">
<rect x="797.3" y="1069.7" width="2.5" height="5.0" fill="#c8c8c8" stroke="#888" stroke-width="0.4"/>
<rect x="800.3" y="1070.2" width="12.5" height="4.0" fill="#3fa34f" stroke="#2d7a3a" stroke-width="0.4"/>
</g>
<rect x="826.8" y="1069.7" width="3.5" height="5.0" fill="#e8e8e8" stroke="#888" stroke-width="0.4"/>
<rect x="833.8" y="1072.0" width="6.0" height="2.7" fill="#eeeeee" stroke="#666" stroke-width="0.4"/>
<path d="M837.3,1073.7 l2,0 l-1,1.5z" fill="#111"/>
<rect x="840.3" y="1072.0" width="19.5" height="2.7" fill="#2f5ec0"/>
<line x1="820.8" y1="1068.2" x2="828.8" y2="1068.2" stroke="#333" stroke-width="0.9" opacity="0.5" stroke-dasharray="2.2 0.7"/>
<rect x="865.3" y="1075.2" width="69.7" height="36.9" fill="#cdcdcd" stroke="#9a9a9a" stroke-width="0.4"/>
<rect x="872.3" y="1076.0" width="61.3" height="35.5" fill="#2b52ab"/>
<line x1="872.3" y1="1096.5" x2="933.6" y2="1096.5" stroke="#8e86c8" stroke-width="0.7"/>
<line x1="878.4" y1="1076.0" x2="878.4" y2="1111.5" stroke="#7a3fa0" stroke-width="0.7"/>
<rect x="866.3" y="1070.9" width="3.5" height="3.0" fill="#a23a2a"/>
<g opacity="1">
<rect x="869.8" y="1069.7" width="2.5" height="5.0" fill="#c8c8c8" stroke="#888" stroke-width="0.4"/>
<rect x="872.8" y="1070.2" width="12.5" height="4.0" fill="#3fa34f" stroke="#2d7a3a" stroke-width="0.4"/>
</g>
<rect x="899.3" y="1069.7" width="3.5" height="5.0" fill="#e8e8e8" stroke="#888" stroke-width="0.4"/>
<rect x="906.3" y="1072.0" width="6.0" height="2.7" fill="#eeeeee" stroke="#666" stroke-width="0.4"/>
<path d="M909.8,1073.7 l2,0 l-1,1.5z" fill="#111"/>
<rect x="912.8" y="1072.0" width="20.8" height="2.7" fill="#2f5ec0"/>
<line x1="893.3" y1="1068.2" x2="901.3" y2="1068.2" stroke="#333" stroke-width="0.9" opacity="0.5" stroke-dasharray="2.2 0.7"/>
<rect x="939.2" y="1075.2" width="66.8" height="36.9" fill="#cdcdcd" stroke="#9a9a9a" stroke-width="0.4"/>
<rect x="944.8" y="1076.0" width="59.9" height="35.5" fill="#2b52ab"/>
<line x1="944.8" y1="1096.5" x2="1004.7" y2="1096.5" stroke="#8e86c8" stroke-width="0.7"/>
<line x1="950.8" y1="1076.0" x2="950.8" y2="1111.5" stroke="#7a3fa0" stroke-width="0.7"/>
<rect x="940.2" y="1070.9" width="3.5" height="3.0" fill="#a23a2a"/>
<g opacity="1">
<rect x="943.7" y="1069.7" width="2.5" height="5.0" fill="#c8c8c8" stroke="#888" stroke-width="0.4"/>
<rect x="946.7" y="1070.2" width="12.5" height="4.0" fill="#3fa34f" stroke="#2d7a3a" stroke-width="0.4"/>
</g>
<rect x="973.2" y="1069.7" width="3.5" height="5.0" fill="#e8e8e8" stroke="#888" stroke-width="0.4"/>
<rect x="980.2" y="1072.0" width="6.0" height="2.7" fill="#eeeeee" stroke="#666" stroke-width="0.4"/>
<path d="M983.7,1073.7 l2,0 l-1,1.5z" fill="#111"/>
<rect x="986.7" y="1072.0" width="18.0" height="2.7" fill="#2f5ec0"/>
<line x1="967.2" y1="1068.2" x2="975.2" y2="1068.2" stroke="#333" stroke-width="0.9" opacity="0.5" stroke-dasharray="2.2 0.7"/>
<rect x="79.5" y="1166.4" width="297.7" height="198.1" fill="#f6f6f6" stroke="#b9b9b9" stroke-width="1.4"/>
<line x1="80.5" y1="1168.0" x2="376.0" y2="1168.0" stroke="#4667b3" stroke-width="1"/>
<line x1="81.1" y1="1167.4" x2="81.1" y2="1363.5" stroke="#4667b3" stroke-width="1"/>
<text x="86.7" y="1180.9" font-size="14.7" fill="#3f7bcf" text-anchor="start" font-weight="bold" font-style="italic" textLength="43.4" lengthAdjust="spacingAndGlyphs" stroke="#3f7bcf" stroke-width="1.02" stroke-linejoin="round" font-family="Liberation Sans">Chroma</text>
<line x1="102.2" y1="1171.8" x2="129.5" y2="1171.8" stroke="#222" stroke-width="1.24" opacity="0.75" stroke-dasharray="1.5 0.4"/>
<text x="151.0" y="1180.5" font-size="10.5" fill="#8d8d8d" text-anchor="start" font-weight="bold" font-style="normal" textLength="60.3" lengthAdjust="spacingAndGlyphs">IEC61000-4-11</text>
<line x1="245.3" y1="1181.9" x2="284.3" y2="1181.9" stroke="#111" stroke-width="1.2" opacity="0.7" stroke-dasharray="2.2 0.7"/>
<rect x="306.0" y="1182.0" width="17.3" height="5.7" fill="#f0f0f0" stroke="#7a7a7a" stroke-width="0.5"/>
<rect x="327.5" y="1182.0" width="17.5" height="5.7" fill="#f0f0f0" stroke="#7a7a7a" stroke-width="0.5"/>
<ellipse cx="356.2" cy="1176.5" rx="10.5" ry="5.6" fill="#7ac888" stroke="#5a8a5a" stroke-width="0.5"/>
<text x="356.2" y="1178.5" font-size="5.3" fill="#fff" text-anchor="middle" font-weight="bold" font-style="normal">Back</text>
<rect x="85.0" y="1190.5" width="288.5" height="103.0" fill="#d8d8d8" stroke="#b0b0b0" stroke-width="0.5"/>
<line x1="372" y1="1190.5" x2="372" y2="1293.5" stroke="#9a9a9a" stroke-width="2"/>
<line x1="105.0" y1="1194.5" x2="145.0" y2="1194.5" stroke="#111" stroke-width="1.1" opacity="0.7" stroke-dasharray="2.2 0.7"/>
<line x1="247.0" y1="1193.5" x2="273.0" y2="1193.5" stroke="#111" stroke-width="1.1" opacity="0.7" stroke-dasharray="2.2 0.7"/>
<line x1="285.0" y1="1193.5" x2="298.0" y2="1193.5" stroke="#111" stroke-width="1.1" opacity="0.7" stroke-dasharray="2.2 0.7"/>
<line x1="189" y1="1196.5" x2="354" y2="1196.5" stroke="#555" stroke-width="0.5"/>
<line x1="95.0" y1="1199.0" x2="104.0" y2="1199.0" stroke="#222" stroke-width="1" opacity="0.6" stroke-dasharray="2.2 0.7"/>
<line x1="95.0" y1="1204.3" x2="104.0" y2="1204.3" stroke="#222" stroke-width="1" opacity="0.6" stroke-dasharray="2.2 0.7"/>
<line x1="95.0" y1="1209.6" x2="104.0" y2="1209.6" stroke="#222" stroke-width="1" opacity="0.6" stroke-dasharray="2.2 0.7"/>
<line x1="95.0" y1="1214.9" x2="104.0" y2="1214.9" stroke="#222" stroke-width="1" opacity="0.6" stroke-dasharray="2.2 0.7"/>
<line x1="95.0" y1="1220.2" x2="104.0" y2="1220.2" stroke="#222" stroke-width="1" opacity="0.6" stroke-dasharray="2.2 0.7"/>
<line x1="95.0" y1="1225.5" x2="104.0" y2="1225.5" stroke="#222" stroke-width="1" opacity="0.6" stroke-dasharray="2.2 0.7"/>
<line x1="95.0" y1="1230.8" x2="104.0" y2="1230.8" stroke="#222" stroke-width="1" opacity="0.6" stroke-dasharray="2.2 0.7"/>
<line x1="95.0" y1="1236.1" x2="104.0" y2="1236.1" stroke="#222" stroke-width="1" opacity="0.6" stroke-dasharray="2.2 0.7"/>
<line x1="95.0" y1="1241.4" x2="104.0" y2="1241.4" stroke="#222" stroke-width="1" opacity="0.6" stroke-dasharray="2.2 0.7"/>
<line x1="95.0" y1="1246.7" x2="104.0" y2="1246.7" stroke="#222" stroke-width="1" opacity="0.6" stroke-dasharray="2.2 0.7"/>
<line x1="95.0" y1="1252.0" x2="104.0" y2="1252.0" stroke="#222" stroke-width="1" opacity="0.6" stroke-dasharray="2.2 0.7"/>
<line x1="95.0" y1="1257.3" x2="104.0" y2="1257.3" stroke="#222" stroke-width="1" opacity="0.6" stroke-dasharray="2.2 0.7"/>
<line x1="95.0" y1="1262.6" x2="104.0" y2="1262.6" stroke="#222" stroke-width="1" opacity="0.6" stroke-dasharray="2.2 0.7"/>
<line x1="95.0" y1="1267.9" x2="104.0" y2="1267.9" stroke="#222" stroke-width="1" opacity="0.6" stroke-dasharray="2.2 0.7"/>
<line x1="95.0" y1="1273.2" x2="104.0" y2="1273.2" stroke="#222" stroke-width="1" opacity="0.6" stroke-dasharray="2.2 0.7"/>
<line x1="95.0" y1="1278.5" x2="104.0" y2="1278.5" stroke="#222" stroke-width="1" opacity="0.6" stroke-dasharray="2.2 0.7"/>
<line x1="95.0" y1="1283.8" x2="104.0" y2="1283.8" stroke="#222" stroke-width="1" opacity="0.6" stroke-dasharray="2.2 0.7"/>
<line x1="93.0" y1="1245.0" x2="93.0" y2="1245.0" stroke="#222" stroke-width="8" opacity="0.6" stroke-dasharray="2.2 0.7"/>
<rect x="105.9" y="1198.8" width="248.1" height="88.5" fill="#ffffff"/>
<rect x="105.9" y="1198.8" width="248.1" height="6.5" fill="#2b52ab"/>
<rect x="105.9" y="1205.3" width="248.1" height="6.1" fill="#a6d9a0"/>
<line x1="105.9" y1="1205.3" x2="105.9" y2="1211.4" stroke="#eaf6e6" stroke-width="0.5"/>
<line x1="108.4" y1="1205.3" x2="108.4" y2="1211.4" stroke="#eaf6e6" stroke-width="0.5"/>
<line x1="110.9" y1="1205.3" x2="110.9" y2="1211.4" stroke="#eaf6e6" stroke-width="0.5"/>
<line x1="113.4" y1="1205.3" x2="113.4" y2="1211.4" stroke="#eaf6e6" stroke-width="0.5"/>
<line x1="115.9" y1="1205.3" x2="115.9" y2="1211.4" stroke="#eaf6e6" stroke-width="0.5"/>
<line x1="118.4" y1="1205.3" x2="118.4" y2="1211.4" stroke="#eaf6e6" stroke-width="0.5"/>
<line x1="120.9" y1="1205.3" x2="120.9" y2="1211.4" stroke="#eaf6e6" stroke-width="0.5"/>
<line x1="123.4" y1="1205.3" x2="123.4" y2="1211.4" stroke="#eaf6e6" stroke-width="0.5"/>
<line x1="125.9" y1="1205.3" x2="125.9" y2="1211.4" stroke="#eaf6e6" stroke-width="0.5"/>
<line x1="128.4" y1="1205.3" x2="128.4" y2="1211.4" stroke="#eaf6e6" stroke-width="0.5"/>
<line x1="130.9" y1="1205.3" x2="130.9" y2="1211.4" stroke="#eaf6e6" stroke-width="0.5"/>
<line x1="133.4" y1="1205.3" x2="133.4" y2="1211.4" stroke="#eaf6e6" stroke-width="0.5"/>
<line x1="135.9" y1="1205.3" x2="135.9" y2="1211.4" stroke="#eaf6e6" stroke-width="0.5"/>
<line x1="138.4" y1="1205.3" x2="138.4" y2="1211.4" stroke="#eaf6e6" stroke-width="0.5"/>
<line x1="140.9" y1="1205.3" x2="140.9" y2="1211.4" stroke="#eaf6e6" stroke-width="0.5"/>
<line x1="143.4" y1="1205.3" x2="143.4" y2="1211.4" stroke="#eaf6e6" stroke-width="0.5"/>
<line x1="145.9" y1="1205.3" x2="145.9" y2="1211.4" stroke="#eaf6e6" stroke-width="0.5"/>
<line x1="148.4" y1="1205.3" x2="148.4" y2="1211.4" stroke="#eaf6e6" stroke-width="0.5"/>
<line x1="150.9" y1="1205.3" x2="150.9" y2="1211.4" stroke="#eaf6e6" stroke-width="0.5"/>
<line x1="153.4" y1="1205.3" x2="153.4" y2="1211.4" stroke="#eaf6e6" stroke-width="0.5"/>
<line x1="155.9" y1="1205.3" x2="155.9" y2="1211.4" stroke="#eaf6e6" stroke-width="0.5"/>
<line x1="158.4" y1="1205.3" x2="158.4" y2="1211.4" stroke="#eaf6e6" stroke-width="0.5"/>
<line x1="160.9" y1="1205.3" x2="160.9" y2="1211.4" stroke="#eaf6e6" stroke-width="0.5"/>
<line x1="163.4" y1="1205.3" x2="163.4" y2="1211.4" stroke="#eaf6e6" stroke-width="0.5"/>
<line x1="165.9" y1="1205.3" x2="165.9" y2="1211.4" stroke="#eaf6e6" stroke-width="0.5"/>
<line x1="168.4" y1="1205.3" x2="168.4" y2="1211.4" stroke="#eaf6e6" stroke-width="0.5"/>
<line x1="170.9" y1="1205.3" x2="170.9" y2="1211.4" stroke="#eaf6e6" stroke-width="0.5"/>
<line x1="173.4" y1="1205.3" x2="173.4" y2="1211.4" stroke="#eaf6e6" stroke-width="0.5"/>
<line x1="175.9" y1="1205.3" x2="175.9" y2="1211.4" stroke="#eaf6e6" stroke-width="0.5"/>
<line x1="178.4" y1="1205.3" x2="178.4" y2="1211.4" stroke="#eaf6e6" stroke-width="0.5"/>
<line x1="180.9" y1="1205.3" x2="180.9" y2="1211.4" stroke="#eaf6e6" stroke-width="0.5"/>
<line x1="183.4" y1="1205.3" x2="183.4" y2="1211.4" stroke="#eaf6e6" stroke-width="0.5"/>
<line x1="185.9" y1="1205.3" x2="185.9" y2="1211.4" stroke="#eaf6e6" stroke-width="0.5"/>
<line x1="188.4" y1="1205.3" x2="188.4" y2="1211.4" stroke="#eaf6e6" stroke-width="0.5"/>
<line x1="190.9" y1="1205.3" x2="190.9" y2="1211.4" stroke="#eaf6e6" stroke-width="0.5"/>
<line x1="193.4" y1="1205.3" x2="193.4" y2="1211.4" stroke="#eaf6e6" stroke-width="0.5"/>
<line x1="195.9" y1="1205.3" x2="195.9" y2="1211.4" stroke="#eaf6e6" stroke-width="0.5"/>
<line x1="198.4" y1="1205.3" x2="198.4" y2="1211.4" stroke="#eaf6e6" stroke-width="0.5"/>
<line x1="200.9" y1="1205.3" x2="200.9" y2="1211.4" stroke="#eaf6e6" stroke-width="0.5"/>
<line x1="203.4" y1="1205.3" x2="203.4" y2="1211.4" stroke="#eaf6e6" stroke-width="0.5"/>
<line x1="205.9" y1="1205.3" x2="205.9" y2="1211.4" stroke="#eaf6e6" stroke-width="0.5"/>
<line x1="208.4" y1="1205.3" x2="208.4" y2="1211.4" stroke="#eaf6e6" stroke-width="0.5"/>
<line x1="210.9" y1="1205.3" x2="210.9" y2="1211.4" stroke="#eaf6e6" stroke-width="0.5"/>
<line x1="213.4" y1="1205.3" x2="213.4" y2="1211.4" stroke="#eaf6e6" stroke-width="0.5"/>
<line x1="215.9" y1="1205.3" x2="215.9" y2="1211.4" stroke="#eaf6e6" stroke-width="0.5"/>
<line x1="218.4" y1="1205.3" x2="218.4" y2="1211.4" stroke="#eaf6e6" stroke-width="0.5"/>
<line x1="220.9" y1="1205.3" x2="220.9" y2="1211.4" stroke="#eaf6e6" stroke-width="0.5"/>
<line x1="223.4" y1="1205.3" x2="223.4" y2="1211.4" stroke="#eaf6e6" stroke-width="0.5"/>
<line x1="225.9" y1="1205.3" x2="225.9" y2="1211.4" stroke="#eaf6e6" stroke-width="0.5"/>
<line x1="228.4" y1="1205.3" x2="228.4" y2="1211.4" stroke="#eaf6e6" stroke-width="0.5"/>
<line x1="230.9" y1="1205.3" x2="230.9" y2="1211.4" stroke="#eaf6e6" stroke-width="0.5"/>
<line x1="233.4" y1="1205.3" x2="233.4" y2="1211.4" stroke="#eaf6e6" stroke-width="0.5"/>
<line x1="235.9" y1="1205.3" x2="235.9" y2="1211.4" stroke="#eaf6e6" stroke-width="0.5"/>
<line x1="238.4" y1="1205.3" x2="238.4" y2="1211.4" stroke="#eaf6e6" stroke-width="0.5"/>
<line x1="240.9" y1="1205.3" x2="240.9" y2="1211.4" stroke="#eaf6e6" stroke-width="0.5"/>
<line x1="243.4" y1="1205.3" x2="243.4" y2="1211.4" stroke="#eaf6e6" stroke-width="0.5"/>
<line x1="245.9" y1="1205.3" x2="245.9" y2="1211.4" stroke="#eaf6e6" stroke-width="0.5"/>
<line x1="248.4" y1="1205.3" x2="248.4" y2="1211.4" stroke="#eaf6e6" stroke-width="0.5"/>
<line x1="250.9" y1="1205.3" x2="250.9" y2="1211.4" stroke="#eaf6e6" stroke-width="0.5"/>
<line x1="253.4" y1="1205.3" x2="253.4" y2="1211.4" stroke="#eaf6e6" stroke-width="0.5"/>
<line x1="255.9" y1="1205.3" x2="255.9" y2="1211.4" stroke="#eaf6e6" stroke-width="0.5"/>
<line x1="258.4" y1="1205.3" x2="258.4" y2="1211.4" stroke="#eaf6e6" stroke-width="0.5"/>
<line x1="260.9" y1="1205.3" x2="260.9" y2="1211.4" stroke="#eaf6e6" stroke-width="0.5"/>
<line x1="263.4" y1="1205.3" x2="263.4" y2="1211.4" stroke="#eaf6e6" stroke-width="0.5"/>
<line x1="265.9" y1="1205.3" x2="265.9" y2="1211.4" stroke="#eaf6e6" stroke-width="0.5"/>
<line x1="268.4" y1="1205.3" x2="268.4" y2="1211.4" stroke="#eaf6e6" stroke-width="0.5"/>
<line x1="270.9" y1="1205.3" x2="270.9" y2="1211.4" stroke="#eaf6e6" stroke-width="0.5"/>
<line x1="273.4" y1="1205.3" x2="273.4" y2="1211.4" stroke="#eaf6e6" stroke-width="0.5"/>
<line x1="275.9" y1="1205.3" x2="275.9" y2="1211.4" stroke="#eaf6e6" stroke-width="0.5"/>
<line x1="278.4" y1="1205.3" x2="278.4" y2="1211.4" stroke="#eaf6e6" stroke-width="0.5"/>
<line x1="280.9" y1="1205.3" x2="280.9" y2="1211.4" stroke="#eaf6e6" stroke-width="0.5"/>
<line x1="283.4" y1="1205.3" x2="283.4" y2="1211.4" stroke="#eaf6e6" stroke-width="0.5"/>
<line x1="285.9" y1="1205.3" x2="285.9" y2="1211.4" stroke="#eaf6e6" stroke-width="0.5"/>
<line x1="288.4" y1="1205.3" x2="288.4" y2="1211.4" stroke="#eaf6e6" stroke-width="0.5"/>
<line x1="290.9" y1="1205.3" x2="290.9" y2="1211.4" stroke="#eaf6e6" stroke-width="0.5"/>
<line x1="293.4" y1="1205.3" x2="293.4" y2="1211.4" stroke="#eaf6e6" stroke-width="0.5"/>
<line x1="295.9" y1="1205.3" x2="295.9" y2="1211.4" stroke="#eaf6e6" stroke-width="0.5"/>
<line x1="298.4" y1="1205.3" x2="298.4" y2="1211.4" stroke="#eaf6e6" stroke-width="0.5"/>
<line x1="300.9" y1="1205.3" x2="300.9" y2="1211.4" stroke="#eaf6e6" stroke-width="0.5"/>
<line x1="303.4" y1="1205.3" x2="303.4" y2="1211.4" stroke="#eaf6e6" stroke-width="0.5"/>
<line x1="305.9" y1="1205.3" x2="305.9" y2="1211.4" stroke="#eaf6e6" stroke-width="0.5"/>
<line x1="308.4" y1="1205.3" x2="308.4" y2="1211.4" stroke="#eaf6e6" stroke-width="0.5"/>
<line x1="310.9" y1="1205.3" x2="310.9" y2="1211.4" stroke="#eaf6e6" stroke-width="0.5"/>
<line x1="313.4" y1="1205.3" x2="313.4" y2="1211.4" stroke="#eaf6e6" stroke-width="0.5"/>
<line x1="315.9" y1="1205.3" x2="315.9" y2="1211.4" stroke="#eaf6e6" stroke-width="0.5"/>
<line x1="318.4" y1="1205.3" x2="318.4" y2="1211.4" stroke="#eaf6e6" stroke-width="0.5"/>
<line x1="320.9" y1="1205.3" x2="320.9" y2="1211.4" stroke="#eaf6e6" stroke-width="0.5"/>
<line x1="323.4" y1="1205.3" x2="323.4" y2="1211.4" stroke="#eaf6e6" stroke-width="0.5"/>
<line x1="325.9" y1="1205.3" x2="325.9" y2="1211.4" stroke="#eaf6e6" stroke-width="0.5"/>
<line x1="328.4" y1="1205.3" x2="328.4" y2="1211.4" stroke="#eaf6e6" stroke-width="0.5"/>
<line x1="330.9" y1="1205.3" x2="330.9" y2="1211.4" stroke="#eaf6e6" stroke-width="0.5"/>
<line x1="333.4" y1="1205.3" x2="333.4" y2="1211.4" stroke="#eaf6e6" stroke-width="0.5"/>
<line x1="335.9" y1="1205.3" x2="335.9" y2="1211.4" stroke="#eaf6e6" stroke-width="0.5"/>
<line x1="338.4" y1="1205.3" x2="338.4" y2="1211.4" stroke="#eaf6e6" stroke-width="0.5"/>
<line x1="340.9" y1="1205.3" x2="340.9" y2="1211.4" stroke="#eaf6e6" stroke-width="0.5"/>
<line x1="343.4" y1="1205.3" x2="343.4" y2="1211.4" stroke="#eaf6e6" stroke-width="0.5"/>
<line x1="345.9" y1="1205.3" x2="345.9" y2="1211.4" stroke="#eaf6e6" stroke-width="0.5"/>
<line x1="348.4" y1="1205.3" x2="348.4" y2="1211.4" stroke="#eaf6e6" stroke-width="0.5"/>
<line x1="350.9" y1="1205.3" x2="350.9" y2="1211.4" stroke="#eaf6e6" stroke-width="0.5"/>
<rect x="105.9" y="1211.4" width="248.1" height="2.4" fill="#e9b8b8"/>
<line x1="121.2" y1="1213.6" x2="121.2" y2="1225.3" stroke="#d07a80" stroke-width="0.6"/>
<line x1="123.2" y1="1213.6" x2="123.2" y2="1225.3" stroke="#d07a80" stroke-width="0.6"/>
<line x1="125.2" y1="1213.6" x2="125.2" y2="1225.3" stroke="#d07a80" stroke-width="0.6"/>
<line x1="127.2" y1="1213.6" x2="127.2" y2="1225.3" stroke="#d07a80" stroke-width="0.6"/>
<line x1="129.2" y1="1213.6" x2="129.2" y2="1225.3" stroke="#d07a80" stroke-width="0.6"/>
<line x1="131.2" y1="1213.6" x2="131.2" y2="1225.3" stroke="#d07a80" stroke-width="0.6"/>
<line x1="133.2" y1="1213.6" x2="133.2" y2="1225.3" stroke="#d07a80" stroke-width="0.6"/>
<line x1="135.2" y1="1213.6" x2="135.2" y2="1225.3" stroke="#d07a80" stroke-width="0.6"/>
<line x1="137.2" y1="1213.6" x2="137.2" y2="1225.3" stroke="#d07a80" stroke-width="0.6"/>
<line x1="139.2" y1="1213.6" x2="139.2" y2="1225.3" stroke="#d07a80" stroke-width="0.6"/>
<line x1="141.2" y1="1213.6" x2="141.2" y2="1225.3" stroke="#d07a80" stroke-width="0.6"/>
<line x1="143.2" y1="1213.6" x2="143.2" y2="1225.3" stroke="#d07a80" stroke-width="0.6"/>
<line x1="145.2" y1="1213.6" x2="145.2" y2="1225.3" stroke="#d07a80" stroke-width="0.6"/>
<line x1="147.2" y1="1213.6" x2="147.2" y2="1225.3" stroke="#d07a80" stroke-width="0.6"/>
<line x1="149.2" y1="1213.6" x2="149.2" y2="1225.3" stroke="#d07a80" stroke-width="0.6"/>
<line x1="171.4" y1="1213.6" x2="171.4" y2="1225.3" stroke="#d07a80" stroke-width="0.6"/>
<line x1="173.4" y1="1213.6" x2="173.4" y2="1225.3" stroke="#d07a80" stroke-width="0.6"/>
<line x1="175.4" y1="1213.6" x2="175.4" y2="1225.3" stroke="#d07a80" stroke-width="0.6"/>
<line x1="177.4" y1="1213.6" x2="177.4" y2="1225.3" stroke="#d07a80" stroke-width="0.6"/>
<line x1="179.4" y1="1213.6" x2="179.4" y2="1225.3" stroke="#d07a80" stroke-width="0.6"/>
<line x1="181.4" y1="1213.6" x2="181.4" y2="1225.3" stroke="#d07a80" stroke-width="0.6"/>
<line x1="183.4" y1="1213.6" x2="183.4" y2="1225.3" stroke="#d07a80" stroke-width="0.6"/>
<line x1="185.4" y1="1213.6" x2="185.4" y2="1225.3" stroke="#d07a80" stroke-width="0.6"/>
<line x1="187.4" y1="1213.6" x2="187.4" y2="1225.3" stroke="#d07a80" stroke-width="0.6"/>
<line x1="271.2" y1="1213.6" x2="271.2" y2="1225.3" stroke="#d07a80" stroke-width="0.6"/>
<line x1="273.2" y1="1213.6" x2="273.2" y2="1225.3" stroke="#d07a80" stroke-width="0.6"/>
<line x1="275.2" y1="1213.6" x2="275.2" y2="1225.3" stroke="#d07a80" stroke-width="0.6"/>
<line x1="277.2" y1="1213.6" x2="277.2" y2="1225.3" stroke="#d07a80" stroke-width="0.6"/>
<line x1="279.2" y1="1213.6" x2="279.2" y2="1225.3" stroke="#d07a80" stroke-width="0.6"/>
<line x1="281.2" y1="1213.6" x2="281.2" y2="1225.3" stroke="#d07a80" stroke-width="0.6"/>
<line x1="283.2" y1="1213.6" x2="283.2" y2="1225.3" stroke="#d07a80" stroke-width="0.6"/>
<line x1="285.2" y1="1213.6" x2="285.2" y2="1225.3" stroke="#d07a80" stroke-width="0.6"/>
<line x1="287.2" y1="1213.6" x2="287.2" y2="1225.3" stroke="#d07a80" stroke-width="0.6"/>
<line x1="289.2" y1="1213.6" x2="289.2" y2="1225.3" stroke="#d07a80" stroke-width="0.6"/>
<line x1="291.2" y1="1213.6" x2="291.2" y2="1225.3" stroke="#d07a80" stroke-width="0.6"/>
<line x1="293.2" y1="1213.6" x2="293.2" y2="1225.3" stroke="#d07a80" stroke-width="0.6"/>
<line x1="295.2" y1="1213.6" x2="295.2" y2="1225.3" stroke="#d07a80" stroke-width="0.6"/>
<line x1="297.2" y1="1213.6" x2="297.2" y2="1225.3" stroke="#d07a80" stroke-width="0.6"/>
<line x1="319.2" y1="1213.6" x2="319.2" y2="1225.3" stroke="#d07a80" stroke-width="0.6"/>
<line x1="321.2" y1="1213.6" x2="321.2" y2="1225.3" stroke="#d07a80" stroke-width="0.6"/>
<line x1="323.2" y1="1213.6" x2="323.2" y2="1225.3" stroke="#d07a80" stroke-width="0.6"/>
<line x1="325.2" y1="1213.6" x2="325.2" y2="1225.3" stroke="#d07a80" stroke-width="0.6"/>
<line x1="327.2" y1="1213.6" x2="327.2" y2="1225.3" stroke="#d07a80" stroke-width="0.6"/>
<line x1="329.2" y1="1213.6" x2="329.2" y2="1225.3" stroke="#d07a80" stroke-width="0.6"/>
<line x1="331.2" y1="1213.6" x2="331.2" y2="1225.3" stroke="#d07a80" stroke-width="0.6"/>
<line x1="333.2" y1="1213.6" x2="333.2" y2="1225.3" stroke="#d07a80" stroke-width="0.6"/>
<line x1="335.2" y1="1213.6" x2="335.2" y2="1225.3" stroke="#d07a80" stroke-width="0.6"/>
<line x1="337.2" y1="1213.6" x2="337.2" y2="1225.3" stroke="#d07a80" stroke-width="0.6"/>
<line x1="339.2" y1="1213.6" x2="339.2" y2="1225.3" stroke="#d07a80" stroke-width="0.6"/>
<line x1="341.2" y1="1213.6" x2="341.2" y2="1225.3" stroke="#d07a80" stroke-width="0.6"/>
<line x1="343.2" y1="1213.6" x2="343.2" y2="1225.3" stroke="#d07a80" stroke-width="0.6"/>
<line x1="345.2" y1="1213.6" x2="345.2" y2="1225.3" stroke="#d07a80" stroke-width="0.6"/>
<line x1="112.8" y1="1261.6" x2="112.8" y2="1274.0" stroke="#d07a80" stroke-width="0.6"/>
<line x1="114.8" y1="1261.6" x2="114.8" y2="1274.0" stroke="#d07a80" stroke-width="0.6"/>
<line x1="116.8" y1="1261.6" x2="116.8" y2="1274.0" stroke="#d07a80" stroke-width="0.6"/>
<line x1="118.8" y1="1261.6" x2="118.8" y2="1274.0" stroke="#d07a80" stroke-width="0.6"/>
<line x1="120.8" y1="1261.6" x2="120.8" y2="1274.0" stroke="#d07a80" stroke-width="0.6"/>
<line x1="122.8" y1="1261.6" x2="122.8" y2="1274.0" stroke="#d07a80" stroke-width="0.6"/>
<line x1="124.8" y1="1261.6" x2="124.8" y2="1274.0" stroke="#d07a80" stroke-width="0.6"/>
<line x1="126.8" y1="1261.6" x2="126.8" y2="1274.0" stroke="#d07a80" stroke-width="0.6"/>
<line x1="128.8" y1="1261.6" x2="128.8" y2="1274.0" stroke="#d07a80" stroke-width="0.6"/>
<line x1="130.8" y1="1261.6" x2="130.8" y2="1274.0" stroke="#d07a80" stroke-width="0.6"/>
<line x1="132.8" y1="1261.6" x2="132.8" y2="1274.0" stroke="#d07a80" stroke-width="0.6"/>
<line x1="134.8" y1="1261.6" x2="134.8" y2="1274.0" stroke="#d07a80" stroke-width="0.6"/>
<line x1="136.8" y1="1261.6" x2="136.8" y2="1274.0" stroke="#d07a80" stroke-width="0.6"/>
<line x1="138.8" y1="1261.6" x2="138.8" y2="1274.0" stroke="#d07a80" stroke-width="0.6"/>
<line x1="161.6" y1="1261.6" x2="161.6" y2="1274.0" stroke="#d07a80" stroke-width="0.6"/>
<line x1="163.6" y1="1261.6" x2="163.6" y2="1274.0" stroke="#d07a80" stroke-width="0.6"/>
<line x1="165.6" y1="1261.6" x2="165.6" y2="1274.0" stroke="#d07a80" stroke-width="0.6"/>
<line x1="167.6" y1="1261.6" x2="167.6" y2="1274.0" stroke="#d07a80" stroke-width="0.6"/>
<line x1="169.6" y1="1261.6" x2="169.6" y2="1274.0" stroke="#d07a80" stroke-width="0.6"/>
<line x1="171.6" y1="1261.6" x2="171.6" y2="1274.0" stroke="#d07a80" stroke-width="0.6"/>
<line x1="173.6" y1="1261.6" x2="173.6" y2="1274.0" stroke="#d07a80" stroke-width="0.6"/>
<line x1="175.6" y1="1261.6" x2="175.6" y2="1274.0" stroke="#d07a80" stroke-width="0.6"/>
<line x1="177.6" y1="1261.6" x2="177.6" y2="1274.0" stroke="#d07a80" stroke-width="0.6"/>
<line x1="179.6" y1="1261.6" x2="179.6" y2="1274.0" stroke="#d07a80" stroke-width="0.6"/>
<line x1="181.6" y1="1261.6" x2="181.6" y2="1274.0" stroke="#d07a80" stroke-width="0.6"/>
<line x1="183.6" y1="1261.6" x2="183.6" y2="1274.0" stroke="#d07a80" stroke-width="0.6"/>
<line x1="185.6" y1="1261.6" x2="185.6" y2="1274.0" stroke="#d07a80" stroke-width="0.6"/>
<line x1="187.6" y1="1261.6" x2="187.6" y2="1274.0" stroke="#d07a80" stroke-width="0.6"/>
<line x1="271.2" y1="1261.6" x2="271.2" y2="1274.0" stroke="#d07a80" stroke-width="0.6"/>
<line x1="273.2" y1="1261.6" x2="273.2" y2="1274.0" stroke="#d07a80" stroke-width="0.6"/>
<line x1="275.2" y1="1261.6" x2="275.2" y2="1274.0" stroke="#d07a80" stroke-width="0.6"/>
<line x1="277.2" y1="1261.6" x2="277.2" y2="1274.0" stroke="#d07a80" stroke-width="0.6"/>
<line x1="279.2" y1="1261.6" x2="279.2" y2="1274.0" stroke="#d07a80" stroke-width="0.6"/>
<line x1="281.2" y1="1261.6" x2="281.2" y2="1274.0" stroke="#d07a80" stroke-width="0.6"/>
<line x1="283.2" y1="1261.6" x2="283.2" y2="1274.0" stroke="#d07a80" stroke-width="0.6"/>
<line x1="285.2" y1="1261.6" x2="285.2" y2="1274.0" stroke="#d07a80" stroke-width="0.6"/>
<line x1="287.2" y1="1261.6" x2="287.2" y2="1274.0" stroke="#d07a80" stroke-width="0.6"/>
<line x1="309.4" y1="1261.6" x2="309.4" y2="1274.0" stroke="#d07a80" stroke-width="0.6"/>
<line x1="311.4" y1="1261.6" x2="311.4" y2="1274.0" stroke="#d07a80" stroke-width="0.6"/>
<line x1="313.4" y1="1261.6" x2="313.4" y2="1274.0" stroke="#d07a80" stroke-width="0.6"/>
<line x1="315.4" y1="1261.6" x2="315.4" y2="1274.0" stroke="#d07a80" stroke-width="0.6"/>
<line x1="317.4" y1="1261.6" x2="317.4" y2="1274.0" stroke="#d07a80" stroke-width="0.6"/>
<line x1="319.4" y1="1261.6" x2="319.4" y2="1274.0" stroke="#d07a80" stroke-width="0.6"/>
<line x1="321.4" y1="1261.6" x2="321.4" y2="1274.0" stroke="#d07a80" stroke-width="0.6"/>
<line x1="323.4" y1="1261.6" x2="323.4" y2="1274.0" stroke="#d07a80" stroke-width="0.6"/>
<line x1="325.4" y1="1261.6" x2="325.4" y2="1274.0" stroke="#d07a80" stroke-width="0.6"/>
<line x1="327.4" y1="1261.6" x2="327.4" y2="1274.0" stroke="#d07a80" stroke-width="0.6"/>
<line x1="329.4" y1="1261.6" x2="329.4" y2="1274.0" stroke="#d07a80" stroke-width="0.6"/>
<line x1="331.4" y1="1261.6" x2="331.4" y2="1274.0" stroke="#d07a80" stroke-width="0.6"/>
<line x1="333.4" y1="1261.6" x2="333.4" y2="1274.0" stroke="#d07a80" stroke-width="0.6"/>
<line x1="335.4" y1="1261.6" x2="335.4" y2="1274.0" stroke="#d07a80" stroke-width="0.6"/>
<rect x="105.9" y="1274.0" width="248.1" height="7.0" fill="#eec4c4"/>
<line x1="105.9" y1="1274.0" x2="105.9" y2="1281.0" stroke="#d07a80" stroke-width="0.6"/>
<line x1="107.9" y1="1274.0" x2="107.9" y2="1281.0" stroke="#d07a80" stroke-width="0.6"/>
<line x1="109.9" y1="1274.0" x2="109.9" y2="1281.0" stroke="#d07a80" stroke-width="0.6"/>
<line x1="111.9" y1="1274.0" x2="111.9" y2="1281.0" stroke="#d07a80" stroke-width="0.6"/>
<line x1="113.9" y1="1274.0" x2="113.9" y2="1281.0" stroke="#d07a80" stroke-width="0.6"/>
<line x1="115.9" y1="1274.0" x2="115.9" y2="1281.0" stroke="#d07a80" stroke-width="0.6"/>
<line x1="117.9" y1="1274.0" x2="117.9" y2="1281.0" stroke="#d07a80" stroke-width="0.6"/>
<line x1="119.9" y1="1274.0" x2="119.9" y2="1281.0" stroke="#d07a80" stroke-width="0.6"/>
<line x1="121.9" y1="1274.0" x2="121.9" y2="1281.0" stroke="#d07a80" stroke-width="0.6"/>
<line x1="123.9" y1="1274.0" x2="123.9" y2="1281.0" stroke="#d07a80" stroke-width="0.6"/>
<line x1="125.9" y1="1274.0" x2="125.9" y2="1281.0" stroke="#d07a80" stroke-width="0.6"/>
<line x1="127.9" y1="1274.0" x2="127.9" y2="1281.0" stroke="#d07a80" stroke-width="0.6"/>
<line x1="129.9" y1="1274.0" x2="129.9" y2="1281.0" stroke="#d07a80" stroke-width="0.6"/>
<line x1="131.9" y1="1274.0" x2="131.9" y2="1281.0" stroke="#d07a80" stroke-width="0.6"/>
<line x1="133.9" y1="1274.0" x2="133.9" y2="1281.0" stroke="#d07a80" stroke-width="0.6"/>
<line x1="135.9" y1="1274.0" x2="135.9" y2="1281.0" stroke="#d07a80" stroke-width="0.6"/>
<line x1="137.9" y1="1274.0" x2="137.9" y2="1281.0" stroke="#d07a80" stroke-width="0.6"/>
<line x1="139.9" y1="1274.0" x2="139.9" y2="1281.0" stroke="#d07a80" stroke-width="0.6"/>
<line x1="141.9" y1="1274.0" x2="141.9" y2="1281.0" stroke="#d07a80" stroke-width="0.6"/>
<line x1="143.9" y1="1274.0" x2="143.9" y2="1281.0" stroke="#d07a80" stroke-width="0.6"/>
<line x1="145.9" y1="1274.0" x2="145.9" y2="1281.0" stroke="#d07a80" stroke-width="0.6"/>
<line x1="147.9" y1="1274.0" x2="147.9" y2="1281.0" stroke="#d07a80" stroke-width="0.6"/>
<line x1="149.9" y1="1274.0" x2="149.9" y2="1281.0" stroke="#d07a80" stroke-width="0.6"/>
<line x1="151.9" y1="1274.0" x2="151.9" y2="1281.0" stroke="#d07a80" stroke-width="0.6"/>
<line x1="153.9" y1="1274.0" x2="153.9" y2="1281.0" stroke="#d07a80" stroke-width="0.6"/>
<line x1="155.9" y1="1274.0" x2="155.9" y2="1281.0" stroke="#d07a80" stroke-width="0.6"/>
<line x1="157.9" y1="1274.0" x2="157.9" y2="1281.0" stroke="#d07a80" stroke-width="0.6"/>
<line x1="159.9" y1="1274.0" x2="159.9" y2="1281.0" stroke="#d07a80" stroke-width="0.6"/>
<line x1="161.9" y1="1274.0" x2="161.9" y2="1281.0" stroke="#d07a80" stroke-width="0.6"/>
<line x1="163.9" y1="1274.0" x2="163.9" y2="1281.0" stroke="#d07a80" stroke-width="0.6"/>
<line x1="165.9" y1="1274.0" x2="165.9" y2="1281.0" stroke="#d07a80" stroke-width="0.6"/>
<line x1="167.9" y1="1274.0" x2="167.9" y2="1281.0" stroke="#d07a80" stroke-width="0.6"/>
<line x1="169.9" y1="1274.0" x2="169.9" y2="1281.0" stroke="#d07a80" stroke-width="0.6"/>
<line x1="171.9" y1="1274.0" x2="171.9" y2="1281.0" stroke="#d07a80" stroke-width="0.6"/>
<line x1="173.9" y1="1274.0" x2="173.9" y2="1281.0" stroke="#d07a80" stroke-width="0.6"/>
<line x1="175.9" y1="1274.0" x2="175.9" y2="1281.0" stroke="#d07a80" stroke-width="0.6"/>
<line x1="177.9" y1="1274.0" x2="177.9" y2="1281.0" stroke="#d07a80" stroke-width="0.6"/>
<line x1="179.9" y1="1274.0" x2="179.9" y2="1281.0" stroke="#d07a80" stroke-width="0.6"/>
<line x1="181.9" y1="1274.0" x2="181.9" y2="1281.0" stroke="#d07a80" stroke-width="0.6"/>
<line x1="183.9" y1="1274.0" x2="183.9" y2="1281.0" stroke="#d07a80" stroke-width="0.6"/>
<line x1="185.9" y1="1274.0" x2="185.9" y2="1281.0" stroke="#d07a80" stroke-width="0.6"/>
<line x1="187.9" y1="1274.0" x2="187.9" y2="1281.0" stroke="#d07a80" stroke-width="0.6"/>
<line x1="189.9" y1="1274.0" x2="189.9" y2="1281.0" stroke="#d07a80" stroke-width="0.6"/>
<line x1="191.9" y1="1274.0" x2="191.9" y2="1281.0" stroke="#d07a80" stroke-width="0.6"/>
<line x1="193.9" y1="1274.0" x2="193.9" y2="1281.0" stroke="#d07a80" stroke-width="0.6"/>
<line x1="195.9" y1="1274.0" x2="195.9" y2="1281.0" stroke="#d07a80" stroke-width="0.6"/>
<line x1="197.9" y1="1274.0" x2="197.9" y2="1281.0" stroke="#d07a80" stroke-width="0.6"/>
<line x1="199.9" y1="1274.0" x2="199.9" y2="1281.0" stroke="#d07a80" stroke-width="0.6"/>
<line x1="201.9" y1="1274.0" x2="201.9" y2="1281.0" stroke="#d07a80" stroke-width="0.6"/>
<line x1="203.9" y1="1274.0" x2="203.9" y2="1281.0" stroke="#d07a80" stroke-width="0.6"/>
<line x1="205.9" y1="1274.0" x2="205.9" y2="1281.0" stroke="#d07a80" stroke-width="0.6"/>
<line x1="207.9" y1="1274.0" x2="207.9" y2="1281.0" stroke="#d07a80" stroke-width="0.6"/>
<line x1="209.9" y1="1274.0" x2="209.9" y2="1281.0" stroke="#d07a80" stroke-width="0.6"/>
<line x1="211.9" y1="1274.0" x2="211.9" y2="1281.0" stroke="#d07a80" stroke-width="0.6"/>
<line x1="213.9" y1="1274.0" x2="213.9" y2="1281.0" stroke="#d07a80" stroke-width="0.6"/>
<line x1="215.9" y1="1274.0" x2="215.9" y2="1281.0" stroke="#d07a80" stroke-width="0.6"/>
<line x1="217.9" y1="1274.0" x2="217.9" y2="1281.0" stroke="#d07a80" stroke-width="0.6"/>
<line x1="219.9" y1="1274.0" x2="219.9" y2="1281.0" stroke="#d07a80" stroke-width="0.6"/>
<line x1="221.9" y1="1274.0" x2="221.9" y2="1281.0" stroke="#d07a80" stroke-width="0.6"/>
<line x1="223.9" y1="1274.0" x2="223.9" y2="1281.0" stroke="#d07a80" stroke-width="0.6"/>
<line x1="225.9" y1="1274.0" x2="225.9" y2="1281.0" stroke="#d07a80" stroke-width="0.6"/>
<line x1="227.9" y1="1274.0" x2="227.9" y2="1281.0" stroke="#d07a80" stroke-width="0.6"/>
<line x1="229.9" y1="1274.0" x2="229.9" y2="1281.0" stroke="#d07a80" stroke-width="0.6"/>
<line x1="231.9" y1="1274.0" x2="231.9" y2="1281.0" stroke="#d07a80" stroke-width="0.6"/>
<line x1="233.9" y1="1274.0" x2="233.9" y2="1281.0" stroke="#d07a80" stroke-width="0.6"/>
<line x1="235.9" y1="1274.0" x2="235.9" y2="1281.0" stroke="#d07a80" stroke-width="0.6"/>
<line x1="237.9" y1="1274.0" x2="237.9" y2="1281.0" stroke="#d07a80" stroke-width="0.6"/>
<line x1="239.9" y1="1274.0" x2="239.9" y2="1281.0" stroke="#d07a80" stroke-width="0.6"/>
<line x1="241.9" y1="1274.0" x2="241.9" y2="1281.0" stroke="#d07a80" stroke-width="0.6"/>
<line x1="243.9" y1="1274.0" x2="243.9" y2="1281.0" stroke="#d07a80" stroke-width="0.6"/>
<line x1="245.9" y1="1274.0" x2="245.9" y2="1281.0" stroke="#d07a80" stroke-width="0.6"/>
<line x1="247.9" y1="1274.0" x2="247.9" y2="1281.0" stroke="#d07a80" stroke-width="0.6"/>
<line x1="249.9" y1="1274.0" x2="249.9" y2="1281.0" stroke="#d07a80" stroke-width="0.6"/>
<line x1="251.9" y1="1274.0" x2="251.9" y2="1281.0" stroke="#d07a80" stroke-width="0.6"/>
<line x1="253.9" y1="1274.0" x2="253.9" y2="1281.0" stroke="#d07a80" stroke-width="0.6"/>
<line x1="255.9" y1="1274.0" x2="255.9" y2="1281.0" stroke="#d07a80" stroke-width="0.6"/>
<line x1="257.9" y1="1274.0" x2="257.9" y2="1281.0" stroke="#d07a80" stroke-width="0.6"/>
<line x1="259.9" y1="1274.0" x2="259.9" y2="1281.0" stroke="#d07a80" stroke-width="0.6"/>
<line x1="261.9" y1="1274.0" x2="261.9" y2="1281.0" stroke="#d07a80" stroke-width="0.6"/>
<line x1="263.9" y1="1274.0" x2="263.9" y2="1281.0" stroke="#d07a80" stroke-width="0.6"/>
<line x1="265.9" y1="1274.0" x2="265.9" y2="1281.0" stroke="#d07a80" stroke-width="0.6"/>
<line x1="267.9" y1="1274.0" x2="267.9" y2="1281.0" stroke="#d07a80" stroke-width="0.6"/>
<line x1="269.9" y1="1274.0" x2="269.9" y2="1281.0" stroke="#d07a80" stroke-width="0.6"/>
<line x1="271.9" y1="1274.0" x2="271.9" y2="1281.0" stroke="#d07a80" stroke-width="0.6"/>
<line x1="273.9" y1="1274.0" x2="273.9" y2="1281.0" stroke="#d07a80" stroke-width="0.6"/>
<line x1="275.9" y1="1274.0" x2="275.9" y2="1281.0" stroke="#d07a80" stroke-width="0.6"/>
<line x1="277.9" y1="1274.0" x2="277.9" y2="1281.0" stroke="#d07a80" stroke-width="0.6"/>
<line x1="279.9" y1="1274.0" x2="279.9" y2="1281.0" stroke="#d07a80" stroke-width="0.6"/>
<line x1="281.9" y1="1274.0" x2="281.9" y2="1281.0" stroke="#d07a80" stroke-width="0.6"/>
<line x1="283.9" y1="1274.0" x2="283.9" y2="1281.0" stroke="#d07a80" stroke-width="0.6"/>
<line x1="285.9" y1="1274.0" x2="285.9" y2="1281.0" stroke="#d07a80" stroke-width="0.6"/>
<line x1="287.9" y1="1274.0" x2="287.9" y2="1281.0" stroke="#d07a80" stroke-width="0.6"/>
<line x1="289.9" y1="1274.0" x2="289.9" y2="1281.0" stroke="#d07a80" stroke-width="0.6"/>
<line x1="291.9" y1="1274.0" x2="291.9" y2="1281.0" stroke="#d07a80" stroke-width="0.6"/>
<line x1="293.9" y1="1274.0" x2="293.9" y2="1281.0" stroke="#d07a80" stroke-width="0.6"/>
<line x1="295.9" y1="1274.0" x2="295.9" y2="1281.0" stroke="#d07a80" stroke-width="0.6"/>
<line x1="297.9" y1="1274.0" x2="297.9" y2="1281.0" stroke="#d07a80" stroke-width="0.6"/>
<line x1="299.9" y1="1274.0" x2="299.9" y2="1281.0" stroke="#d07a80" stroke-width="0.6"/>
<line x1="301.9" y1="1274.0" x2="301.9" y2="1281.0" stroke="#d07a80" stroke-width="0.6"/>
<line x1="303.9" y1="1274.0" x2="303.9" y2="1281.0" stroke="#d07a80" stroke-width="0.6"/>
<line x1="305.9" y1="1274.0" x2="305.9" y2="1281.0" stroke="#d07a80" stroke-width="0.6"/>
<line x1="307.9" y1="1274.0" x2="307.9" y2="1281.0" stroke="#d07a80" stroke-width="0.6"/>
<line x1="309.9" y1="1274.0" x2="309.9" y2="1281.0" stroke="#d07a80" stroke-width="0.6"/>
<line x1="311.9" y1="1274.0" x2="311.9" y2="1281.0" stroke="#d07a80" stroke-width="0.6"/>
<line x1="313.9" y1="1274.0" x2="313.9" y2="1281.0" stroke="#d07a80" stroke-width="0.6"/>
<line x1="315.9" y1="1274.0" x2="315.9" y2="1281.0" stroke="#d07a80" stroke-width="0.6"/>
<line x1="317.9" y1="1274.0" x2="317.9" y2="1281.0" stroke="#d07a80" stroke-width="0.6"/>
<line x1="319.9" y1="1274.0" x2="319.9" y2="1281.0" stroke="#d07a80" stroke-width="0.6"/>
<line x1="321.9" y1="1274.0" x2="321.9" y2="1281.0" stroke="#d07a80" stroke-width="0.6"/>
<line x1="323.9" y1="1274.0" x2="323.9" y2="1281.0" stroke="#d07a80" stroke-width="0.6"/>
<line x1="325.9" y1="1274.0" x2="325.9" y2="1281.0" stroke="#d07a80" stroke-width="0.6"/>
<line x1="327.9" y1="1274.0" x2="327.9" y2="1281.0" stroke="#d07a80" stroke-width="0.6"/>
<line x1="329.9" y1="1274.0" x2="329.9" y2="1281.0" stroke="#d07a80" stroke-width="0.6"/>
<line x1="331.9" y1="1274.0" x2="331.9" y2="1281.0" stroke="#d07a80" stroke-width="0.6"/>
<line x1="333.9" y1="1274.0" x2="333.9" y2="1281.0" stroke="#d07a80" stroke-width="0.6"/>
<line x1="335.9" y1="1274.0" x2="335.9" y2="1281.0" stroke="#d07a80" stroke-width="0.6"/>
<line x1="337.9" y1="1274.0" x2="337.9" y2="1281.0" stroke="#d07a80" stroke-width="0.6"/>
<line x1="339.9" y1="1274.0" x2="339.9" y2="1281.0" stroke="#d07a80" stroke-width="0.6"/>
<line x1="341.9" y1="1274.0" x2="341.9" y2="1281.0" stroke="#d07a80" stroke-width="0.6"/>
<line x1="343.9" y1="1274.0" x2="343.9" y2="1281.0" stroke="#d07a80" stroke-width="0.6"/>
<line x1="345.9" y1="1274.0" x2="345.9" y2="1281.0" stroke="#d07a80" stroke-width="0.6"/>
<line x1="347.9" y1="1274.0" x2="347.9" y2="1281.0" stroke="#d07a80" stroke-width="0.6"/>
<line x1="349.9" y1="1274.0" x2="349.9" y2="1281.0" stroke="#d07a80" stroke-width="0.6"/>
<line x1="351.9" y1="1274.0" x2="351.9" y2="1281.0" stroke="#d07a80" stroke-width="0.6"/>
<line x1="353.9" y1="1274.0" x2="353.9" y2="1281.0" stroke="#d07a80" stroke-width="0.6"/>
<line x1="105.9" y1="1281" x2="354" y2="1281" stroke="#c02a3a" stroke-width="1"/>
<rect x="105.9" y="1281.5" width="248.1" height="5.8" fill="#2b52ab"/>
<rect x="189.0" y="1198.8" width="82.2" height="88.5" fill="#2a55a8"/>
<polyline points="189.0,1261.7 189.3,1253.8 189.6,1245.4 189.9,1236.9 190.2,1228.7 190.5,1221.2 190.8,1214.8 191.1,1209.8 191.4,1206.5 191.7,1204.9 192.0,1205.2 192.3,1207.4 192.6,1211.3 192.9,1216.8 193.2,1223.6 193.5,1231.4 193.8,1239.7 194.1,1248.3 194.4,1256.5 194.7,1264.2 195.0,1270.8 195.3,1276.0 195.6,1279.7 195.9,1281.6 196.2,1281.6 196.5,1279.7 196.8,1276.0 197.1,1270.8 197.4,1264.2 197.7,1256.5 198.0,1248.3 198.3,1239.7 198.6,1231.4 198.9,1223.6 199.2,1216.8 199.5,1211.3 199.8,1207.4 200.1,1205.2 200.4,1204.9 200.7,1206.5 201.0,1209.8 201.3,1214.8 201.6,1221.2 201.9,1228.7 202.2,1236.9 202.5,1245.4 202.8,1253.8 203.1,1261.7 203.4,1268.7 203.7,1274.4 204.0,1278.7 204.3,1281.1 204.6,1281.8 204.9,1280.5 205.2,1277.4 205.5,1272.7 205.8,1266.5 206.1,1259.2 206.4,1251.1 206.7,1242.6 207.0,1234.1 207.3,1226.1 207.6,1219.0 207.9,1213.0 208.2,1208.5 208.5,1205.7 208.8,1204.8 209.1,1205.7 209.4,1208.5 209.7,1213.0 210.0,1219.0 210.3,1226.1 210.6,1234.1 210.9,1242.6 211.2,1251.1 211.5,1259.2 211.8,1266.5 212.1,1272.7 212.4,1277.4 212.7,1280.5 213.0,1281.8 213.3,1281.1 213.6,1278.7 213.9,1274.4 214.2,1268.7 214.5,1261.7 214.8,1253.8 215.1,1245.4 215.4,1236.9 215.7,1228.7 216.0,1221.2 216.3,1214.8 216.6,1209.8 216.9,1206.5 217.2,1204.9 217.5,1205.2 217.8,1207.4 218.1,1211.3 218.4,1216.8 218.7,1223.6 219.0,1231.4 219.3,1239.7 219.6,1248.3 219.9,1256.5 220.2,1264.2 220.5,1270.8 220.8,1276.0 221.1,1279.7 221.4,1281.6 221.7,1281.6 222.0,1279.7 222.3,1276.0 222.6,1270.8 222.9,1264.2 223.2,1256.5 223.5,1248.3 223.8,1239.7 224.1,1231.4 224.4,1223.6 224.7,1216.8 225.0,1211.3 225.3,1207.4 225.6,1205.2 225.9,1204.9 226.2,1206.5 226.5,1209.8 226.8,1214.8 227.1,1221.2 227.4,1228.7 227.7,1236.9 228.0,1245.4 228.3,1253.8 228.6,1261.7 228.9,1268.7 229.2,1274.4 229.5,1278.7 229.8,1281.1 230.1,1281.8 230.4,1280.5 230.7,1277.4 231.0,1272.7 231.3,1266.5 231.6,1259.2 231.9,1251.1 232.2,1242.6 232.5,1234.1 232.8,1226.1 233.1,1219.0 233.4,1213.0 233.7,1208.5 234.0,1205.7 234.3,1204.8 234.6,1205.7 234.9,1208.5 235.2,1213.0 235.5,1219.0 235.8,1226.1 236.1,1234.1 236.4,1242.6 236.7,1251.1 237.0,1259.2 237.3,1266.5 237.6,1272.7 237.9,1277.4 238.2,1280.5 238.5,1281.8 238.8,1281.1 239.1,1278.7 239.4,1274.4 239.7,1268.7 240.0,1261.7 240.3,1253.8 240.6,1245.4 240.9,1236.9 241.2,1228.7 241.5,1221.2 241.8,1214.8 242.1,1209.8 242.4,1206.5 242.7,1204.9 243.0,1205.2 243.3,1207.4 243.6,1211.3 243.9,1216.8 244.2,1223.6 244.5,1231.4 244.8,1239.7 245.1,1248.3 245.4,1256.5 245.7,1264.2 246.0,1270.8 246.3,1276.0 246.6,1279.7 246.9,1281.6 247.2,1281.6 247.5,1279.7 247.8,1276.0 248.1,1270.8 248.4,1264.2 248.7,1256.5 249.0,1248.3 249.3,1239.7 249.6,1231.4 249.9,1223.6 250.2,1216.8 250.5,1211.3 250.8,1207.4 251.1,1205.2 251.4,1204.9 251.7,1206.5 252.0,1209.8 252.3,1214.8 252.6,1221.2 252.9,1228.7 253.2,1236.9 253.5,1245.4 253.8,1253.8 254.1,1261.7 254.4,1268.7 254.7,1274.4 255.0,1278.7 255.3,1281.1 255.6,1281.8 255.9,1280.5 256.2,1277.4 256.5,1272.7 256.8,1266.5 257.1,1259.2 257.4,1251.1 257.7,1242.6 258.0,1234.1 258.3,1226.1 258.6,1219.0 258.9,1213.0 259.2,1208.5 259.5,1205.7 259.8,1204.8 260.1,1205.7 260.4,1208.5 260.7,1213.0 261.0,1219.0 261.3,1226.1 261.6,1234.1 261.9,1242.6 262.2,1251.1 262.5,1259.2 262.8,1266.5 263.1,1272.7 263.4,1277.4 263.7,1280.5 264.0,1281.8 264.3,1281.1 264.6,1278.7 264.9,1274.4 265.2,1268.7 265.5,1261.7 265.8,1253.8 266.1,1245.4 266.4,1236.9 266.7,1228.7 267.0,1221.2 267.3,1214.8 267.6,1209.8 267.9,1206.5 268.2,1204.9 268.5,1205.2 268.8,1207.4 269.1,1211.3 269.4,1216.8 269.7,1223.6 270.0,1231.4 270.3,1239.7 270.6,1248.3 270.9,1256.5 271.2,1264.2" fill="none" stroke="#3ab0b0" stroke-width="0.6" opacity="1"/>
<polyline points="189.0,1264.2 189.3,1270.8 189.6,1276.0 189.9,1279.7 190.2,1281.6 190.5,1281.6 190.8,1279.7 191.1,1276.0 191.4,1270.8 191.7,1264.2 192.0,1256.5 192.3,1248.3 192.6,1239.7 192.9,1231.4 193.2,1223.6 193.5,1216.8 193.8,1211.3 194.1,1207.4 194.4,1205.2 194.7,1204.9 195.0,1206.5 195.3,1209.8 195.6,1214.8 195.9,1221.2 196.2,1228.7 196.5,1236.9 196.8,1245.4 197.1,1253.8 197.4,1261.7 197.7,1268.7 198.0,1274.4 198.3,1278.7 198.6,1281.1 198.9,1281.8 199.2,1280.5 199.5,1277.4 199.8,1272.7 200.1,1266.5 200.4,1259.2 200.7,1251.1 201.0,1242.6 201.3,1234.1 201.6,1226.1 201.9,1219.0 202.2,1213.0 202.5,1208.5 202.8,1205.7 203.1,1204.8 203.4,1205.7 203.7,1208.5 204.0,1213.0 204.3,1219.0 204.6,1226.1 204.9,1234.1 205.2,1242.6 205.5,1251.1 205.8,1259.2 206.1,1266.5 206.4,1272.7 206.7,1277.4 207.0,1280.5 207.3,1281.8 207.6,1281.1 207.9,1278.7 208.2,1274.4 208.5,1268.7 208.8,1261.7 209.1,1253.8 209.4,1245.4 209.7,1236.9 210.0,1228.7 210.3,1221.2 210.6,1214.8 210.9,1209.8 211.2,1206.5 211.5,1204.9 211.8,1205.2 212.1,1207.4 212.4,1211.3 212.7,1216.8 213.0,1223.6 213.3,1231.4 213.6,1239.7 213.9,1248.3 214.2,1256.5 214.5,1264.2 214.8,1270.8 215.1,1276.0 215.4,1279.7 215.7,1281.6 216.0,1281.6 216.3,1279.7 216.6,1276.0 216.9,1270.8 217.2,1264.2 217.5,1256.5 217.8,1248.3 218.1,1239.7 218.4,1231.4 218.7,1223.6 219.0,1216.8 219.3,1211.3 219.6,1207.4 219.9,1205.2 220.2,1204.9 220.5,1206.5 220.8,1209.8 221.1,1214.8 221.4,1221.2 221.7,1228.7 222.0,1236.9 222.3,1245.4 222.6,1253.8 222.9,1261.7 223.2,1268.7 223.5,1274.4 223.8,1278.7 224.1,1281.1 224.4,1281.8 224.7,1280.5 225.0,1277.4 225.3,1272.7 225.6,1266.5 225.9,1259.2 226.2,1251.1 226.5,1242.6 226.8,1234.1 227.1,1226.1 227.4,1219.0 227.7,1213.0 228.0,1208.5 228.3,1205.7 228.6,1204.8 228.9,1205.7 229.2,1208.5 229.5,1213.0 229.8,1219.0 230.1,1226.1 230.4,1234.1 230.7,1242.6 231.0,1251.1 231.3,1259.2 231.6,1266.5 231.9,1272.7 232.2,1277.4 232.5,1280.5 232.8,1281.8 233.1,1281.1 233.4,1278.7 233.7,1274.4 234.0,1268.7 234.3,1261.7 234.6,1253.8 234.9,1245.4 235.2,1236.9 235.5,1228.7 235.8,1221.2 236.1,1214.8 236.4,1209.8 236.7,1206.5 237.0,1204.9 237.3,1205.2 237.6,1207.4 237.9,1211.3 238.2,1216.8 238.5,1223.6 238.8,1231.4 239.1,1239.7 239.4,1248.3 239.7,1256.5 240.0,1264.2 240.3,1270.8 240.6,1276.0 240.9,1279.7 241.2,1281.6 241.5,1281.6 241.8,1279.7 242.1,1276.0 242.4,1270.8 242.7,1264.2 243.0,1256.5 243.3,1248.3 243.6,1239.7 243.9,1231.4 244.2,1223.6 244.5,1216.8 244.8,1211.3 245.1,1207.4 245.4,1205.2 245.7,1204.9 246.0,1206.5 246.3,1209.8 246.6,1214.8 246.9,1221.2 247.2,1228.7 247.5,1236.9 247.8,1245.4 248.1,1253.8 248.4,1261.7 248.7,1268.7 249.0,1274.4 249.3,1278.7 249.6,1281.1 249.9,1281.8 250.2,1280.5 250.5,1277.4 250.8,1272.7 251.1,1266.5 251.4,1259.2 251.7,1251.1 252.0,1242.6 252.3,1234.1 252.6,1226.1 252.9,1219.0 253.2,1213.0 253.5,1208.5 253.8,1205.7 254.1,1204.8 254.4,1205.7 254.7,1208.5 255.0,1213.0 255.3,1219.0 255.6,1226.1 255.9,1234.1 256.2,1242.6 256.5,1251.1 256.8,1259.2 257.1,1266.5 257.4,1272.7 257.7,1277.4 258.0,1280.5 258.3,1281.8 258.6,1281.1 258.9,1278.7 259.2,1274.4 259.5,1268.7 259.8,1261.7 260.1,1253.8 260.4,1245.4 260.7,1236.9 261.0,1228.7 261.3,1221.2 261.6,1214.8 261.9,1209.8 262.2,1206.5 262.5,1204.9 262.8,1205.2 263.1,1207.4 263.4,1211.3 263.7,1216.8 264.0,1223.6 264.3,1231.4 264.6,1239.7 264.9,1248.3 265.2,1256.5 265.5,1264.2 265.8,1270.8 266.1,1276.0 266.4,1279.7 266.7,1281.6 267.0,1281.6 267.3,1279.7 267.6,1276.0 267.9,1270.8 268.2,1264.2 268.5,1256.5 268.8,1248.3 269.1,1239.7 269.4,1231.4 269.7,1223.6 270.0,1216.8 270.3,1211.3 270.6,1207.4 270.9,1205.2 271.2,1204.9" fill="none" stroke="#9a4ab0" stroke-width="0.6" opacity="1"/>
<polyline points="189.0,1228.8 189.4,1229.5 189.8,1231.3 190.2,1234.3 190.6,1238.1 191.0,1242.4 191.4,1246.8 191.8,1251.0 192.2,1254.5 192.6,1257.1 193.0,1258.5 193.4,1258.7 193.8,1257.6 194.2,1255.3 194.6,1251.9 195.0,1247.9 195.4,1243.5 195.8,1239.2 196.2,1235.2 196.6,1232.0 197.0,1229.8 197.4,1228.8 197.8,1229.2 198.2,1230.8 198.6,1233.5 199.0,1237.1 199.4,1241.3 199.8,1245.7 200.2,1250.0 200.6,1253.7 201.0,1256.6 201.4,1258.3 201.8,1258.8 202.2,1258.0 202.6,1255.9 203.0,1252.8 203.4,1249.0 203.8,1244.6 204.2,1240.2 204.6,1236.1 205.0,1232.7 205.4,1230.3 205.8,1229.0 206.2,1229.0 206.6,1230.3 207.0,1232.7 207.4,1236.1 207.8,1240.2 208.2,1244.6 208.6,1249.0 209.0,1252.8 209.4,1255.9 209.8,1258.0 210.2,1258.8 210.6,1258.3 211.0,1256.6 211.4,1253.7 211.8,1250.0 212.2,1245.7 212.6,1241.3 213.0,1237.1 213.4,1233.5 213.8,1230.8 214.2,1229.2 214.6,1228.8 215.0,1229.8 215.4,1232.0 215.8,1235.2 216.2,1239.2 216.6,1243.5 217.0,1247.9 217.4,1251.9 217.8,1255.3 218.2,1257.6 218.6,1258.7 219.0,1258.5 219.4,1257.1 219.8,1254.5 220.2,1251.0 220.6,1246.8 221.0,1242.4 221.4,1238.1 221.8,1234.3 222.2,1231.3 222.6,1229.5 223.0,1228.8 223.4,1229.5 223.8,1231.3 224.2,1234.3 224.6,1238.1 225.0,1242.4 225.4,1246.8 225.8,1251.0 226.2,1254.5 226.6,1257.1 227.0,1258.5 227.4,1258.7 227.8,1257.6 228.2,1255.3 228.6,1251.9 229.0,1247.9 229.4,1243.5 229.8,1239.2 230.2,1235.2 230.6,1232.0 231.0,1229.8 231.4,1228.8 231.8,1229.2 232.2,1230.8 232.6,1233.5 233.0,1237.1 233.4,1241.3 233.8,1245.7 234.2,1250.0 234.6,1253.7 235.0,1256.6 235.4,1258.3 235.8,1258.8 236.2,1258.0 236.6,1255.9 237.0,1252.8 237.4,1249.0 237.8,1244.6 238.2,1240.2 238.6,1236.1 239.0,1232.7 239.4,1230.3 239.8,1229.0 240.2,1229.0 240.6,1230.3 241.0,1232.7 241.4,1236.1 241.8,1240.2 242.2,1244.6 242.6,1249.0 243.0,1252.8 243.4,1255.9 243.8,1258.0 244.2,1258.8 244.6,1258.3 245.0,1256.6 245.4,1253.7 245.8,1250.0 246.2,1245.7 246.6,1241.3 247.0,1237.1 247.4,1233.5 247.8,1230.8 248.2,1229.2 248.6,1228.8 249.0,1229.8 249.4,1232.0 249.8,1235.2 250.2,1239.2 250.6,1243.5 251.0,1247.9 251.4,1251.9 251.8,1255.3 252.2,1257.6 252.6,1258.7 253.0,1258.5 253.4,1257.1 253.8,1254.5 254.2,1251.0 254.6,1246.8 255.0,1242.4 255.4,1238.1 255.8,1234.3 256.2,1231.3 256.6,1229.5 257.0,1228.8 257.4,1229.5 257.8,1231.3 258.2,1234.3 258.6,1238.1 259.0,1242.4 259.4,1246.8 259.8,1251.0 260.2,1254.5 260.6,1257.1 261.0,1258.5 261.4,1258.7 261.8,1257.6 262.2,1255.3 262.6,1251.9 263.0,1247.9 263.4,1243.5 263.8,1239.2 264.2,1235.2 264.6,1232.0 265.0,1229.8 265.4,1228.8 265.8,1229.2 266.2,1230.8 266.6,1233.5 267.0,1237.1 267.4,1241.3 267.8,1245.7 268.2,1250.0 268.6,1253.7 269.0,1256.6 269.4,1258.3 269.8,1258.8 270.2,1258.0 270.6,1255.9 271.0,1252.8" fill="none" stroke="#d8d0f0" stroke-width="0.9" opacity="1"/>
<line x1="286.5" y1="1198.8" x2="286.5" y2="1287.3" stroke="#d0202a" stroke-width="1.1"/>
<line x1="354" y1="1198.8" x2="354" y2="1287.3" stroke="#8a4ab0" stroke-width="0.8"/>
<rect x="362.4" y="1200.0" width="8.3" height="18.4" fill="#2b52ab" stroke="#777" stroke-width="0.4"/>
<line x1="356.0" y1="1202.0" x2="360.0" y2="1202.0" stroke="#222" stroke-width="1.1" opacity="0.7" stroke-dasharray="2.2 0.7"/>
<line x1="356.0" y1="1207.0" x2="360.0" y2="1207.0" stroke="#222" stroke-width="1.1" opacity="0.7" stroke-dasharray="2.2 0.7"/>
<line x1="356.0" y1="1212.0" x2="360.0" y2="1212.0" stroke="#222" stroke-width="1.1" opacity="0.7" stroke-dasharray="2.2 0.7"/>
<line x1="112.0" y1="1290.5" x2="121.0" y2="1290.5" stroke="#111" stroke-width="1.1" opacity="0.7" stroke-dasharray="2.2 0.7"/>
<rect x="122.0" y="1288.5" width="11.0" height="4.0" fill="#fafafa"/>
<line x1="136.0" y1="1290.5" x2="152.0" y2="1290.5" stroke="#111" stroke-width="1.1" opacity="0.7" stroke-dasharray="2.2 0.7"/>
<rect x="153.0" y="1288.5" width="12.0" height="4.0" fill="#fafafa"/>
<path d="M189,1290 l4,-2 v4z M271.2,1290 l-4,-2 v4z" fill="#111"/>
<line x1="225.0" y1="1291.0" x2="235.0" y2="1291.0" stroke="#111" stroke-width="1.1" opacity="0.7" stroke-dasharray="2.2 0.7"/>
<line x1="316.0" y1="1290.5" x2="330.0" y2="1290.5" stroke="#111" stroke-width="1.1" opacity="0.7" stroke-dasharray="2.2 0.7"/>
<line x1="345.0" y1="1291.0" x2="352.0" y2="1291.0" stroke="#111" stroke-width="1.1" opacity="0.7" stroke-dasharray="2.2 0.7"/>
<rect x="85.0" y="1293.5" width="288.5" height="65.5" fill="#e3e3e3" stroke="#c0c0c0" stroke-width="0.5"/>
<line x1="99.0" y1="1299.5" x2="128.0" y2="1299.5" stroke="#444" stroke-width="1.1" opacity="0.3" stroke-dasharray="2.2 0.7"/>
<line x1="152.0" y1="1299.5" x2="180.0" y2="1299.5" stroke="#444" stroke-width="1.1" opacity="0.3" stroke-dasharray="2.2 0.7"/>
<line x1="200.0" y1="1299.5" x2="229.0" y2="1299.5" stroke="#444" stroke-width="1.1" opacity="0.3" stroke-dasharray="2.2 0.7"/>
<rect x="87.8" y="1318.5" width="27.8" height="23.7" fill="#efefef"/>
<g opacity="0.65"><circle cx="100.3" cy="1331.0" r="10.2" fill="none" stroke="#333" stroke-width="1.3" stroke-dasharray="1.1 2.6" opacity="0.55"/><circle cx="100.3" cy="1331.0" r="7.0" fill="url(#knob)" stroke="#8a8a8a" stroke-width="0.5"/></g>
<rect x="125.4" y="1318.5" width="30.6" height="23.7" fill="#efefef"/>
<g opacity="0.65"><circle cx="139.9" cy="1331.0" r="10.2" fill="none" stroke="#333" stroke-width="1.3" stroke-dasharray="1.1 2.6" opacity="0.55"/><circle cx="139.9" cy="1331.0" r="7.0" fill="url(#knob)" stroke="#8a8a8a" stroke-width="0.5"/></g>
<rect x="161.6" y="1318.5" width="30.7" height="23.7" fill="#dadada"/>
<g opacity="0.65"><circle cx="177.0" cy="1331.0" r="10.2" fill="none" stroke="#333" stroke-width="1.3" stroke-dasharray="1.1 2.6" opacity="0.55"/><circle cx="177.0" cy="1331.0" r="7.0" fill="url(#knob)" stroke="#8a8a8a" stroke-width="0.5"/></g>
<line x1="94.0" y1="1313.0" x2="108.0" y2="1313.0" stroke="#555" stroke-width="1.1" opacity="0.35" stroke-dasharray="2.2 0.7"/>
<line x1="131.0" y1="1313.0" x2="150.0" y2="1313.0" stroke="#555" stroke-width="1.1" opacity="0.35" stroke-dasharray="2.2 0.7"/>
<line x1="165.0" y1="1309.0" x2="188.0" y2="1309.0" stroke="#333" stroke-width="1.1" opacity="0.55" stroke-dasharray="2.2 0.7"/>
<line x1="205.0" y1="1309.0" x2="231.0" y2="1309.0" stroke="#333" stroke-width="1.1" opacity="0.45" stroke-dasharray="2.2 0.7"/>
<line x1="248.0" y1="1309.0" x2="261.0" y2="1309.0" stroke="#333" stroke-width="1.1" opacity="0.45" stroke-dasharray="2.2 0.7"/>
<line x1="289.0" y1="1313.0" x2="310.0" y2="1313.0" stroke="#555" stroke-width="1.1" opacity="0.35" stroke-dasharray="2.2 0.7"/>
<g opacity="0.6">
<rect x="89.0" y="1349.0" width="2.5" height="5.0" fill="#c8c8c8" stroke="#888" stroke-width="0.4"/>
<rect x="92.0" y="1349.5" width="19.5" height="4.0" fill="#3fa34f" stroke="#2d7a3a" stroke-width="0.4"/>
</g>
<g opacity="0.6">
<rect x="128.0" y="1349.0" width="2.5" height="5.0" fill="#c8c8c8" stroke="#888" stroke-width="0.4"/>
<rect x="131.0" y="1349.5" width="20.0" height="4.0" fill="#3fa34f" stroke="#2d7a3a" stroke-width="0.4"/>
</g>
<g opacity="0.6">
<rect x="165.6" y="1349.0" width="2.5" height="5.0" fill="#c8c8c8" stroke="#888" stroke-width="0.4"/>
<rect x="168.6" y="1349.5" width="18.7" height="4.0" fill="#3fa34f" stroke="#2d7a3a" stroke-width="0.4"/>
</g>
<g opacity="0.6">
<rect x="201.8" y="1318.5" width="2.5" height="5.6" fill="#c8c8c8" stroke="#888" stroke-width="0.4"/>
<rect x="204.8" y="1319.0" width="26.5" height="4.6" fill="#3fa34f" stroke="#2d7a3a" stroke-width="0.4"/>
</g>
<g opacity="0.6">
<rect x="201.8" y="1348.5" width="2.5" height="5.4" fill="#c8c8c8" stroke="#888" stroke-width="0.4"/>
<rect x="204.8" y="1349.0" width="26.5" height="4.4" fill="#3fa34f" stroke="#2d7a3a" stroke-width="0.4"/>
</g>
<line x1="209.0" y1="1344.0" x2="226.0" y2="1344.0" stroke="#444" stroke-width="1.1" opacity="0.35" stroke-dasharray="2.2 0.7"/>
<rect x="242.5" y="1315.8" width="20.9" height="39.0" fill="#dcdcdc"/>
<line x1="262" y1="1318" x2="262" y2="1354" stroke="#b0b0b0" stroke-width="1.5"/>
<line x1="244.0" y1="1319.0" x2="257.0" y2="1319.0" stroke="#444" stroke-width="1" opacity="0.35" stroke-dasharray="2.2 0.7"/>
<line x1="244.0" y1="1327.5" x2="257.0" y2="1327.5" stroke="#444" stroke-width="1" opacity="0.35" stroke-dasharray="2.2 0.7"/>
<line x1="244.0" y1="1336.0" x2="257.0" y2="1336.0" stroke="#444" stroke-width="1" opacity="0.35" stroke-dasharray="2.2 0.7"/>
<line x1="244.0" y1="1344.5" x2="257.0" y2="1344.5" stroke="#444" stroke-width="1" opacity="0.35" stroke-dasharray="2.2 0.7"/>
<line x1="244.0" y1="1353.0" x2="257.0" y2="1353.0" stroke="#444" stroke-width="1" opacity="0.35" stroke-dasharray="2.2 0.7"/>
<g opacity="0.6">
<rect x="265.0" y="1335.5" width="2.5" height="5.0" fill="#c8c8c8" stroke="#888" stroke-width="0.4"/>
<rect x="268.0" y="1336.0" width="12.0" height="4.0" fill="#3fa34f" stroke="#2d7a3a" stroke-width="0.4"/>
</g>
<rect x="287.0" y="1318.5" width="22.4" height="36.3" fill="#f6f6f6" stroke="#d0d0d0" stroke-width="0.4"/>
<line x1="307" y1="1319" x2="307" y2="1354" stroke="#c8c8c8" stroke-width="1.5"/>
<g opacity="0.6">
<rect x="299.0" y="1350.5" width="2.5" height="3.5" fill="#c8c8c8" stroke="#888" stroke-width="0.4"/>
<rect x="302.0" y="1351.0" width="6.0" height="2.5" fill="#3fa34f" stroke="#2d7a3a" stroke-width="0.4"/>
</g>
<line x1="328.0" y1="1327.0" x2="336.0" y2="1327.0" stroke="#111" stroke-width="1.1" opacity="0.6" stroke-dasharray="2.2 0.7"/>
<circle cx="331.7" cy="1334" r="5" fill="#3fae3f" stroke="#2a6a2a" stroke-width="0.6"/>
<line x1="322.0" y1="1345.5" x2="343.0" y2="1345.5" stroke="#111" stroke-width="1.1" opacity="0.7" stroke-dasharray="2.2 0.7"/>
<rect x="320.5" y="1349.2" width="24.5" height="4.2" fill="#fafafa" stroke="#bbb" stroke-width="0.3"/>
<g opacity="0.7">
<rect x="324.0" y="1301.3" width="2.5" height="6.0" fill="#c8c8c8" stroke="#888" stroke-width="0.4"/>
<rect x="327.0" y="1301.8" width="12.0" height="5.0" fill="#3fa34f" stroke="#2d7a3a" stroke-width="0.4"/>
</g>
<line x1="327.0" y1="1296.5" x2="339.0" y2="1296.5" stroke="#555" stroke-width="1.1" opacity="0.35" stroke-dasharray="2.2 0.7"/>
<rect x="346.0" y="1296.0" width="24.0" height="4.0" fill="#f0f0f0" stroke="#ccc" stroke-width="0.3"/>
<rect x="346.0" y="1303.0" width="23.0" height="3.0" fill="#e8e8e8" stroke="#bbb" stroke-width="0.3"/>
<rect x="347.0" y="1302.0" width="3.0" height="5.0" fill="#7aaee0"/>
<rect x="356.2" y="1327.0" width="13.1" height="27.8" fill="#ececec" stroke="#d0d0d0" stroke-width="0.4"/>
<circle cx="363" cy="1341.4" r="6" fill="#9edb9a"/>
<rect x="358.0" y="1349.0" width="10.0" height="4.5" fill="#f8f8f8" stroke="#bcd" stroke-width="0.4"/>
<line x1="80.5" y1="1359.5" x2="376.5" y2="1359.5" stroke="#c8c8c8" stroke-width="1"/>
<rect x="396.5" y="1166.2" width="298.5" height="198.3" fill="#f5f5f5" stroke="#b9b9b9" stroke-width="1.4"/>
<line x1="397.5" y1="1167.8" x2="693.8" y2="1167.8" stroke="#4667b3" stroke-width="1"/>
<line x1="398.1" y1="1167.2" x2="398.1" y2="1363.5" stroke="#4667b3" stroke-width="1"/>
<text x="403.1" y="1178.9" font-size="12.1" fill="#3f7bcf" text-anchor="start" font-weight="bold" font-style="italic" textLength="43.2" lengthAdjust="spacingAndGlyphs" stroke="#3f7bcf" stroke-width="0.84" stroke-linejoin="round" font-family="Liberation Sans">Chroma</text>
<line x1="418.6" y1="1171.5" x2="445.7" y2="1171.5" stroke="#222" stroke-width="1.02" opacity="0.75" stroke-dasharray="1.5 0.4"/>
<text x="452.2" y="1178.6" font-size="11.5" fill="#9a9a9a" text-anchor="start" font-weight="normal" font-style="normal" textLength="45.4" lengthAdjust="spacingAndGlyphs">Synthesize</text>
<line x1="521.8" y1="1174.2" x2="551.0" y2="1174.2" stroke="#111" stroke-width="1.1" opacity="0.7" stroke-dasharray="2.2 0.7"/>
<rect x="552.5" y="1171.8" width="18.7" height="4.7" fill="#c0c0c0"/>
<line x1="577.6" y1="1174.2" x2="620.8" y2="1174.2" stroke="#111" stroke-width="1.1" opacity="0.7" stroke-dasharray="2.2 0.7"/>
<rect x="626.4" y="1171.0" width="18.1" height="7.0" fill="#f4f4f4" stroke="#7a7a7a" stroke-width="0.5"/>
<rect x="648.0" y="1171.0" width="16.9" height="7.0" fill="#f4f4f4" stroke="#7a7a7a" stroke-width="0.5"/>
<ellipse cx="678.7" cy="1175.2" rx="10.5" ry="5.6" fill="#2f9a3e" stroke="#5a8a5a" stroke-width="0.5"/>
<text x="678.7" y="1177.2" font-size="5.3" fill="#fff" text-anchor="middle" font-weight="bold" font-style="normal">Back</text>
<rect x="402.0" y="1183.0" width="218.3" height="69.7" fill="#d8d8d8" stroke="#a9a9a9" stroke-width="0.5"/>
<line x1="405.0" y1="1183.5" x2="432.0" y2="1183.5" stroke="#111" stroke-width="1.1" opacity="0.7" stroke-dasharray="2.2 0.7"/>
<circle cx="438" cy="1183.8" r="1.3" fill="#2a6a2a"/>
<line x1="514.0" y1="1184.0" x2="540.0" y2="1184.0" stroke="#555" stroke-width="1.1" opacity="0.3" stroke-dasharray="2.2 0.7"/>
<line x1="415.0" y1="1187.0" x2="424.0" y2="1187.0" stroke="#222" stroke-width="1" opacity="0.6" stroke-dasharray="2.2 0.7"/>
<line x1="415.0" y1="1192.5" x2="424.0" y2="1192.5" stroke="#222" stroke-width="1" opacity="0.6" stroke-dasharray="2.2 0.7"/>
<line x1="415.0" y1="1198.0" x2="424.0" y2="1198.0" stroke="#222" stroke-width="1" opacity="0.6" stroke-dasharray="2.2 0.7"/>
<line x1="415.0" y1="1203.5" x2="424.0" y2="1203.5" stroke="#222" stroke-width="1" opacity="0.6" stroke-dasharray="2.2 0.7"/>
<line x1="415.0" y1="1209.0" x2="424.0" y2="1209.0" stroke="#222" stroke-width="1" opacity="0.6" stroke-dasharray="2.2 0.7"/>
<line x1="415.0" y1="1214.5" x2="424.0" y2="1214.5" stroke="#222" stroke-width="1" opacity="0.6" stroke-dasharray="2.2 0.7"/>
<line x1="415.0" y1="1220.0" x2="424.0" y2="1220.0" stroke="#222" stroke-width="1" opacity="0.6" stroke-dasharray="2.2 0.7"/>
<line x1="415.0" y1="1225.5" x2="424.0" y2="1225.5" stroke="#222" stroke-width="1" opacity="0.6" stroke-dasharray="2.2 0.7"/>
<line x1="415.0" y1="1231.0" x2="424.0" y2="1231.0" stroke="#222" stroke-width="1" opacity="0.6" stroke-dasharray="2.2 0.7"/>
<line x1="415.0" y1="1236.5" x2="424.0" y2="1236.5" stroke="#222" stroke-width="1" opacity="0.6" stroke-dasharray="2.2 0.7"/>
<line x1="415.0" y1="1242.0" x2="424.0" y2="1242.0" stroke="#222" stroke-width="1" opacity="0.6" stroke-dasharray="2.2 0.7"/>
<line x1="415.0" y1="1247.5" x2="424.0" y2="1247.5" stroke="#222" stroke-width="1" opacity="0.6" stroke-dasharray="2.2 0.7"/>
<rect x="425.7" y="1186.3" width="164.4" height="64.7" fill="#2b52ab"/>
<rect x="425.7" y="1186.3" width="164.4" height="64.7" fill="url(#grid)"/>
<polyline points="425.7,1199.6 426.2,1199.7 426.7,1199.8 427.2,1200.0 427.7,1200.3 428.2,1200.6 428.7,1200.9 429.2,1201.2 429.7,1201.6 430.2,1201.9 430.7,1202.2 431.2,1202.5 431.7,1202.8 432.2,1203.0 432.7,1203.2 433.2,1203.3 433.7,1203.3 434.2,1203.3 434.7,1203.2 435.2,1203.0 435.7,1202.8 436.2,1202.5 436.7,1202.1 437.2,1201.7 437.7,1201.2 438.2,1200.7 438.7,1200.1 439.2,1199.5 439.7,1198.8 440.2,1198.1 440.7,1197.5 441.2,1196.8 441.7,1196.2 442.2,1195.5 442.7,1194.9 443.2,1194.4 443.7,1193.9 444.2,1193.5 444.7,1193.2 445.2,1193.0 445.7,1192.9 446.2,1192.9 446.7,1193.0 447.2,1193.2 447.7,1193.5 448.2,1194.0 448.7,1194.6 449.2,1195.3 449.7,1196.2 450.2,1197.2 450.7,1198.3 451.2,1199.5 451.7,1200.9 452.2,1202.3 452.7,1203.8 453.2,1205.4 453.7,1207.1 454.2,1208.8 454.7,1210.6 455.2,1212.4 455.7,1214.2 456.2,1216.0 456.7,1217.8 457.2,1219.6 457.7,1221.4 458.2,1223.1 458.7,1224.7 459.2,1226.3 459.7,1227.8 460.2,1229.2 460.7,1230.5 461.2,1231.7 461.7,1232.8 462.2,1233.8 462.7,1234.7 463.2,1235.4 463.7,1236.1 464.2,1236.6 464.7,1237.0 465.2,1237.3 465.7,1237.5 466.2,1237.6 466.7,1237.6 467.2,1237.5 467.7,1237.4 468.2,1237.2 468.7,1236.9 469.2,1236.6 469.7,1236.3 470.2,1236.0 470.7,1235.6 471.2,1235.3 471.7,1235.0 472.2,1234.7 472.7,1234.4 473.2,1234.2 473.7,1234.0 474.2,1233.9 474.7,1233.9 475.2,1233.9 475.7,1234.0 476.2,1234.2 476.7,1234.4 477.2,1234.7 477.7,1235.1 478.2,1235.5 478.7,1236.0 479.2,1236.5 479.7,1237.1 480.2,1237.7 480.7,1238.4 481.2,1239.1 481.7,1239.7 482.2,1240.4 482.7,1241.0 483.2,1241.7 483.7,1242.3 484.2,1242.8 484.7,1243.3 485.2,1243.7 485.7,1244.0 486.2,1244.2 486.7,1244.3 487.2,1244.3 487.7,1244.2 488.2,1244.0 488.7,1243.7 489.2,1243.2 489.7,1242.6 490.2,1241.9 490.7,1241.0 491.2,1240.0 491.7,1238.9 492.2,1237.7 492.7,1236.3 493.2,1234.9 493.7,1233.4 494.2,1231.8 494.7,1230.1 495.2,1228.4 495.7,1226.6 496.2,1224.8 496.7,1223.0 497.2,1221.2 497.7,1219.4 498.2,1217.6 498.7,1215.8 499.2,1214.1 499.7,1212.5 500.2,1210.9 500.7,1209.4 501.2,1208.0 501.7,1206.7 502.2,1205.5 502.7,1204.4 503.2,1203.4 503.7,1202.5 504.2,1201.8 504.7,1201.1 505.2,1200.6 505.7,1200.2 506.2,1199.9 506.7,1199.7 507.2,1199.6 507.7,1199.6 508.2,1199.7 508.7,1199.8 509.2,1200.0 509.7,1200.3 510.2,1200.6 510.7,1200.9 511.2,1201.2 511.7,1201.6 512.2,1201.9 512.7,1202.2 513.2,1202.5 513.7,1202.8 514.2,1203.0 514.7,1203.2 515.2,1203.3 515.7,1203.3 516.2,1203.3 516.7,1203.2 517.2,1203.0 517.7,1202.8 518.2,1202.5 518.7,1202.1 519.2,1201.7 519.7,1201.2 520.2,1200.7 520.7,1200.1 521.2,1199.5 521.7,1198.8 522.2,1198.1 522.7,1197.5 523.2,1196.8 523.7,1196.2 524.2,1195.5 524.7,1194.9 525.2,1194.4 525.7,1193.9 526.2,1193.5 526.7,1193.2 527.2,1193.0 527.7,1192.9 528.2,1192.9 528.7,1193.0 529.2,1193.2 529.7,1193.5 530.2,1194.0 530.7,1194.6 531.2,1195.3 531.7,1196.2 532.2,1197.2 532.7,1198.3 533.2,1199.5 533.7,1200.9 534.2,1202.3 534.7,1203.8 535.2,1205.4 535.7,1207.1 536.2,1208.8 536.7,1210.6 537.2,1212.4 537.7,1214.2 538.2,1216.0 538.7,1217.8 539.2,1219.6 539.7,1221.4 540.2,1223.1 540.7,1224.7 541.2,1226.3 541.7,1227.8 542.2,1229.2 542.7,1230.5 543.2,1231.7 543.7,1232.8 544.2,1233.8 544.7,1234.7 545.2,1235.4 545.7,1236.1 546.2,1236.6 546.7,1237.0 547.2,1237.3 547.7,1237.5 548.2,1237.6 548.7,1237.6 549.2,1237.5 549.7,1237.4 550.2,1237.2 550.7,1236.9 551.2,1236.6 551.7,1236.3 552.2,1236.0 552.7,1235.6 553.2,1235.3 553.7,1235.0 554.2,1234.7 554.7,1234.4 555.2,1234.2 555.7,1234.0 556.2,1233.9 556.7,1233.9 557.2,1233.9 557.7,1234.0 558.2,1234.2 558.7,1234.4 559.2,1234.7 559.7,1235.1 560.2,1235.5 560.7,1236.0 561.2,1236.5 561.7,1237.1 562.2,1237.7 562.7,1238.4 563.2,1239.1 563.7,1239.7 564.2,1240.4 564.7,1241.0 565.2,1241.7 565.7,1242.3 566.2,1242.8 566.7,1243.3 567.2,1243.7 567.7,1244.0 568.2,1244.2 568.7,1244.3 569.2,1244.3 569.7,1244.2 570.2,1244.0 570.7,1243.7 571.2,1243.2 571.7,1242.6 572.2,1241.9 572.7,1241.0 573.2,1240.0 573.7,1238.9 574.2,1237.7 574.7,1236.3 575.2,1234.9 575.7,1233.4 576.2,1231.8 576.7,1230.1 577.2,1228.4 577.7,1226.6 578.2,1224.8 578.7,1223.0 579.2,1221.2 579.7,1219.4 580.2,1217.6 580.7,1215.8 581.2,1214.1 581.7,1212.5 582.2,1210.9 582.7,1209.4 583.2,1208.0 583.7,1206.7 584.2,1205.5 584.7,1204.4 585.2,1203.4 585.7,1202.5 586.2,1201.8 586.7,1201.1 587.2,1200.6 587.7,1200.2 588.2,1199.9 588.7,1199.7 589.2,1199.6 589.7,1199.6" fill="none" stroke="#d6ccf2" stroke-width="1.0" opacity="1"/>
<polyline points="425.7,1233.2 426.2,1232.0 426.7,1230.8 427.2,1229.4 427.7,1228.0 428.2,1226.6 428.7,1225.1 429.2,1223.6 429.7,1222.1 430.2,1220.6 430.7,1219.1 431.2,1217.6 431.7,1216.1 432.2,1214.7 432.7,1213.4 433.2,1212.0 433.7,1210.8 434.2,1209.7 434.7,1208.6 435.2,1207.6 435.7,1206.7 436.2,1205.9 436.7,1205.2 437.2,1204.6 437.7,1204.1 438.2,1203.8 438.7,1203.5 439.2,1203.3 439.7,1203.2 440.2,1203.1 440.7,1203.2 441.2,1203.3 441.7,1203.5 442.2,1203.7 442.7,1204.0 443.2,1204.3 443.7,1204.6 444.2,1205.0 444.7,1205.3 445.2,1205.7 445.7,1206.0 446.2,1206.3 446.7,1206.5 447.2,1206.8 447.7,1206.9 448.2,1207.1 448.7,1207.1 449.2,1207.1 449.7,1207.1 450.2,1207.0 450.7,1206.8 451.2,1206.5 451.7,1206.2 452.2,1205.8 452.7,1205.4 453.2,1204.9 453.7,1204.4 454.2,1203.9 454.7,1203.3 455.2,1202.7 455.7,1202.1 456.2,1201.5 456.7,1200.9 457.2,1200.3 457.7,1199.8 458.2,1199.3 458.7,1198.8 459.2,1198.4 459.7,1198.1 460.2,1197.9 460.7,1197.7 461.2,1197.7 461.7,1197.7 462.2,1197.8 462.7,1198.1 463.2,1198.5 463.7,1198.9 464.2,1199.5 464.7,1200.2 465.2,1201.0 465.7,1201.9 466.2,1202.9 466.7,1204.0 467.2,1205.2 467.7,1206.4 468.2,1207.8 468.7,1209.2 469.2,1210.6 469.7,1212.1 470.2,1213.6 470.7,1215.1 471.2,1216.6 471.7,1218.1 472.2,1219.6 472.7,1221.1 473.2,1222.5 473.7,1223.8 474.2,1225.2 474.7,1226.4 475.2,1227.5 475.7,1228.6 476.2,1229.6 476.7,1230.5 477.2,1231.3 477.7,1232.0 478.2,1232.6 478.7,1233.1 479.2,1233.4 479.7,1233.7 480.2,1233.9 480.7,1234.0 481.2,1234.1 481.7,1234.0 482.2,1233.9 482.7,1233.7 483.2,1233.5 483.7,1233.2 484.2,1232.9 484.7,1232.6 485.2,1232.2 485.7,1231.9 486.2,1231.5 486.7,1231.2 487.2,1230.9 487.7,1230.7 488.2,1230.4 488.7,1230.3 489.2,1230.1 489.7,1230.1 490.2,1230.1 490.7,1230.1 491.2,1230.2 491.7,1230.4 492.2,1230.7 492.7,1231.0 493.2,1231.4 493.7,1231.8 494.2,1232.3 494.7,1232.8 495.2,1233.3 495.7,1233.9 496.2,1234.5 496.7,1235.1 497.2,1235.7 497.7,1236.3 498.2,1236.9 498.7,1237.4 499.2,1237.9 499.7,1238.4 500.2,1238.8 500.7,1239.1 501.2,1239.3 501.7,1239.5 502.2,1239.5 502.7,1239.5 503.2,1239.4 503.7,1239.1 504.2,1238.7 504.7,1238.3 505.2,1237.7 505.7,1237.0 506.2,1236.2 506.7,1235.3 507.2,1234.3 507.7,1233.2 508.2,1232.0 508.7,1230.8 509.2,1229.4 509.7,1228.0 510.2,1226.6 510.7,1225.1 511.2,1223.6 511.7,1222.1 512.2,1220.6 512.7,1219.1 513.2,1217.6 513.7,1216.1 514.2,1214.7 514.7,1213.4 515.2,1212.0 515.7,1210.8 516.2,1209.7 516.7,1208.6 517.2,1207.6 517.7,1206.7 518.2,1205.9 518.7,1205.2 519.2,1204.6 519.7,1204.1 520.2,1203.8 520.7,1203.5 521.2,1203.3 521.7,1203.2 522.2,1203.1 522.7,1203.2 523.2,1203.3 523.7,1203.5 524.2,1203.7 524.7,1204.0 525.2,1204.3 525.7,1204.6 526.2,1205.0 526.7,1205.3 527.2,1205.7 527.7,1206.0 528.2,1206.3 528.7,1206.5 529.2,1206.8 529.7,1206.9 530.2,1207.1 530.7,1207.1 531.2,1207.1 531.7,1207.1 532.2,1207.0 532.7,1206.8 533.2,1206.5 533.7,1206.2 534.2,1205.8 534.7,1205.4 535.2,1204.9 535.7,1204.4 536.2,1203.9 536.7,1203.3 537.2,1202.7 537.7,1202.1 538.2,1201.5 538.7,1200.9 539.2,1200.3 539.7,1199.8 540.2,1199.3 540.7,1198.8 541.2,1198.4 541.7,1198.1 542.2,1197.9 542.7,1197.7 543.2,1197.7 543.7,1197.7 544.2,1197.8 544.7,1198.1 545.2,1198.5 545.7,1198.9 546.2,1199.5 546.7,1200.2 547.2,1201.0 547.7,1201.9 548.2,1202.9 548.7,1204.0 549.2,1205.2 549.7,1206.4 550.2,1207.8 550.7,1209.2 551.2,1210.6 551.7,1212.1 552.2,1213.6 552.7,1215.1 553.2,1216.6 553.7,1218.1 554.2,1219.6 554.7,1221.1 555.2,1222.5 555.7,1223.8 556.2,1225.2 556.7,1226.4 557.2,1227.5 557.7,1228.6 558.2,1229.6 558.7,1230.5 559.2,1231.3 559.7,1232.0 560.2,1232.6 560.7,1233.1 561.2,1233.4 561.7,1233.7 562.2,1233.9 562.7,1234.0 563.2,1234.1 563.7,1234.0 564.2,1233.9 564.7,1233.7 565.2,1233.5 565.7,1233.2 566.2,1232.9 566.7,1232.6 567.2,1232.2 567.7,1231.9 568.2,1231.5 568.7,1231.2 569.2,1230.9 569.7,1230.7 570.2,1230.4 570.7,1230.3 571.2,1230.1 571.7,1230.1 572.2,1230.1 572.7,1230.1 573.2,1230.2 573.7,1230.4 574.2,1230.7 574.7,1231.0 575.2,1231.4 575.7,1231.8 576.2,1232.3 576.7,1232.8 577.2,1233.3 577.7,1233.9 578.2,1234.5 578.7,1235.1 579.2,1235.7 579.7,1236.3 580.2,1236.9 580.7,1237.4 581.2,1237.9 581.7,1238.4 582.2,1238.8 582.7,1239.1 583.2,1239.3 583.7,1239.5 584.2,1239.5 584.7,1239.5 585.2,1239.4 585.7,1239.1 586.2,1238.7 586.7,1238.3 587.2,1237.7 587.7,1237.0 588.2,1236.2 588.7,1235.3 589.2,1234.3 589.7,1233.2" fill="none" stroke="#a04ab8" stroke-width="0.9" opacity="1"/>
<polyline points="425.7,1238.5 426.2,1238.6 426.7,1238.7 427.2,1238.7 427.7,1238.6 428.2,1238.4 428.7,1238.2 429.2,1237.8 429.7,1237.3 430.2,1236.7 430.7,1236.1 431.2,1235.3 431.7,1234.5 432.2,1233.5 432.7,1232.5 433.2,1231.4 433.7,1230.2 434.2,1229.0 434.7,1227.7 435.2,1226.4 435.7,1225.1 436.2,1223.7 436.7,1222.3 437.2,1220.9 437.7,1219.5 438.2,1218.1 438.7,1216.7 439.2,1215.4 439.7,1214.1 440.2,1212.9 440.7,1211.7 441.2,1210.6 441.7,1209.6 442.2,1208.6 442.7,1207.8 443.2,1207.0 443.7,1206.3 444.2,1205.7 444.7,1205.2 445.2,1204.7 445.7,1204.4 446.2,1204.1 446.7,1203.9 447.2,1203.8 447.7,1203.8 448.2,1203.8 448.7,1203.8 449.2,1204.0 449.7,1204.1 450.2,1204.3 450.7,1204.5 451.2,1204.7 451.7,1205.0 452.2,1205.2 452.7,1205.4 453.2,1205.6 453.7,1205.8 454.2,1206.0 454.7,1206.1 455.2,1206.2 455.7,1206.2 456.2,1206.2 456.7,1206.1 457.2,1206.0 457.7,1205.8 458.2,1205.6 458.7,1205.3 459.2,1205.0 459.7,1204.6 460.2,1204.2 460.7,1203.8 461.2,1203.3 461.7,1202.8 462.2,1202.3 462.7,1201.8 463.2,1201.3 463.7,1200.9 464.2,1200.4 464.7,1200.0 465.2,1199.6 465.7,1199.2 466.2,1198.9 466.7,1198.7 467.2,1198.6 467.7,1198.5 468.2,1198.5 468.7,1198.6 469.2,1198.8 469.7,1199.0 470.2,1199.4 470.7,1199.9 471.2,1200.5 471.7,1201.1 472.2,1201.9 472.7,1202.7 473.2,1203.7 473.7,1204.7 474.2,1205.8 474.7,1207.0 475.2,1208.2 475.7,1209.5 476.2,1210.8 476.7,1212.1 477.2,1213.5 477.7,1214.9 478.2,1216.3 478.7,1217.7 479.2,1219.1 479.7,1220.5 480.2,1221.8 480.7,1223.1 481.2,1224.3 481.7,1225.5 482.2,1226.6 482.7,1227.6 483.2,1228.6 483.7,1229.4 484.2,1230.2 484.7,1230.9 485.2,1231.5 485.7,1232.0 486.2,1232.5 486.7,1232.8 487.2,1233.1 487.7,1233.3 488.2,1233.4 488.7,1233.4 489.2,1233.4 489.7,1233.4 490.2,1233.2 490.7,1233.1 491.2,1232.9 491.7,1232.7 492.2,1232.5 492.7,1232.2 493.2,1232.0 493.7,1231.8 494.2,1231.6 494.7,1231.4 495.2,1231.2 495.7,1231.1 496.2,1231.0 496.7,1231.0 497.2,1231.0 497.7,1231.1 498.2,1231.2 498.7,1231.4 499.2,1231.6 499.7,1231.9 500.2,1232.2 500.7,1232.6 501.2,1233.0 501.7,1233.4 502.2,1233.9 502.7,1234.4 503.2,1234.9 503.7,1235.4 504.2,1235.9 504.7,1236.3 505.2,1236.8 505.7,1237.2 506.2,1237.6 506.7,1238.0 507.2,1238.3 507.7,1238.5 508.2,1238.6 508.7,1238.7 509.2,1238.7 509.7,1238.6 510.2,1238.4 510.7,1238.2 511.2,1237.8 511.7,1237.3 512.2,1236.7 512.7,1236.1 513.2,1235.3 513.7,1234.5 514.2,1233.5 514.7,1232.5 515.2,1231.4 515.7,1230.2 516.2,1229.0 516.7,1227.7 517.2,1226.4 517.7,1225.1 518.2,1223.7 518.7,1222.3 519.2,1220.9 519.7,1219.5 520.2,1218.1 520.7,1216.7 521.2,1215.4 521.7,1214.1 522.2,1212.9 522.7,1211.7 523.2,1210.6 523.7,1209.6 524.2,1208.6 524.7,1207.8 525.2,1207.0 525.7,1206.3 526.2,1205.7 526.7,1205.2 527.2,1204.7 527.7,1204.4 528.2,1204.1 528.7,1203.9 529.2,1203.8 529.7,1203.8 530.2,1203.8 530.7,1203.8 531.2,1204.0 531.7,1204.1 532.2,1204.3 532.7,1204.5 533.2,1204.7 533.7,1205.0 534.2,1205.2 534.7,1205.4 535.2,1205.6 535.7,1205.8 536.2,1206.0 536.7,1206.1 537.2,1206.2 537.7,1206.2 538.2,1206.2 538.7,1206.1 539.2,1206.0 539.7,1205.8 540.2,1205.6 540.7,1205.3 541.2,1205.0 541.7,1204.6 542.2,1204.2 542.7,1203.8 543.2,1203.3 543.7,1202.8 544.2,1202.3 544.7,1201.8 545.2,1201.3 545.7,1200.9 546.2,1200.4 546.7,1200.0 547.2,1199.6 547.7,1199.2 548.2,1198.9 548.7,1198.7 549.2,1198.6 549.7,1198.5 550.2,1198.5 550.7,1198.6 551.2,1198.8 551.7,1199.0 552.2,1199.4 552.7,1199.9 553.2,1200.5 553.7,1201.1 554.2,1201.9 554.7,1202.7 555.2,1203.7 555.7,1204.7 556.2,1205.8 556.7,1207.0 557.2,1208.2 557.7,1209.5 558.2,1210.8 558.7,1212.1 559.2,1213.5 559.7,1214.9 560.2,1216.3 560.7,1217.7 561.2,1219.1 561.7,1220.5 562.2,1221.8 562.7,1223.1 563.2,1224.3 563.7,1225.5 564.2,1226.6 564.7,1227.6 565.2,1228.6 565.7,1229.4 566.2,1230.2 566.7,1230.9 567.2,1231.5 567.7,1232.0 568.2,1232.5 568.7,1232.8 569.2,1233.1 569.7,1233.3 570.2,1233.4 570.7,1233.4 571.2,1233.4 571.7,1233.4 572.2,1233.2 572.7,1233.1 573.2,1232.9 573.7,1232.7 574.2,1232.5 574.7,1232.2 575.2,1232.0 575.7,1231.8 576.2,1231.6 576.7,1231.4 577.2,1231.2 577.7,1231.1 578.2,1231.0 578.7,1231.0 579.2,1231.0 579.7,1231.1 580.2,1231.2 580.7,1231.4 581.2,1231.6 581.7,1231.9 582.2,1232.2 582.7,1232.6 583.2,1233.0 583.7,1233.4 584.2,1233.9 584.7,1234.4 585.2,1234.9 585.7,1235.4 586.2,1235.9 586.7,1236.3 587.2,1236.8 587.7,1237.2 588.2,1237.6 588.7,1238.0 589.2,1238.3 589.7,1238.5" fill="none" stroke="#3eb060" stroke-width="0.7" opacity="0.8"/>
<rect x="598.0" y="1186.9" width="7.5" height="17.0" fill="#2b52ab" stroke="#777" stroke-width="0.4"/>
<line x1="591.0" y1="1188.0" x2="595.0" y2="1188.0" stroke="#222" stroke-width="1.1" opacity="0.7" stroke-dasharray="2.2 0.7"/>
<circle cx="609.5" cy="1188" r="1.3" fill="#2a7a2a"/>
<line x1="611.0" y1="1188.0" x2="617.0" y2="1188.0" stroke="#222" stroke-width="1" opacity="0.6" stroke-dasharray="2.2 0.7"/>
<line x1="591.0" y1="1194.0" x2="595.0" y2="1194.0" stroke="#222" stroke-width="1.1" opacity="0.7" stroke-dasharray="2.2 0.7"/>
<circle cx="609.5" cy="1194" r="1.3" fill="#2a7a2a"/>
<line x1="611.0" y1="1194.0" x2="617.0" y2="1194.0" stroke="#222" stroke-width="1" opacity="0.6" stroke-dasharray="2.2 0.7"/>
<line x1="591.0" y1="1200.0" x2="595.0" y2="1200.0" stroke="#222" stroke-width="1.1" opacity="0.7" stroke-dasharray="2.2 0.7"/>
<circle cx="609.5" cy="1200" r="1.3" fill="#2a7a2a"/>
<line x1="611.0" y1="1200.0" x2="617.0" y2="1200.0" stroke="#222" stroke-width="1" opacity="0.6" stroke-dasharray="2.2 0.7"/>
<line x1="601.0" y1="1224.0" x2="608.0" y2="1224.0" stroke="#222" stroke-width="1.1" opacity="0.6" stroke-dasharray="2.2 0.7"/>
<line x1="599.0" y1="1228.0" x2="606.0" y2="1228.0" stroke="#111" stroke-width="1.1" opacity="0.7" stroke-dasharray="2.2 0.7"/>
<path d="M607,1227 l3,0 l-1.5,2z" fill="#111"/>
<line x1="602.0" y1="1245.0" x2="613.0" y2="1245.0" stroke="#666" stroke-width="1.1" opacity="0.3" stroke-dasharray="2.2 0.7"/>
<rect x="603.0" y="1247.0" width="9.0" height="4.0" fill="#c4c4c4"/>
<rect x="625.0" y="1187.7" width="61.3" height="124.7" fill="#dadada" stroke="#a9a9a9" stroke-width="0.5"/>
<rect x="627.0" y="1187.7" width="6.0" height="5.3" fill="#ececec" stroke="#9a9a9a" stroke-width="0.4"/>
<rect x="633.0" y="1187.7" width="6.0" height="5.3" fill="#ececec" stroke="#9a9a9a" stroke-width="0.4"/>
<rect x="639.0" y="1187.7" width="7.0" height="5.3" fill="#ececec" stroke="#9a9a9a" stroke-width="0.4"/>
<rect x="627.8" y="1195.2" width="55.7" height="91.3" fill="#e6e6e6" stroke="#a9a9a9" stroke-width="0.5"/>
<rect x="628.0" y="1195.5" width="10.0" height="5.0" fill="#eeeeee" stroke="#9a9a9a" stroke-width="0.4"/>
<line x1="630.0" y1="1198.0" x2="636.0" y2="1198.0" stroke="#333" stroke-width="1" opacity="0.6" stroke-dasharray="2.2 0.7"/>
<rect x="638.0" y="1195.5" width="13.0" height="5.0" fill="#eeeeee" stroke="#9a9a9a" stroke-width="0.4"/>
<line x1="640.0" y1="1198.0" x2="649.0" y2="1198.0" stroke="#333" stroke-width="1" opacity="0.6" stroke-dasharray="2.2 0.7"/>
<rect x="651.0" y="1195.5" width="13.0" height="5.0" fill="#eeeeee" stroke="#9a9a9a" stroke-width="0.4"/>
<line x1="653.0" y1="1198.0" x2="662.0" y2="1198.0" stroke="#333" stroke-width="1" opacity="0.6" stroke-dasharray="2.2 0.7"/>
<rect x="664.0" y="1195.5" width="13.0" height="5.0" fill="#eeeeee" stroke="#9a9a9a" stroke-width="0.4"/>
<line x1="666.0" y1="1198.0" x2="675.0" y2="1198.0" stroke="#333" stroke-width="1" opacity="0.6" stroke-dasharray="2.2 0.7"/>
<line x1="640.0" y1="1204.0" x2="645.0" y2="1204.0" stroke="#333" stroke-width="1" opacity="0.6" stroke-dasharray="2.2 0.7"/>
<line x1="664.0" y1="1204.0" x2="667.0" y2="1204.0" stroke="#333" stroke-width="1" opacity="0.6" stroke-dasharray="2.2 0.7"/>
<line x1="630.0" y1="1208.7" x2="633.0" y2="1208.7" stroke="#111" stroke-width="1.1" opacity="0.7" stroke-dasharray="2.2 0.7"/>
<g opacity="1">
<rect x="635.9" y="1206.0" width="2.5" height="5.6" fill="#c8c8c8" stroke="#888" stroke-width="0.4"/>
<rect x="638.9" y="1206.5" width="14.0" height="4.6" fill="#3fa34f" stroke="#2d7a3a" stroke-width="0.4"/>
</g>
<g>
<rect x="658.2" y="1206.0" width="2.5" height="5.5" fill="#c8c8c8" stroke="#888" stroke-width="0.4"/>
<rect x="661.2" y="1206.5" width="14.0" height="4.6" fill="#a83aa8" stroke="#702070" stroke-width="0.4"/>
</g>
<line x1="630.0" y1="1215.6" x2="633.0" y2="1215.6" stroke="#111" stroke-width="1.1" opacity="0.7" stroke-dasharray="2.2 0.7"/>
<g opacity="1">
<rect x="635.9" y="1212.9" width="2.5" height="5.6" fill="#c8c8c8" stroke="#888" stroke-width="0.4"/>
<rect x="638.9" y="1213.4" width="14.0" height="4.6" fill="#3fa34f" stroke="#2d7a3a" stroke-width="0.4"/>
</g>
<g>
<rect x="658.2" y="1212.9" width="2.5" height="5.5" fill="#c8c8c8" stroke="#888" stroke-width="0.4"/>
<rect x="661.2" y="1213.4" width="14.0" height="4.6" fill="#a83aa8" stroke="#702070" stroke-width="0.4"/>
</g>
<line x1="630.0" y1="1222.4" x2="633.0" y2="1222.4" stroke="#111" stroke-width="1.1" opacity="0.7" stroke-dasharray="2.2 0.7"/>
<g opacity="1">
<rect x="635.9" y="1219.7" width="2.5" height="5.6" fill="#c8c8c8" stroke="#888" stroke-width="0.4"/>
<rect x="638.9" y="1220.2" width="14.0" height="4.6" fill="#3fa34f" stroke="#2d7a3a" stroke-width="0.4"/>
</g>
<g>
<rect x="658.2" y="1219.7" width="2.5" height="5.5" fill="#c8c8c8" stroke="#888" stroke-width="0.4"/>
<rect x="661.2" y="1220.2" width="14.0" height="4.6" fill="#a83aa8" stroke="#702070" stroke-width="0.4"/>
</g>
<line x1="630.0" y1="1229.2" x2="633.0" y2="1229.2" stroke="#111" stroke-width="1.1" opacity="0.7" stroke-dasharray="2.2 0.7"/>
<g opacity="1">
<rect x="635.9" y="1226.5" width="2.5" height="5.6" fill="#c8c8c8" stroke="#888" stroke-width="0.4"/>
<rect x="638.9" y="1227.0" width="14.0" height="4.6" fill="#3fa34f" stroke="#2d7a3a" stroke-width="0.4"/>
</g>
<g>
<rect x="658.2" y="1226.5" width="2.5" height="5.5" fill="#c8c8c8" stroke="#888" stroke-width="0.4"/>
<rect x="661.2" y="1227.0" width="14.0" height="4.6" fill="#a83aa8" stroke="#702070" stroke-width="0.4"/>
</g>
<line x1="630.0" y1="1236.2" x2="633.0" y2="1236.2" stroke="#111" stroke-width="1.1" opacity="0.7" stroke-dasharray="2.2 0.7"/>
<g opacity="1">
<rect x="635.9" y="1233.5" width="2.5" height="5.6" fill="#c8c8c8" stroke="#888" stroke-width="0.4"/>
<rect x="638.9" y="1234.0" width="14.0" height="4.6" fill="#3fa34f" stroke="#2d7a3a" stroke-width="0.4"/>
</g>
<g>
<rect x="658.2" y="1233.5" width="2.5" height="5.5" fill="#c8c8c8" stroke="#888" stroke-width="0.4"/>
<rect x="661.2" y="1234.0" width="14.0" height="4.6" fill="#a83aa8" stroke="#702070" stroke-width="0.4"/>
</g>
<line x1="630.0" y1="1243.2" x2="633.0" y2="1243.2" stroke="#111" stroke-width="1.1" opacity="0.7" stroke-dasharray="2.2 0.7"/>
<g opacity="1">
<rect x="635.9" y="1240.5" width="2.5" height="5.6" fill="#c8c8c8" stroke="#888" stroke-width="0.4"/>
<rect x="638.9" y="1241.0" width="14.0" height="4.6" fill="#3fa34f" stroke="#2d7a3a" stroke-width="0.4"/>
</g>
<g>
<rect x="658.2" y="1240.5" width="2.5" height="5.5" fill="#c8c8c8" stroke="#888" stroke-width="0.4"/>
<rect x="661.2" y="1241.0" width="14.0" height="4.6" fill="#a83aa8" stroke="#702070" stroke-width="0.4"/>
</g>
<line x1="630.0" y1="1250.2" x2="633.0" y2="1250.2" stroke="#111" stroke-width="1.1" opacity="0.7" stroke-dasharray="2.2 0.7"/>
<g opacity="1">
<rect x="635.9" y="1247.5" width="2.5" height="5.6" fill="#c8c8c8" stroke="#888" stroke-width="0.4"/>
<rect x="638.9" y="1248.0" width="14.0" height="4.6" fill="#3fa34f" stroke="#2d7a3a" stroke-width="0.4"/>
</g>
<g>
<rect x="658.2" y="1247.5" width="2.5" height="5.5" fill="#c8c8c8" stroke="#888" stroke-width="0.4"/>
<rect x="661.2" y="1248.0" width="14.0" height="4.6" fill="#a83aa8" stroke="#702070" stroke-width="0.4"/>
</g>
<line x1="630.0" y1="1257.2" x2="633.0" y2="1257.2" stroke="#111" stroke-width="1.1" opacity="0.7" stroke-dasharray="2.2 0.7"/>
<g opacity="1">
<rect x="635.9" y="1254.5" width="2.5" height="5.6" fill="#c8c8c8" stroke="#888" stroke-width="0.4"/>
<rect x="638.9" y="1255.0" width="14.0" height="4.6" fill="#3fa34f" stroke="#2d7a3a" stroke-width="0.4"/>
</g>
<g>
<rect x="658.2" y="1254.5" width="2.5" height="5.5" fill="#c8c8c8" stroke="#888" stroke-width="0.4"/>
<rect x="661.2" y="1255.0" width="14.0" height="4.6" fill="#a83aa8" stroke="#702070" stroke-width="0.4"/>
</g>
<line x1="630.0" y1="1264.1" x2="633.0" y2="1264.1" stroke="#111" stroke-width="1.1" opacity="0.7" stroke-dasharray="2.2 0.7"/>
<g opacity="1">
<rect x="635.9" y="1261.4" width="2.5" height="5.6" fill="#c8c8c8" stroke="#888" stroke-width="0.4"/>
<rect x="638.9" y="1261.9" width="14.0" height="4.6" fill="#3fa34f" stroke="#2d7a3a" stroke-width="0.4"/>
</g>
<g>
<rect x="658.2" y="1261.4" width="2.5" height="5.5" fill="#c8c8c8" stroke="#888" stroke-width="0.4"/>
<rect x="661.2" y="1261.9" width="14.0" height="4.6" fill="#a83aa8" stroke="#702070" stroke-width="0.4"/>
</g>
<line x1="633.0" y1="1274.0" x2="679.0" y2="1274.0" stroke="#111" stroke-width="1.1" opacity="0.7" stroke-dasharray="2.2 0.7"/>
<line x1="636.0" y1="1278.0" x2="676.0" y2="1278.0" stroke="#111" stroke-width="1.1" opacity="0.7" stroke-dasharray="2.2 0.7"/>
<rect x="624.2" y="1286.5" width="63.0" height="26.5" fill="#dcdcdc" stroke="#a9a9a9" stroke-width="0.5"/>
<line x1="635.0" y1="1289.0" x2="648.0" y2="1289.0" stroke="#333" stroke-width="1" opacity="0.6" stroke-dasharray="2.2 0.7"/>
<ellipse cx="641.7" cy="1302" rx="3" ry="9.5" fill="#2f8a44" stroke="#444" stroke-width="0.5"/>
<line x1="646.0" y1="1296.5" x2="654.0" y2="1296.5" stroke="#333" stroke-width="1" opacity="0.6" stroke-dasharray="2.2 0.7"/>
<line x1="646.0" y1="1307.0" x2="656.0" y2="1307.0" stroke="#333" stroke-width="1" opacity="0.6" stroke-dasharray="2.2 0.7"/>
<line x1="670.0" y1="1291.5" x2="679.0" y2="1291.5" stroke="#333" stroke-width="1" opacity="0.6" stroke-dasharray="2.2 0.7"/>
<rect x="671.0" y="1296.0" width="7.8" height="10.8" fill="#3f9f55" stroke="#2a6a30" stroke-width="0.5"/>
<rect x="404.0" y="1253.0" width="7.0" height="5.8" fill="#ececec" stroke="#9a9a9a" stroke-width="0.4"/>
<rect x="411.0" y="1253.0" width="7.0" height="5.8" fill="#ececec" stroke="#9a9a9a" stroke-width="0.4"/>
<rect x="418.0" y="1253.0" width="13.0" height="5.8" fill="#ececec" stroke="#9a9a9a" stroke-width="0.4"/>
<rect x="402.0" y="1258.8" width="147.7" height="52.8" fill="#dadada" stroke="#a9a9a9" stroke-width="0.5"/>
<g opacity="1"><circle cx="421.5" cy="1284.5" r="11.0" fill="none" stroke="#333" stroke-width="1.3" stroke-dasharray="1.1 2.6" opacity="0.55"/><circle cx="421.5" cy="1284.5" r="7.8" fill="url(#knob)" stroke="#8a8a8a" stroke-width="0.5"/></g>
<line x1="414.5" y1="1268.0" x2="428.5" y2="1268.0" stroke="#222" stroke-width="1" opacity="0.6" stroke-dasharray="2.2 0.7"/>
<g opacity="1"><circle cx="460.5" cy="1283.7" r="11.0" fill="none" stroke="#333" stroke-width="1.3" stroke-dasharray="1.1 2.6" opacity="0.55"/><circle cx="460.5" cy="1283.7" r="7.8" fill="url(#knob)" stroke="#8a8a8a" stroke-width="0.5"/></g>
<line x1="453.5" y1="1268.0" x2="467.5" y2="1268.0" stroke="#222" stroke-width="1" opacity="0.6" stroke-dasharray="2.2 0.7"/>
<g opacity="1"><circle cx="496.8" cy="1283.7" r="11.0" fill="none" stroke="#333" stroke-width="1.3" stroke-dasharray="1.1 2.6" opacity="0.55"/><circle cx="496.8" cy="1283.7" r="7.8" fill="url(#knob)" stroke="#8a8a8a" stroke-width="0.5"/></g>
<line x1="489.8" y1="1268.0" x2="503.8" y2="1268.0" stroke="#222" stroke-width="1" opacity="0.6" stroke-dasharray="2.2 0.7"/>
<g opacity="1">
<rect x="411.5" y="1295.0" width="2.5" height="5.0" fill="#c8c8c8" stroke="#888" stroke-width="0.4"/>
<rect x="414.5" y="1295.5" width="19.5" height="4.0" fill="#3fa34f" stroke="#2d7a3a" stroke-width="0.4"/>
</g>
<g opacity="1">
<rect x="447.8" y="1295.0" width="2.5" height="5.0" fill="#c8c8c8" stroke="#888" stroke-width="0.4"/>
<rect x="450.8" y="1295.5" width="20.9" height="4.0" fill="#3fa34f" stroke="#2d7a3a" stroke-width="0.4"/>
</g>
<g opacity="1">
<rect x="484.0" y="1295.0" width="2.5" height="5.0" fill="#c8c8c8" stroke="#888" stroke-width="0.4"/>
<rect x="487.0" y="1295.5" width="21.0" height="4.0" fill="#3fa34f" stroke="#2d7a3a" stroke-width="0.4"/>
</g>
<line x1="412.0" y1="1303.5" x2="440.0" y2="1303.5" stroke="#555" stroke-width="1" opacity="0.3" stroke-dasharray="2.2 0.7"/>
<line x1="448.0" y1="1303.5" x2="477.0" y2="1303.5" stroke="#555" stroke-width="1" opacity="0.3" stroke-dasharray="2.2 0.7"/>
<line x1="518.0" y1="1265.0" x2="540.0" y2="1265.0" stroke="#222" stroke-width="1" opacity="0.6" stroke-dasharray="2.2 0.7"/>
<ellipse cx="529.4" cy="1279.5" rx="2.9" ry="9" fill="#2f8a44" stroke="#444" stroke-width="0.5"/>
<line x1="534.0" y1="1275.0" x2="540.0" y2="1275.0" stroke="#333" stroke-width="1" opacity="0.6" stroke-dasharray="2.2 0.7"/>
<line x1="534.0" y1="1287.0" x2="540.0" y2="1287.0" stroke="#333" stroke-width="1" opacity="0.6" stroke-dasharray="2.2 0.7"/>
<line x1="563.0" y1="1276.0" x2="579.0" y2="1276.0" stroke="#222" stroke-width="1" opacity="0.6" stroke-dasharray="2.2 0.7"/>
<circle cx="571.2" cy="1282.3" r="4" fill="#78d468" stroke="#777" stroke-width="0.4"/>
<rect x="567.0" y="1287.0" width="9.0" height="3.5" fill="#eef" stroke="#88a" stroke-width="0.4"/>
<line x1="597.0" y1="1276.0" x2="604.0" y2="1276.0" stroke="#222" stroke-width="1" opacity="0.6" stroke-dasharray="2.2 0.7"/>
<circle cx="600.7" cy="1285.2" r="5" fill="url(#knob)" stroke="#777" stroke-width="0.5"/>
<line x1="605.0" y1="1283.0" x2="610.0" y2="1283.0" stroke="#333" stroke-width="1" opacity="0.6" stroke-dasharray="2.2 0.7"/>
<rect x="402.0" y="1324.7" width="71.9" height="37.7" fill="#cdcdcd" stroke="#9a9a9a" stroke-width="0.4"/>
<rect x="408.4" y="1325.5" width="63.3" height="36.3" fill="#2b52ab"/>
<line x1="408.4" y1="1343.7" x2="471.7" y2="1343.7" stroke="#8e86c8" stroke-width="0.7"/>
<line x1="442.9" y1="1325.5" x2="442.9" y2="1361.8" stroke="#7a3fa0" stroke-width="0.7"/>
<rect x="403.0" y="1318.2" width="3.5" height="4.6" fill="#a23a2a"/>
<g opacity="1">
<rect x="406.5" y="1317.0" width="2.5" height="6.6" fill="#c8c8c8" stroke="#888" stroke-width="0.4"/>
<rect x="409.5" y="1317.5" width="12.5" height="5.6" fill="#3fa34f" stroke="#2d7a3a" stroke-width="0.4"/>
</g>
<rect x="436.0" y="1317.0" width="3.5" height="6.6" fill="#e8e8e8" stroke="#888" stroke-width="0.4"/>
<rect x="443.0" y="1319.3" width="6.0" height="4.3" fill="#eeeeee" stroke="#666" stroke-width="0.4"/>
<path d="M446.5,1321.0 l2,0 l-1,1.5z" fill="#111"/>
<rect x="449.5" y="1319.3" width="22.2" height="4.3" fill="#2f5ec0"/>
<line x1="430.0" y1="1315.5" x2="438.0" y2="1315.5" stroke="#333" stroke-width="0.9" opacity="0.5" stroke-dasharray="2.2 0.7"/>
<rect x="475.8" y="1324.7" width="69.7" height="37.7" fill="#cdcdcd" stroke="#9a9a9a" stroke-width="0.4"/>
<rect x="482.0" y="1325.5" width="62.2" height="36.3" fill="#2b52ab"/>
<line x1="482.0" y1="1343.7" x2="544.2" y2="1343.7" stroke="#8e86c8" stroke-width="0.7"/>
<line x1="502.5" y1="1325.5" x2="502.5" y2="1361.8" stroke="#7a3fa0" stroke-width="0.7"/>
<rect x="476.8" y="1318.2" width="3.5" height="4.6" fill="#a23a2a"/>
<g opacity="1">
<rect x="480.3" y="1317.0" width="2.5" height="6.6" fill="#c8c8c8" stroke="#888" stroke-width="0.4"/>
<rect x="483.3" y="1317.5" width="12.5" height="5.6" fill="#3fa34f" stroke="#2d7a3a" stroke-width="0.4"/>
</g>
<rect x="509.8" y="1317.0" width="3.5" height="6.6" fill="#e8e8e8" stroke="#888" stroke-width="0.4"/>
<rect x="516.8" y="1319.3" width="6.0" height="4.3" fill="#eeeeee" stroke="#666" stroke-width="0.4"/>
<path d="M520.3,1321.0 l2,0 l-1,1.5z" fill="#111"/>
<rect x="523.3" y="1319.3" width="20.9" height="4.3" fill="#2f5ec0"/>
<line x1="503.8" y1="1315.5" x2="511.8" y2="1315.5" stroke="#333" stroke-width="0.9" opacity="0.5" stroke-dasharray="2.2 0.7"/>
<rect x="547.8" y="1324.7" width="72.5" height="37.7" fill="#cdcdcd" stroke="#9a9a9a" stroke-width="0.4"/>
<rect x="553.9" y="1325.5" width="65.5" height="36.3" fill="#2b52ab"/>
<line x1="553.9" y1="1343.7" x2="619.4" y2="1343.7" stroke="#8e86c8" stroke-width="0.7"/>
<line x1="575.5" y1="1325.5" x2="575.5" y2="1361.8" stroke="#7a3fa0" stroke-width="0.7"/>
<rect x="548.8" y="1318.2" width="3.5" height="4.6" fill="#a23a2a"/>
<g opacity="1">
<rect x="552.3" y="1317.0" width="2.5" height="6.6" fill="#c8c8c8" stroke="#888" stroke-width="0.4"/>
<rect x="555.3" y="1317.5" width="12.5" height="5.6" fill="#3fa34f" stroke="#2d7a3a" stroke-width="0.4"/>
</g>
<rect x="581.8" y="1317.0" width="3.5" height="6.6" fill="#e8e8e8" stroke="#888" stroke-width="0.4"/>
<rect x="588.8" y="1319.3" width="6.0" height="4.3" fill="#eeeeee" stroke="#666" stroke-width="0.4"/>
<path d="M592.3,1321.0 l2,0 l-1,1.5z" fill="#111"/>
<rect x="595.3" y="1319.3" width="24.1" height="4.3" fill="#2f5ec0"/>
<line x1="575.8" y1="1315.5" x2="583.8" y2="1315.5" stroke="#333" stroke-width="0.9" opacity="0.5" stroke-dasharray="2.2 0.7"/>
<rect x="622.2" y="1324.7" width="68.8" height="37.7" fill="#cdcdcd" stroke="#9a9a9a" stroke-width="0.4"/>
<rect x="628.6" y="1325.5" width="61.4" height="36.3" fill="#2b52ab"/>
<line x1="628.6" y1="1343.7" x2="690.0" y2="1343.7" stroke="#8e86c8" stroke-width="0.7"/>
<line x1="648.9" y1="1325.5" x2="648.9" y2="1361.8" stroke="#7a3fa0" stroke-width="0.7"/>
<rect x="623.2" y="1318.2" width="3.5" height="4.6" fill="#a23a2a"/>
<g opacity="1">
<rect x="626.7" y="1317.0" width="2.5" height="6.6" fill="#c8c8c8" stroke="#888" stroke-width="0.4"/>
<rect x="629.7" y="1317.5" width="12.5" height="5.6" fill="#3fa34f" stroke="#2d7a3a" stroke-width="0.4"/>
</g>
<rect x="656.2" y="1317.0" width="3.5" height="6.6" fill="#e8e8e8" stroke="#888" stroke-width="0.4"/>
<rect x="663.2" y="1319.3" width="6.0" height="4.3" fill="#eeeeee" stroke="#666" stroke-width="0.4"/>
<path d="M666.7,1321.0 l2,0 l-1,1.5z" fill="#111"/>
<rect x="669.7" y="1319.3" width="20.3" height="4.3" fill="#2f5ec0"/>
<line x1="650.2" y1="1315.5" x2="658.2" y2="1315.5" stroke="#333" stroke-width="0.9" opacity="0.5" stroke-dasharray="2.2 0.7"/>
<rect x="714.2" y="1166.2" width="297.8" height="198.3" fill="#f8f8f8" stroke="#b9b9b9" stroke-width="1.4"/>
<line x1="715.2" y1="1167.8" x2="1010.8" y2="1167.8" stroke="#4667b3" stroke-width="1"/>
<line x1="715.8" y1="1167.2" x2="715.8" y2="1363.5" stroke="#4667b3" stroke-width="1"/>
<text x="719.3" y="1181.7" font-size="16.2" fill="#3f7bcf" text-anchor="start" font-weight="bold" font-style="italic" textLength="57.1" lengthAdjust="spacingAndGlyphs" stroke="#3f7bcf" stroke-width="1.12" stroke-linejoin="round" font-family="Liberation Sans">Chroma</text>
<line x1="739.8" y1="1171.6" x2="775.5" y2="1171.6" stroke="#222" stroke-width="1.38" opacity="0.75" stroke-dasharray="1.5 0.4"/>
<text x="785.0" y="1181.5" font-size="13.5" fill="#8a8a8a" text-anchor="start" font-weight="normal" font-style="normal" textLength="94.3" lengthAdjust="spacingAndGlyphs" stroke="#8a8a8a" stroke-width="0.45">Report  Function</text>
<line x1="890.4" y1="1176.5" x2="926.7" y2="1176.5" stroke="#111" stroke-width="1.3" opacity="0.8" stroke-dasharray="2.2 0.7"/>
<rect x="928.0" y="1173.8" width="33.5" height="5.5" fill="#cdcdcd"/>
<ellipse cx="993.0" cy="1175.7" rx="14.0" ry="7.6" fill="#2e8b3a" stroke="#5a8a5a" stroke-width="0.5"/>
<text x="993.0" y="1178.4" font-size="7.2" fill="#fff" text-anchor="middle" font-weight="bold" font-style="normal">Back</text>
<rect x="717.6" y="1184.9" width="262.6" height="174.1" fill="#cfcfcf" stroke="#a8c4e6" stroke-width="0.9"/>
<line x1="725.0" y1="1194.5" x2="765.0" y2="1194.5" stroke="#111" stroke-width="1.3" opacity="0.75" stroke-dasharray="2.2 0.7"/>
<rect x="767.8" y="1191.9" width="174.2" height="6.1" fill="#f4f4f4" stroke="#bbb" stroke-width="0.4"/>
<rect x="944.8" y="1191.5" width="18.1" height="7.0" fill="#efefef" stroke="#555" stroke-width="0.5"/>
<line x1="947.0" y1="1195.0" x2="960.0" y2="1195.0" stroke="#222" stroke-width="1.2" opacity="0.8" stroke-dasharray="2.2 0.7"/>
<rect x="721.8" y="1212.0" width="124.6" height="144.2" fill="#e1e1e1" stroke="#6a6a6a" stroke-width="0.8"/>
<rect x="721.8" y="1212.0" width="124.6" height="9.2" fill="#2f5aae"/>
<line x1="752.9" y1="1216.6" x2="815.2" y2="1216.6" stroke="#cde" stroke-width="1.2" opacity="0.5" stroke-dasharray="2.2 0.7"/>
<rect x="851.4" y="1212.0" width="124.9" height="144.2" fill="#e1e1e1" stroke="#6a6a6a" stroke-width="0.8"/>
<rect x="851.4" y="1212.0" width="124.9" height="9.2" fill="#2f5aae"/>
<line x1="882.6" y1="1216.6" x2="945.1" y2="1216.6" stroke="#cde" stroke-width="1.2" opacity="0.5" stroke-dasharray="2.2 0.7"/>
<rect x="723.4" y="1227.5" width="5.0" height="4.8" fill="#f4f7f4" stroke="#7d8fb0" stroke-width="0.6"/>
<path d="M724.4,1229.8 l1.2,1.4 l2,-2.6" stroke="#2aa03a" stroke-width="0.8" fill="none"/>
<text x="730.5" y="1231.5" font-size="4.7" fill="#333" text-anchor="start" font-weight="normal" font-style="normal" font-family="Liberation Sans" opacity="0.85">Vrms1(V)</text>
<rect x="768.3" y="1227.5" width="5.0" height="4.8" fill="#f4f7f4" stroke="#7d8fb0" stroke-width="0.6"/>
<path d="M769.3,1229.8 l1.2,1.4 l2,-2.6" stroke="#2aa03a" stroke-width="0.8" fill="none"/>
<text x="775.4" y="1231.5" font-size="4.7" fill="#333" text-anchor="start" font-weight="normal" font-style="normal" font-family="Liberation Sans" opacity="0.85">Vrms2(V)</text>
<rect x="812.6" y="1227.5" width="5.0" height="4.8" fill="#f4f7f4" stroke="#7d8fb0" stroke-width="0.6"/>
<path d="M813.6,1229.8 l1.2,1.4 l2,-2.6" stroke="#2aa03a" stroke-width="0.8" fill="none"/>
<text x="819.7" y="1231.5" font-size="4.7" fill="#333" text-anchor="start" font-weight="normal" font-style="normal" font-family="Liberation Sans" opacity="0.85">Vrms3(V)</text>
<rect x="723.4" y="1236.5" width="5.0" height="4.8" fill="#f4f7f4" stroke="#7d8fb0" stroke-width="0.6"/>
<path d="M724.4,1238.8 l1.2,1.4 l2,-2.6" stroke="#2aa03a" stroke-width="0.8" fill="none"/>
<text x="730.5" y="1240.5" font-size="4.7" fill="#333" text-anchor="start" font-weight="normal" font-style="normal" font-family="Liberation Sans" opacity="0.85">F1(Hz)</text>
<rect x="768.3" y="1236.5" width="5.0" height="4.8" fill="#f4f7f4" stroke="#7d8fb0" stroke-width="0.6"/>
<path d="M769.3,1238.8 l1.2,1.4 l2,-2.6" stroke="#2aa03a" stroke-width="0.8" fill="none"/>
<text x="775.4" y="1240.5" font-size="4.7" fill="#333" text-anchor="start" font-weight="normal" font-style="normal" font-family="Liberation Sans" opacity="0.85">F2(Hz)</text>
<rect x="812.6" y="1236.5" width="5.0" height="4.8" fill="#f4f7f4" stroke="#7d8fb0" stroke-width="0.6"/>
<path d="M813.6,1238.8 l1.2,1.4 l2,-2.6" stroke="#2aa03a" stroke-width="0.8" fill="none"/>
<text x="819.7" y="1240.5" font-size="4.7" fill="#333" text-anchor="start" font-weight="normal" font-style="normal" font-family="Liberation Sans" opacity="0.85">F3(Hz)</text>
<rect x="723.4" y="1245.9" width="5.0" height="4.8" fill="#f4f7f4" stroke="#7d8fb0" stroke-width="0.6"/>
<path d="M724.4,1248.2 l1.2,1.4 l2,-2.6" stroke="#2aa03a" stroke-width="0.8" fill="none"/>
<text x="730.5" y="1249.9" font-size="4.7" fill="#333" text-anchor="start" font-weight="normal" font-style="normal" font-family="Liberation Sans" opacity="0.85">Irms1(A)</text>
<rect x="768.3" y="1245.9" width="5.0" height="4.8" fill="#f4f7f4" stroke="#7d8fb0" stroke-width="0.6"/>
<path d="M769.3,1248.2 l1.2,1.4 l2,-2.6" stroke="#2aa03a" stroke-width="0.8" fill="none"/>
<text x="775.4" y="1249.9" font-size="4.7" fill="#333" text-anchor="start" font-weight="normal" font-style="normal" font-family="Liberation Sans" opacity="0.85">Irms2(A)</text>
<rect x="812.6" y="1245.9" width="5.0" height="4.8" fill="#f4f7f4" stroke="#7d8fb0" stroke-width="0.6"/>
<path d="M813.6,1248.2 l1.2,1.4 l2,-2.6" stroke="#2aa03a" stroke-width="0.8" fill="none"/>
<text x="819.7" y="1249.9" font-size="4.7" fill="#333" text-anchor="start" font-weight="normal" font-style="normal" font-family="Liberation Sans" opacity="0.85">Irms3(A)</text>
<rect x="723.4" y="1255.2" width="5.0" height="4.8" fill="#f4f7f4" stroke="#7d8fb0" stroke-width="0.6"/>
<path d="M724.4,1257.5 l1.2,1.4 l2,-2.6" stroke="#2aa03a" stroke-width="0.8" fill="none"/>
<text x="730.5" y="1259.2" font-size="4.7" fill="#333" text-anchor="start" font-weight="normal" font-style="normal" font-family="Liberation Sans" opacity="0.85">P1(W)</text>
<rect x="768.3" y="1255.2" width="5.0" height="4.8" fill="#f4f7f4" stroke="#7d8fb0" stroke-width="0.6"/>
<path d="M769.3,1257.5 l1.2,1.4 l2,-2.6" stroke="#2aa03a" stroke-width="0.8" fill="none"/>
<text x="775.4" y="1259.2" font-size="4.7" fill="#333" text-anchor="start" font-weight="normal" font-style="normal" font-family="Liberation Sans" opacity="0.85">P2(W)</text>
<rect x="812.6" y="1255.2" width="5.0" height="4.8" fill="#f4f7f4" stroke="#7d8fb0" stroke-width="0.6"/>
<path d="M813.6,1257.5 l1.2,1.4 l2,-2.6" stroke="#2aa03a" stroke-width="0.8" fill="none"/>
<text x="819.7" y="1259.2" font-size="4.7" fill="#333" text-anchor="start" font-weight="normal" font-style="normal" font-family="Liberation Sans" opacity="0.85">P3(W)</text>
<rect x="723.4" y="1264.5" width="5.0" height="4.8" fill="#f4f7f4" stroke="#7d8fb0" stroke-width="0.6"/>
<path d="M724.4,1266.8 l1.2,1.4 l2,-2.6" stroke="#2aa03a" stroke-width="0.8" fill="none"/>
<text x="730.5" y="1268.5" font-size="4.7" fill="#333" text-anchor="start" font-weight="normal" font-style="normal" font-family="Liberation Sans" opacity="0.85">PF1</text>
<rect x="768.3" y="1264.5" width="5.0" height="4.8" fill="#f4f7f4" stroke="#7d8fb0" stroke-width="0.6"/>
<path d="M769.3,1266.8 l1.2,1.4 l2,-2.6" stroke="#2aa03a" stroke-width="0.8" fill="none"/>
<text x="775.4" y="1268.5" font-size="4.7" fill="#333" text-anchor="start" font-weight="normal" font-style="normal" font-family="Liberation Sans" opacity="0.85">PF2</text>
<rect x="812.6" y="1264.5" width="5.0" height="4.8" fill="#f4f7f4" stroke="#7d8fb0" stroke-width="0.6"/>
<path d="M813.6,1266.8 l1.2,1.4 l2,-2.6" stroke="#2aa03a" stroke-width="0.8" fill="none"/>
<text x="819.7" y="1268.5" font-size="4.7" fill="#333" text-anchor="start" font-weight="normal" font-style="normal" font-family="Liberation Sans" opacity="0.85">PF3</text>
<rect x="723.4" y="1273.8" width="5.0" height="4.8" fill="#f4f7f4" stroke="#7d8fb0" stroke-width="0.6"/>
<path d="M724.4,1276.1 l1.2,1.4 l2,-2.6" stroke="#2aa03a" stroke-width="0.8" fill="none"/>
<text x="730.5" y="1277.8" font-size="4.7" fill="#333" text-anchor="start" font-weight="normal" font-style="normal" font-family="Liberation Sans" opacity="0.85">CF1</text>
<rect x="768.3" y="1273.8" width="5.0" height="4.8" fill="#f4f7f4" stroke="#7d8fb0" stroke-width="0.6"/>
<path d="M769.3,1276.1 l1.2,1.4 l2,-2.6" stroke="#2aa03a" stroke-width="0.8" fill="none"/>
<text x="775.4" y="1277.8" font-size="4.7" fill="#333" text-anchor="start" font-weight="normal" font-style="normal" font-family="Liberation Sans" opacity="0.85">CF2</text>
<rect x="812.6" y="1273.8" width="5.0" height="4.8" fill="#f4f7f4" stroke="#7d8fb0" stroke-width="0.6"/>
<path d="M813.6,1276.1 l1.2,1.4 l2,-2.6" stroke="#2aa03a" stroke-width="0.8" fill="none"/>
<text x="819.7" y="1277.8" font-size="4.7" fill="#333" text-anchor="start" font-weight="normal" font-style="normal" font-family="Liberation Sans" opacity="0.85">CF3</text>
<rect x="723.4" y="1283.6" width="5.0" height="4.8" fill="#f4f7f4" stroke="#7d8fb0" stroke-width="0.6"/>
<path d="M724.4,1285.9 l1.2,1.4 l2,-2.6" stroke="#2aa03a" stroke-width="0.8" fill="none"/>
<text x="730.5" y="1287.6" font-size="4.7" fill="#333" text-anchor="start" font-weight="normal" font-style="normal" font-family="Liberation Sans" opacity="0.85">Vdc1(V)</text>
<rect x="768.3" y="1283.6" width="5.0" height="4.8" fill="#f4f7f4" stroke="#7d8fb0" stroke-width="0.6"/>
<path d="M769.3,1285.9 l1.2,1.4 l2,-2.6" stroke="#2aa03a" stroke-width="0.8" fill="none"/>
<text x="775.4" y="1287.6" font-size="4.7" fill="#333" text-anchor="start" font-weight="normal" font-style="normal" font-family="Liberation Sans" opacity="0.85">Vdc2(V)</text>
<rect x="812.6" y="1283.6" width="5.0" height="4.8" fill="#f4f7f4" stroke="#7d8fb0" stroke-width="0.6"/>
<path d="M813.6,1285.9 l1.2,1.4 l2,-2.6" stroke="#2aa03a" stroke-width="0.8" fill="none"/>
<text x="819.7" y="1287.6" font-size="4.7" fill="#333" text-anchor="start" font-weight="normal" font-style="normal" font-family="Liberation Sans" opacity="0.85">Vdc3(V)</text>
<rect x="723.4" y="1293.0" width="5.0" height="4.8" fill="#f4f7f4" stroke="#7d8fb0" stroke-width="0.6"/>
<path d="M724.4,1295.3 l1.2,1.4 l2,-2.6" stroke="#2aa03a" stroke-width="0.8" fill="none"/>
<text x="730.5" y="1297.0" font-size="4.7" fill="#333" text-anchor="start" font-weight="normal" font-style="normal" font-family="Liberation Sans" opacity="0.85">Idc1(A)</text>
<rect x="768.3" y="1293.0" width="5.0" height="4.8" fill="#f4f7f4" stroke="#7d8fb0" stroke-width="0.6"/>
<path d="M769.3,1295.3 l1.2,1.4 l2,-2.6" stroke="#2aa03a" stroke-width="0.8" fill="none"/>
<text x="775.4" y="1297.0" font-size="4.7" fill="#333" text-anchor="start" font-weight="normal" font-style="normal" font-family="Liberation Sans" opacity="0.85">Idc2(A)</text>
<rect x="812.6" y="1293.0" width="5.0" height="4.8" fill="#f4f7f4" stroke="#7d8fb0" stroke-width="0.6"/>
<path d="M813.6,1295.3 l1.2,1.4 l2,-2.6" stroke="#2aa03a" stroke-width="0.8" fill="none"/>
<text x="819.7" y="1297.0" font-size="4.7" fill="#333" text-anchor="start" font-weight="normal" font-style="normal" font-family="Liberation Sans" opacity="0.85">Idc3(A)</text>
<rect x="723.4" y="1302.2" width="5.0" height="4.8" fill="#f4f7f4" stroke="#7d8fb0" stroke-width="0.6"/>
<path d="M724.4,1304.5 l1.2,1.4 l2,-2.6" stroke="#2aa03a" stroke-width="0.8" fill="none"/>
<text x="730.5" y="1306.2" font-size="4.7" fill="#333" text-anchor="start" font-weight="normal" font-style="normal" font-family="Liberation Sans" opacity="0.85">IP1</text>
<rect x="768.3" y="1302.2" width="5.0" height="4.8" fill="#f4f7f4" stroke="#7d8fb0" stroke-width="0.6"/>
<path d="M769.3,1304.5 l1.2,1.4 l2,-2.6" stroke="#2aa03a" stroke-width="0.8" fill="none"/>
<text x="775.4" y="1306.2" font-size="4.7" fill="#333" text-anchor="start" font-weight="normal" font-style="normal" font-family="Liberation Sans" opacity="0.85">IP2</text>
<rect x="812.6" y="1302.2" width="5.0" height="4.8" fill="#f4f7f4" stroke="#7d8fb0" stroke-width="0.6"/>
<path d="M813.6,1304.5 l1.2,1.4 l2,-2.6" stroke="#2aa03a" stroke-width="0.8" fill="none"/>
<text x="819.7" y="1306.2" font-size="4.7" fill="#333" text-anchor="start" font-weight="normal" font-style="normal" font-family="Liberation Sans" opacity="0.85">IP3</text>
<rect x="723.4" y="1311.4" width="5.0" height="4.8" fill="#f4f7f4" stroke="#7d8fb0" stroke-width="0.6"/>
<path d="M724.4,1313.7 l1.2,1.4 l2,-2.6" stroke="#2aa03a" stroke-width="0.8" fill="none"/>
<text x="730.5" y="1315.4" font-size="4.7" fill="#333" text-anchor="start" font-weight="normal" font-style="normal" font-family="Liberation Sans" opacity="0.85">Is1</text>
<rect x="768.3" y="1311.4" width="5.0" height="4.8" fill="#f4f7f4" stroke="#7d8fb0" stroke-width="0.6"/>
<path d="M769.3,1313.7 l1.2,1.4 l2,-2.6" stroke="#2aa03a" stroke-width="0.8" fill="none"/>
<text x="775.4" y="1315.4" font-size="4.7" fill="#333" text-anchor="start" font-weight="normal" font-style="normal" font-family="Liberation Sans" opacity="0.85">Is2</text>
<rect x="812.6" y="1311.4" width="5.0" height="4.8" fill="#f4f7f4" stroke="#7d8fb0" stroke-width="0.6"/>
<path d="M813.6,1313.7 l1.2,1.4 l2,-2.6" stroke="#2aa03a" stroke-width="0.8" fill="none"/>
<text x="819.7" y="1315.4" font-size="4.7" fill="#333" text-anchor="start" font-weight="normal" font-style="normal" font-family="Liberation Sans" opacity="0.85">Is3</text>
<rect x="723.4" y="1320.9" width="5.0" height="4.8" fill="#f4f7f4" stroke="#7d8fb0" stroke-width="0.6"/>
<path d="M724.4,1323.2 l1.2,1.4 l2,-2.6" stroke="#2aa03a" stroke-width="0.8" fill="none"/>
<text x="730.5" y="1324.9" font-size="4.7" fill="#333" text-anchor="start" font-weight="normal" font-style="normal" font-family="Liberation Sans" opacity="0.85">VA1</text>
<rect x="768.3" y="1320.9" width="5.0" height="4.8" fill="#f4f7f4" stroke="#7d8fb0" stroke-width="0.6"/>
<path d="M769.3,1323.2 l1.2,1.4 l2,-2.6" stroke="#2aa03a" stroke-width="0.8" fill="none"/>
<text x="775.4" y="1324.9" font-size="4.7" fill="#333" text-anchor="start" font-weight="normal" font-style="normal" font-family="Liberation Sans" opacity="0.85">VA2</text>
<rect x="812.6" y="1320.9" width="5.0" height="4.8" fill="#f4f7f4" stroke="#7d8fb0" stroke-width="0.6"/>
<path d="M813.6,1323.2 l1.2,1.4 l2,-2.6" stroke="#2aa03a" stroke-width="0.8" fill="none"/>
<text x="819.7" y="1324.9" font-size="4.7" fill="#333" text-anchor="start" font-weight="normal" font-style="normal" font-family="Liberation Sans" opacity="0.85">VA3</text>
<rect x="723.4" y="1330.6" width="5.0" height="4.8" fill="#f4f7f4" stroke="#7d8fb0" stroke-width="0.6"/>
<path d="M724.4,1332.9 l1.2,1.4 l2,-2.6" stroke="#2aa03a" stroke-width="0.8" fill="none"/>
<text x="730.5" y="1334.6" font-size="4.7" fill="#333" text-anchor="start" font-weight="normal" font-style="normal" font-family="Liberation Sans" opacity="0.85">VAR1</text>
<rect x="768.3" y="1330.6" width="5.0" height="4.8" fill="#f4f7f4" stroke="#7d8fb0" stroke-width="0.6"/>
<path d="M769.3,1332.9 l1.2,1.4 l2,-2.6" stroke="#2aa03a" stroke-width="0.8" fill="none"/>
<text x="775.4" y="1334.6" font-size="4.7" fill="#333" text-anchor="start" font-weight="normal" font-style="normal" font-family="Liberation Sans" opacity="0.85">VAR2</text>
<rect x="812.6" y="1330.6" width="5.0" height="4.8" fill="#f4f7f4" stroke="#7d8fb0" stroke-width="0.6"/>
<path d="M813.6,1332.9 l1.2,1.4 l2,-2.6" stroke="#2aa03a" stroke-width="0.8" fill="none"/>
<text x="819.7" y="1334.6" font-size="4.7" fill="#333" text-anchor="start" font-weight="normal" font-style="normal" font-family="Liberation Sans" opacity="0.85">VAR3</text>
<rect x="723.4" y="1339.8" width="5.0" height="4.8" fill="#f4f7f4" stroke="#7d8fb0" stroke-width="0.6"/>
<path d="M724.4,1342.1 l1.2,1.4 l2,-2.6" stroke="#2aa03a" stroke-width="0.8" fill="none"/>
<text x="730.5" y="1343.8" font-size="4.7" fill="#333" text-anchor="start" font-weight="normal" font-style="normal" font-family="Liberation Sans" opacity="0.85">P_tot</text>
<rect x="768.3" y="1339.8" width="5.0" height="4.8" fill="#f4f7f4" stroke="#7d8fb0" stroke-width="0.6"/>
<path d="M769.3,1342.1 l1.2,1.4 l2,-2.6" stroke="#2aa03a" stroke-width="0.8" fill="none"/>
<text x="775.4" y="1343.8" font-size="4.7" fill="#333" text-anchor="start" font-weight="normal" font-style="normal" font-family="Liberation Sans" opacity="0.85">VA_tot</text>
<rect x="723.4" y="1349.6" width="5.0" height="4.8" fill="#f4f7f4" stroke="#7d8fb0" stroke-width="0.6"/>
<path d="M724.4,1351.9 l1.2,1.4 l2,-2.6" stroke="#2aa03a" stroke-width="0.8" fill="none"/>
<text x="730.5" y="1353.6" font-size="4.7" fill="#333" text-anchor="start" font-weight="normal" font-style="normal" font-family="Liberation Sans" opacity="0.85">Line1-2</text>
<rect x="768.3" y="1349.6" width="5.0" height="4.8" fill="#f4f7f4" stroke="#7d8fb0" stroke-width="0.6"/>
<path d="M769.3,1351.9 l1.2,1.4 l2,-2.6" stroke="#2aa03a" stroke-width="0.8" fill="none"/>
<text x="775.4" y="1353.6" font-size="4.7" fill="#333" text-anchor="start" font-weight="normal" font-style="normal" font-family="Liberation Sans" opacity="0.85">Line2-3</text>
<rect x="812.6" y="1349.6" width="5.0" height="4.8" fill="#f4f7f4" stroke="#7d8fb0" stroke-width="0.6"/>
<path d="M813.6,1351.9 l1.2,1.4 l2,-2.6" stroke="#2aa03a" stroke-width="0.8" fill="none"/>
<text x="819.7" y="1353.6" font-size="4.7" fill="#333" text-anchor="start" font-weight="normal" font-style="normal" font-family="Liberation Sans" opacity="0.85">Line3-1</text>
<rect x="864.8" y="1229.5" width="20.0" height="6.5" fill="#fafafa" stroke="#999" stroke-width="0.4"/>
<rect x="862.0" y="1229.0" width="3.0" height="7.5" fill="#ccc" stroke="#888" stroke-width="0.4"/>
<line x1="887.0" y1="1233.0" x2="912.0" y2="1233.0" stroke="#111" stroke-width="1.3" opacity="0.8" stroke-dasharray="2.2 0.7"/>
<line x1="913.0" y1="1233.0" x2="930.0" y2="1233.0" stroke="#555" stroke-width="1.1" opacity="0.3" stroke-dasharray="2.2 0.7"/>
<rect x="862.0" y="1245.4" width="105.0" height="24.0" fill="#d6d6d6"/>
<line x1="866.0" y1="1250.0" x2="895.0" y2="1250.0" stroke="#222" stroke-width="1.2" opacity="0.7" stroke-dasharray="2.2 0.7"/>
<rect x="863.5" y="1255.0" width="2.5" height="7.0" fill="#ccc" stroke="#888" stroke-width="0.4"/>
<rect x="866.0" y="1255.5" width="19.0" height="6.0" fill="#fafafa" stroke="#999" stroke-width="0.3"/>
<line x1="886.0" y1="1258.5" x2="891.0" y2="1258.5" stroke="#222" stroke-width="1.1" opacity="0.7" stroke-dasharray="2.2 0.7"/>
<line x1="868.0" y1="1265.5" x2="886.0" y2="1265.5" stroke="#666" stroke-width="1.1" opacity="0.25" stroke-dasharray="2.2 0.7"/>
<rect x="898.5" y="1255.0" width="2.5" height="7.0" fill="#ccc" stroke="#888" stroke-width="0.4"/>
<rect x="901.0" y="1255.5" width="19.0" height="6.0" fill="#fafafa" stroke="#999" stroke-width="0.3"/>
<line x1="921.0" y1="1258.5" x2="926.0" y2="1258.5" stroke="#222" stroke-width="1.1" opacity="0.7" stroke-dasharray="2.2 0.7"/>
<line x1="903.0" y1="1265.5" x2="921.0" y2="1265.5" stroke="#666" stroke-width="1.1" opacity="0.25" stroke-dasharray="2.2 0.7"/>
<rect x="935.5" y="1255.0" width="2.5" height="7.0" fill="#ccc" stroke="#888" stroke-width="0.4"/>
<rect x="938.0" y="1255.5" width="19.0" height="6.0" fill="#fafafa" stroke="#999" stroke-width="0.3"/>
<line x1="958.0" y1="1258.5" x2="963.0" y2="1258.5" stroke="#222" stroke-width="1.1" opacity="0.7" stroke-dasharray="2.2 0.7"/>
<line x1="940.0" y1="1265.5" x2="958.0" y2="1265.5" stroke="#666" stroke-width="1.1" opacity="0.25" stroke-dasharray="2.2 0.7"/>
<line x1="855.0" y1="1283.5" x2="869.0" y2="1283.5" stroke="#111" stroke-width="1.2" opacity="0.7" stroke-dasharray="2.2 0.7"/>
<rect x="878.7" y="1279.5" width="50.2" height="8.4" fill="#2f5aae"/>
<line x1="940.0" y1="1279.5" x2="962.0" y2="1279.5" stroke="#111" stroke-width="1.2" opacity="0.7" stroke-dasharray="2.2 0.7"/>
<rect x="940.0" y="1282.3" width="18.0" height="5.6" fill="#2f5aae"/>
<line x1="960.0" y1="1285.0" x2="963.0" y2="1285.0" stroke="#222" stroke-width="1.1" opacity="0.7" stroke-dasharray="2.2 0.7"/>
<line x1="984.5" y1="1305.0" x2="1008.5" y2="1305.0" stroke="#111" stroke-width="1.3" opacity="0.85" stroke-dasharray="2.2 0.7"/>
<rect x="985.2" y="1310.2" width="21.8" height="34.8" fill="#cfcfcf" stroke="#bbb" stroke-width="0.4"/>
<circle cx="995.8" cy="1322.7" r="9.6" fill="#2d5f2a" stroke="#1a3a1a" stroke-width="0.6"/>
<rect x="986.6" y="1334.7" width="18.1" height="10.3" fill="#e2e2e2" stroke="#aaa" stroke-width="0.4"/>
<text x="995.7" y="1343.0" font-size="6.5" fill="#4a5aa8" text-anchor="middle" font-weight="normal" font-style="normal">OFF</text></g>
</svg>
<svg class="full" width="1076" height="1470" viewBox="0 0 1076 1470" font-family="Liberation Sans"><defs>
<linearGradient id="mtopa" x1="0" y1="0" x2="0" y2="1"><stop offset="0" stop-color="#d8d8d8"/><stop offset="1" stop-color="#ececec"/></linearGradient>
<linearGradient id="mtopb" x1="0" y1="0" x2="0" y2="1"><stop offset="0" stop-color="#d8d8d8"/><stop offset="1" stop-color="#ececec"/></linearGradient>
<linearGradient id="mfront" x1="0" y1="0" x2="0" y2="1"><stop offset="0" stop-color="#e9e9e9"/><stop offset="1" stop-color="#e2e2e2"/></linearGradient>
<radialGradient id="mknob" cx="0.4" cy="0.4" r="0.7"><stop offset="0" stop-color="#ffffff"/><stop offset="1" stop-color="#c6c6c6"/></radialGradient>
</defs><g transform="translate(501.3,601.5)">
<path d="M14.6,0.6 H167.3 L178.8,15.7 H0 Z" fill="url(#mtopa)" stroke="#c9c9c9" stroke-width="0.5"/>
<rect x="0" y="15.7" width="178.8" height="91" fill="url(#mfront)" stroke="#c4c4c4" stroke-width="0.6"/>
<line x1="0" y1="16.2" x2="178.8" y2="16.2" stroke="#f8f8f8" stroke-width="1"/>
<rect x="19.6" y="18.7" width="64" height="39.7" fill="#1b1b1b" rx="1"/>
<rect x="21.5" y="21.6" width="49" height="34.3" fill="#92c6f0"/>
<rect x="21.5" y="20" width="49" height="1.8" fill="#111"/>
<rect x="22.5" y="20.2" width="6" height="1.4" fill="#e8d040"/><rect x="31" y="20.2" width="4" height="1.4" fill="#e8d040"/><rect x="38" y="20.2" width="4" height="1.4" fill="#e8d040"/><rect x="45" y="20.2" width="3" height="1.4" fill="#e04040"/>
<path d="M33,37 q4,-12 8,0 t8,0" stroke="#c888b8" stroke-width="0.6" fill="none"/><path d="M33,37 q4,12 8,0 t8,0" stroke="#88c8a8" stroke-width="0.6" fill="none"/>
<line x1="23" y1="23.8" x2="67" y2="23.8" stroke="#30507a" stroke-width="0.7" stroke-dasharray="2.5 1.2" opacity="0.7"/>
<line x1="23" y1="25.8" x2="67" y2="25.8" stroke="#30507a" stroke-width="0.7" stroke-dasharray="2.5 1.2" opacity="0.7"/>
<line x1="23" y1="27.8" x2="67" y2="27.8" stroke="#30507a" stroke-width="0.7" stroke-dasharray="2.5 1.2" opacity="0.7"/>
<rect x="24" y="32" width="3" height="1" fill="#6a9ad0"/><rect x="24" y="36" width="3" height="1" fill="#60c080"/><rect x="24" y="40" width="3" height="1" fill="#e06080"/><rect x="29" y="36" width="3" height="1" fill="#60c080"/><rect x="29" y="40" width="3" height="1" fill="#e06080"/>
<rect x="61.5" y="30" width="7.5" height="4" fill="#e6f040"/>
<line x1="61.5" y1="25.0" x2="69" y2="25.0" stroke="#4a6a90" stroke-width="0.5" opacity="0.6"/>
<line x1="61.5" y1="30.2" x2="69" y2="30.2" stroke="#4a6a90" stroke-width="0.5" opacity="0.6"/>
<line x1="61.5" y1="35.4" x2="69" y2="35.4" stroke="#4a6a90" stroke-width="0.5" opacity="0.6"/>
<line x1="61.5" y1="40.6" x2="69" y2="40.6" stroke="#4a6a90" stroke-width="0.5" opacity="0.6"/>
<line x1="61.5" y1="45.8" x2="69" y2="45.8" stroke="#4a6a90" stroke-width="0.5" opacity="0.6"/>
<line x1="61.5" y1="51.0" x2="69" y2="51.0" stroke="#4a6a90" stroke-width="0.5" opacity="0.6"/>
<line x1="60.5" y1="22" x2="60.5" y2="55" stroke="#5a7aa0" stroke-width="0.4"/>
<line x1="24.0" y1="52.5" x2="27.0" y2="52.5" stroke="#30507a" stroke-width="0.8" opacity="0.7"/>
<line x1="30.0" y1="52.5" x2="33.0" y2="52.5" stroke="#30507a" stroke-width="0.8" opacity="0.7"/>
<line x1="36.0" y1="52.5" x2="39.0" y2="52.5" stroke="#30507a" stroke-width="0.8" opacity="0.7"/>
<line x1="42.0" y1="52.5" x2="45.0" y2="52.5" stroke="#30507a" stroke-width="0.8" opacity="0.7"/>
<line x1="48.0" y1="52.5" x2="51.0" y2="52.5" stroke="#30507a" stroke-width="0.8" opacity="0.7"/>
<line x1="54.0" y1="52.5" x2="57.0" y2="52.5" stroke="#30507a" stroke-width="0.8" opacity="0.7"/>
<rect x="77.3" y="26.2" width="5" height="2.8" fill="#f4f4f4" rx="0.5"/>
<rect x="77.3" y="30.8" width="5" height="2.8" fill="#f4f4f4" rx="0.5"/>
<rect x="77.3" y="35.4" width="5" height="2.8" fill="#f4f4f4" rx="0.5"/>
<rect x="77.3" y="40.0" width="5" height="2.8" fill="#f4f4f4" rx="0.5"/>
<rect x="77.3" y="44.6" width="5" height="2.8" fill="#f4f4f4" rx="0.5"/>
<rect x="77.3" y="49.2" width="5" height="2.8" fill="#f4f4f4" rx="0.5"/>
<rect x="77.3" y="53.8" width="5" height="2.8" fill="#f4f4f4" rx="0.5"/>
<rect x="4" y="7.5" width="10" height="1.2" fill="#777" transform="translate(0,16)"/>
<rect x="6.7" y="36.7" width="6.6" height="3.5" fill="#1a1a1a" stroke="#bbb" stroke-width="0.4"/>
<path d="M6.7,56.8 h7.1 v-3 l-2,-1.2 h-3z" fill="#f4f4f4" stroke="#999" stroke-width="0.4"/>
<circle cx="100.3" cy="29.8" r="9.2" fill="#7fc0ee"/><circle cx="100.3" cy="29.8" r="7.6" fill="url(#mknob)" stroke="#c8c8c8" stroke-width="0.4"/>
<circle cx="100.3" cy="43" r="2.2" fill="#dedede" stroke="#aaa" stroke-width="0.4"/><circle cx="100.3" cy="54.5" r="2.2" fill="#dedede" stroke="#aaa" stroke-width="0.4"/>
<rect x="97" y="46.5" width="6.2" height="3.5" fill="#f0a020"/><circle cx="92" cy="48.5" r="1.8" fill="#dedede" stroke="#aaa" stroke-width="0.4"/><circle cx="108.6" cy="48.5" r="1.8" fill="#dedede" stroke="#aaa" stroke-width="0.4"/>
<rect x="118.1" y="27.2" width="6.3" height="4.2" fill="#e2e2e2" stroke="#999" stroke-width="0.5" rx="1"/>
<rect x="127.5" y="27.2" width="6.7" height="4.2" fill="#e2e2e2" stroke="#999" stroke-width="0.5" rx="1"/>
<rect x="118.1" y="34.5" width="6.3" height="4.2" fill="#e2e2e2" stroke="#999" stroke-width="0.5" rx="1"/>
<rect x="127.5" y="34.5" width="6.7" height="4.2" fill="#e2e2e2" stroke="#999" stroke-width="0.5" rx="1"/>
<rect x="118.1" y="41.8" width="6.3" height="4.2" fill="#e2e2e2" stroke="#999" stroke-width="0.5" rx="1"/>
<rect x="127.5" y="41.8" width="6.7" height="4.2" fill="#e2e2e2" stroke="#999" stroke-width="0.5" rx="1"/>
<rect x="117.5" y="49.1" width="6.9" height="3.7" fill="#3b9ae6" stroke="#999" stroke-width="0.5" rx="1"/>
<rect x="127.5" y="49.1" width="6.7" height="3.7" fill="#e2e2e2" stroke="#999" stroke-width="0.5" rx="1"/>
<rect x="137.9" y="26.1" width="6.3" height="5.3" fill="#e2e2e2" stroke="#999" stroke-width="0.5" rx="1"/>
<rect x="146.3" y="26.1" width="6.3" height="5.3" fill="#e2e2e2" stroke="#999" stroke-width="0.5" rx="1"/>
<rect x="154.7" y="26.1" width="6.3" height="5.3" fill="#e2e2e2" stroke="#999" stroke-width="0.5" rx="1"/>
<rect x="137.9" y="33.5" width="6.3" height="5.2" fill="#e2e2e2" stroke="#999" stroke-width="0.5" rx="1"/>
<rect x="146.3" y="33.5" width="6.3" height="5.2" fill="#e2e2e2" stroke="#999" stroke-width="0.5" rx="1"/>
<rect x="154.7" y="33.5" width="6.3" height="5.2" fill="#e2e2e2" stroke="#999" stroke-width="0.5" rx="1"/>
<rect x="137.9" y="40.8" width="6.3" height="5.2" fill="#e2e2e2" stroke="#999" stroke-width="0.5" rx="1"/>
<rect x="146.3" y="40.8" width="6.3" height="5.2" fill="#e2e2e2" stroke="#999" stroke-width="0.5" rx="1"/>
<rect x="154.7" y="40.8" width="6.3" height="5.2" fill="#e2e2e2" stroke="#999" stroke-width="0.5" rx="1"/>
<rect x="137.9" y="48.1" width="6.3" height="4.2" fill="#e2e2e2" stroke="#999" stroke-width="0.5" rx="1"/>
<rect x="146.3" y="48.1" width="6.3" height="4.2" fill="#e2e2e2" stroke="#999" stroke-width="0.5" rx="1"/>
<rect x="154.7" y="48.1" width="6.3" height="4.2" fill="#e2e2e2" stroke="#999" stroke-width="0.5" rx="1"/>
<rect x="137.9" y="55.0" width="6.3" height="4.6" fill="#e2e2e2" stroke="#999" stroke-width="0.5" rx="1"/>
<rect x="147.3" y="55.0" width="13.7" height="4.6" fill="#f2a414" stroke="#999" stroke-width="0.5" rx="1"/>
<text x="115" y="20.5" font-size="2.6" fill="#a8a8a8" textLength="50" lengthAdjust="spacingAndGlyphs">Programmable AC Source 61509</text>
<text x="5" y="20" font-size="2.2" fill="#777">Chroma</text>
<rect x="21.5" y="62" width="5" height="3.3" fill="#f4f4f4" stroke="#b8b8b8" stroke-width="0.35" rx="0.8"/>
<rect x="28.3" y="62" width="5" height="3.3" fill="#f4f4f4" stroke="#b8b8b8" stroke-width="0.35" rx="0.8"/>
<rect x="35.1" y="62" width="5" height="3.3" fill="#f4f4f4" stroke="#b8b8b8" stroke-width="0.35" rx="0.8"/>
<rect x="41.9" y="62" width="5" height="3.3" fill="#f4f4f4" stroke="#b8b8b8" stroke-width="0.35" rx="0.8"/>
<rect x="48.7" y="62" width="5" height="3.3" fill="#f4f4f4" stroke="#b8b8b8" stroke-width="0.35" rx="0.8"/>
<rect x="55.5" y="62" width="5" height="3.3" fill="#f4f4f4" stroke="#b8b8b8" stroke-width="0.35" rx="0.8"/>
<path d="M0,57 H12 L16,66 H163 L167,57 H178.8 V71 H0 Z" fill="#d7d7d7"/>
<path d="M0,60 H11 L14,67 H0Z" fill="#6a6a6a"/><path d="M178.8,60 H168 L165,67 H178.8Z" fill="#6a6a6a"/>
<rect x="0" y="71" width="178.8" height="36" fill="#e9e9e7"/>
<rect x="4.2" y="73.2" width="56.0" height="3.2" fill="#161616" rx="1.5"/>
<rect x="61.7" y="73.2" width="55.8" height="3.2" fill="#161616" rx="1.5"/>
<rect x="119.2" y="73.2" width="55.8" height="3.2" fill="#161616" rx="1.5"/>
<rect x="4.2" y="78.8" width="56.0" height="3.2" fill="#161616" rx="1.5"/>
<rect x="61.7" y="78.8" width="55.8" height="3.2" fill="#161616" rx="1.5"/>
<rect x="119.2" y="78.8" width="55.8" height="3.2" fill="#161616" rx="1.5"/>
<rect x="4.2" y="84.3" width="56.0" height="3.2" fill="#161616" rx="1.5"/>
<rect x="61.7" y="84.3" width="55.8" height="3.2" fill="#161616" rx="1.5"/>
<rect x="119.2" y="84.3" width="55.8" height="3.2" fill="#161616" rx="1.5"/>
<rect x="4.2" y="89.9" width="56.0" height="3.2" fill="#161616" rx="1.5"/>
<rect x="61.7" y="89.9" width="55.8" height="3.2" fill="#161616" rx="1.5"/>
<rect x="119.2" y="89.9" width="55.8" height="3.2" fill="#161616" rx="1.5"/>
<rect x="4.2" y="95.6" width="56.0" height="3.2" fill="#161616" rx="1.5"/>
<rect x="61.7" y="95.6" width="55.8" height="3.2" fill="#161616" rx="1.5"/>
<rect x="119.2" y="95.6" width="55.8" height="3.2" fill="#161616" rx="1.5"/>
<rect x="4.2" y="101.4" width="56.0" height="3.2" fill="#161616" rx="1.5"/>
<rect x="61.7" y="101.4" width="55.8" height="3.2" fill="#161616" rx="1.5"/>
<rect x="119.2" y="101.4" width="55.8" height="3.2" fill="#161616" rx="1.5"/>
<rect x="13.6" y="106.5" width="11.4" height="4.8" fill="#111" rx="2"/><rect x="152.7" y="106.5" width="12.5" height="4.8" fill="#111" rx="2"/>
</g><g transform="translate(815.7,602)">
<path d="M14.6,0.6 H167.3 L178.8,15.7 H0 Z" fill="url(#mtopb)" stroke="#c9c9c9" stroke-width="0.5"/>
<rect x="0" y="15.7" width="178.8" height="91" fill="url(#mfront)" stroke="#c4c4c4" stroke-width="0.6"/>
<line x1="0" y1="16.2" x2="178.8" y2="16.2" stroke="#f8f8f8" stroke-width="1"/>
<rect x="19.6" y="18.7" width="64" height="39.7" fill="#1b1b1b" rx="1"/>
<rect x="21.5" y="21.6" width="49" height="34.3" fill="#92c6f0"/>
<rect x="21.5" y="20" width="49" height="1.8" fill="#111"/>
<rect x="22.5" y="20.2" width="6" height="1.4" fill="#e8d040"/><rect x="31" y="20.2" width="4" height="1.4" fill="#e8d040"/><rect x="38" y="20.2" width="4" height="1.4" fill="#e8d040"/><rect x="45" y="20.2" width="3" height="1.4" fill="#e04040"/>
<path d="M33,37 q4,-12 8,0 t8,0" stroke="#c888b8" stroke-width="0.6" fill="none"/><path d="M33,37 q4,12 8,0 t8,0" stroke="#88c8a8" stroke-width="0.6" fill="none"/>
<line x1="23" y1="23.8" x2="67" y2="23.8" stroke="#30507a" stroke-width="0.7" stroke-dasharray="2.5 1.2" opacity="0.7"/>
<line x1="23" y1="25.8" x2="67" y2="25.8" stroke="#30507a" stroke-width="0.7" stroke-dasharray="2.5 1.2" opacity="0.7"/>
<line x1="23" y1="27.8" x2="67" y2="27.8" stroke="#30507a" stroke-width="0.7" stroke-dasharray="2.5 1.2" opacity="0.7"/>
<rect x="24" y="32" width="3" height="1" fill="#6a9ad0"/><rect x="24" y="36" width="3" height="1" fill="#60c080"/><rect x="24" y="40" width="3" height="1" fill="#e06080"/><rect x="29" y="36" width="3" height="1" fill="#60c080"/><rect x="29" y="40" width="3" height="1" fill="#e06080"/>
<rect x="61.5" y="30" width="7.5" height="4" fill="#e6f040"/>
<line x1="61.5" y1="25.0" x2="69" y2="25.0" stroke="#4a6a90" stroke-width="0.5" opacity="0.6"/>
<line x1="61.5" y1="30.2" x2="69" y2="30.2" stroke="#4a6a90" stroke-width="0.5" opacity="0.6"/>
<line x1="61.5" y1="35.4" x2="69" y2="35.4" stroke="#4a6a90" stroke-width="0.5" opacity="0.6"/>
<line x1="61.5" y1="40.6" x2="69" y2="40.6" stroke="#4a6a90" stroke-width="0.5" opacity="0.6"/>
<line x1="61.5" y1="45.8" x2="69" y2="45.8" stroke="#4a6a90" stroke-width="0.5" opacity="0.6"/>
<line x1="61.5" y1="51.0" x2="69" y2="51.0" stroke="#4a6a90" stroke-width="0.5" opacity="0.6"/>
<line x1="60.5" y1="22" x2="60.5" y2="55" stroke="#5a7aa0" stroke-width="0.4"/>
<line x1="24.0" y1="52.5" x2="27.0" y2="52.5" stroke="#30507a" stroke-width="0.8" opacity="0.7"/>
<line x1="30.0" y1="52.5" x2="33.0" y2="52.5" stroke="#30507a" stroke-width="0.8" opacity="0.7"/>
<line x1="36.0" y1="52.5" x2="39.0" y2="52.5" stroke="#30507a" stroke-width="0.8" opacity="0.7"/>
<line x1="42.0" y1="52.5" x2="45.0" y2="52.5" stroke="#30507a" stroke-width="0.8" opacity="0.7"/>
<line x1="48.0" y1="52.5" x2="51.0" y2="52.5" stroke="#30507a" stroke-width="0.8" opacity="0.7"/>
<line x1="54.0" y1="52.5" x2="57.0" y2="52.5" stroke="#30507a" stroke-width="0.8" opacity="0.7"/>
<rect x="77.3" y="26.2" width="5" height="2.8" fill="#f4f4f4" rx="0.5"/>
<rect x="77.3" y="30.8" width="5" height="2.8" fill="#f4f4f4" rx="0.5"/>
<rect x="77.3" y="35.4" width="5" height="2.8" fill="#f4f4f4" rx="0.5"/>
<rect x="77.3" y="40.0" width="5" height="2.8" fill="#f4f4f4" rx="0.5"/>
<rect x="77.3" y="44.6" width="5" height="2.8" fill="#f4f4f4" rx="0.5"/>
<rect x="77.3" y="49.2" width="5" height="2.8" fill="#f4f4f4" rx="0.5"/>
<rect x="77.3" y="53.8" width="5" height="2.8" fill="#f4f4f4" rx="0.5"/>
<rect x="4" y="7.5" width="10" height="1.2" fill="#777" transform="translate(0,16)"/>
<rect x="6.7" y="36.7" width="6.6" height="3.5" fill="#1a1a1a" stroke="#bbb" stroke-width="0.4"/>
<path d="M6.7,56.8 h7.1 v-3 l-2,-1.2 h-3z" fill="#f4f4f4" stroke="#999" stroke-width="0.4"/>
<circle cx="100.3" cy="29.8" r="9.2" fill="#7fc0ee"/><circle cx="100.3" cy="29.8" r="7.6" fill="url(#mknob)" stroke="#c8c8c8" stroke-width="0.4"/>
<circle cx="100.3" cy="43" r="2.2" fill="#dedede" stroke="#aaa" stroke-width="0.4"/><circle cx="100.3" cy="54.5" r="2.2" fill="#dedede" stroke="#aaa" stroke-width="0.4"/>
<rect x="97" y="46.5" width="6.2" height="3.5" fill="#f0a020"/><circle cx="92" cy="48.5" r="1.8" fill="#dedede" stroke="#aaa" stroke-width="0.4"/><circle cx="108.6" cy="48.5" r="1.8" fill="#dedede" stroke="#aaa" stroke-width="0.4"/>
<rect x="118.1" y="27.2" width="6.3" height="4.2" fill="#e2e2e2" stroke="#999" stroke-width="0.5" rx="1"/>
<rect x="127.5" y="27.2" width="6.7" height="4.2" fill="#e2e2e2" stroke="#999" stroke-width="0.5" rx="1"/>
<rect x="118.1" y="34.5" width="6.3" height="4.2" fill="#e2e2e2" stroke="#999" stroke-width="0.5" rx="1"/>
<rect x="127.5" y="34.5" width="6.7" height="4.2" fill="#e2e2e2" stroke="#999" stroke-width="0.5" rx="1"/>
<rect x="118.1" y="41.8" width="6.3" height="4.2" fill="#e2e2e2" stroke="#999" stroke-width="0.5" rx="1"/>
<rect x="127.5" y="41.8" width="6.7" height="4.2" fill="#e2e2e2" stroke="#999" stroke-width="0.5" rx="1"/>
<rect x="117.5" y="49.1" width="6.9" height="3.7" fill="#3b9ae6" stroke="#999" stroke-width="0.5" rx="1"/>
<rect x="127.5" y="49.1" width="6.7" height="3.7" fill="#e2e2e2" stroke="#999" stroke-width="0.5" rx="1"/>
<rect x="137.9" y="26.1" width="6.3" height="5.3" fill="#e2e2e2" stroke="#999" stroke-width="0.5" rx="1"/>
<rect x="146.3" y="26.1" width="6.3" height="5.3" fill="#e2e2e2" stroke="#999" stroke-width="0.5" rx="1"/>
<rect x="154.7" y="26.1" width="6.3" height="5.3" fill="#e2e2e2" stroke="#999" stroke-width="0.5" rx="1"/>
<rect x="137.9" y="33.5" width="6.3" height="5.2" fill="#e2e2e2" stroke="#999" stroke-width="0.5" rx="1"/>
<rect x="146.3" y="33.5" width="6.3" height="5.2" fill="#e2e2e2" stroke="#999" stroke-width="0.5" rx="1"/>
<rect x="154.7" y="33.5" width="6.3" height="5.2" fill="#e2e2e2" stroke="#999" stroke-width="0.5" rx="1"/>
<rect x="137.9" y="40.8" width="6.3" height="5.2" fill="#e2e2e2" stroke="#999" stroke-width="0.5" rx="1"/>
<rect x="146.3" y="40.8" width="6.3" height="5.2" fill="#e2e2e2" stroke="#999" stroke-width="0.5" rx="1"/>
<rect x="154.7" y="40.8" width="6.3" height="5.2" fill="#e2e2e2" stroke="#999" stroke-width="0.5" rx="1"/>
<rect x="137.9" y="48.1" width="6.3" height="4.2" fill="#e2e2e2" stroke="#999" stroke-width="0.5" rx="1"/>
<rect x="146.3" y="48.1" width="6.3" height="4.2" fill="#e2e2e2" stroke="#999" stroke-width="0.5" rx="1"/>
<rect x="154.7" y="48.1" width="6.3" height="4.2" fill="#e2e2e2" stroke="#999" stroke-width="0.5" rx="1"/>
<rect x="137.9" y="55.0" width="6.3" height="4.6" fill="#e2e2e2" stroke="#999" stroke-width="0.5" rx="1"/>
<rect x="147.3" y="55.0" width="13.7" height="4.6" fill="#f2a414" stroke="#999" stroke-width="0.5" rx="1"/>
<text x="115" y="20.5" font-size="2.6" fill="#a8a8a8" textLength="50" lengthAdjust="spacingAndGlyphs">Programmable AC Source 61509</text>
<text x="5" y="20" font-size="2.2" fill="#777">Chroma</text>
<rect x="21.5" y="62" width="5" height="3.3" fill="#f4f4f4" stroke="#b8b8b8" stroke-width="0.35" rx="0.8"/>
<rect x="28.3" y="62" width="5" height="3.3" fill="#f4f4f4" stroke="#b8b8b8" stroke-width="0.35" rx="0.8"/>
<rect x="35.1" y="62" width="5" height="3.3" fill="#f4f4f4" stroke="#b8b8b8" stroke-width="0.35" rx="0.8"/>
<rect x="41.9" y="62" width="5" height="3.3" fill="#f4f4f4" stroke="#b8b8b8" stroke-width="0.35" rx="0.8"/>
<rect x="48.7" y="62" width="5" height="3.3" fill="#f4f4f4" stroke="#b8b8b8" stroke-width="0.35" rx="0.8"/>
<rect x="55.5" y="62" width="5" height="3.3" fill="#f4f4f4" stroke="#b8b8b8" stroke-width="0.35" rx="0.8"/>
<path d="M0,57 H12 L16,66 H163 L167,57 H178.8 V71 H0 Z" fill="#d7d7d7"/>
<path d="M0,60 H11 L14,67 H0Z" fill="#6a6a6a"/><path d="M178.8,60 H168 L165,67 H178.8Z" fill="#6a6a6a"/>
<rect x="0" y="71" width="178.8" height="36" fill="#e9e9e7"/>
<rect x="4.2" y="73.2" width="56.0" height="3.2" fill="#161616" rx="1.5"/>
<rect x="61.7" y="73.2" width="55.8" height="3.2" fill="#161616" rx="1.5"/>
<rect x="119.2" y="73.2" width="55.8" height="3.2" fill="#161616" rx="1.5"/>
<rect x="4.2" y="78.8" width="56.0" height="3.2" fill="#161616" rx="1.5"/>
<rect x="61.7" y="78.8" width="55.8" height="3.2" fill="#161616" rx="1.5"/>
<rect x="119.2" y="78.8" width="55.8" height="3.2" fill="#161616" rx="1.5"/>
<rect x="4.2" y="84.3" width="56.0" height="3.2" fill="#161616" rx="1.5"/>
<rect x="61.7" y="84.3" width="55.8" height="3.2" fill="#161616" rx="1.5"/>
<rect x="119.2" y="84.3" width="55.8" height="3.2" fill="#161616" rx="1.5"/>
<rect x="4.2" y="89.9" width="56.0" height="3.2" fill="#161616" rx="1.5"/>
<rect x="61.7" y="89.9" width="55.8" height="3.2" fill="#161616" rx="1.5"/>
<rect x="119.2" y="89.9" width="55.8" height="3.2" fill="#161616" rx="1.5"/>
<rect x="4.2" y="95.6" width="56.0" height="3.2" fill="#161616" rx="1.5"/>
<rect x="61.7" y="95.6" width="55.8" height="3.2" fill="#161616" rx="1.5"/>
<rect x="119.2" y="95.6" width="55.8" height="3.2" fill="#161616" rx="1.5"/>
<rect x="4.2" y="101.4" width="56.0" height="3.2" fill="#161616" rx="1.5"/>
<rect x="61.7" y="101.4" width="55.8" height="3.2" fill="#161616" rx="1.5"/>
<rect x="119.2" y="101.4" width="55.8" height="3.2" fill="#161616" rx="1.5"/>
<rect x="13.6" y="106.5" width="11.4" height="4.8" fill="#111" rx="2"/><rect x="152.7" y="106.5" width="12.5" height="4.8" fill="#111" rx="2"/>
</g></svg>

<div class="a cap" style="left:79.5px;top:1123.5px">控制主画面</div>
<div class="a cap" style="left:397.5px;top:1123.5px">间谐波测试</div>
<div class="a cap" style="left:715px;top:1123.5px">暂态电压编程</div>
<div class="a cap" style="left:79.5px;top:1375px">电压暂降，短时中断和电压变化法规测试</div>
<div class="a cap" style="left:397.5px;top:1375px">失真波形编程</div>
<div class="a cap" style="left:715px;top:1375px">参数量测记录功能</div>
</body></html>
